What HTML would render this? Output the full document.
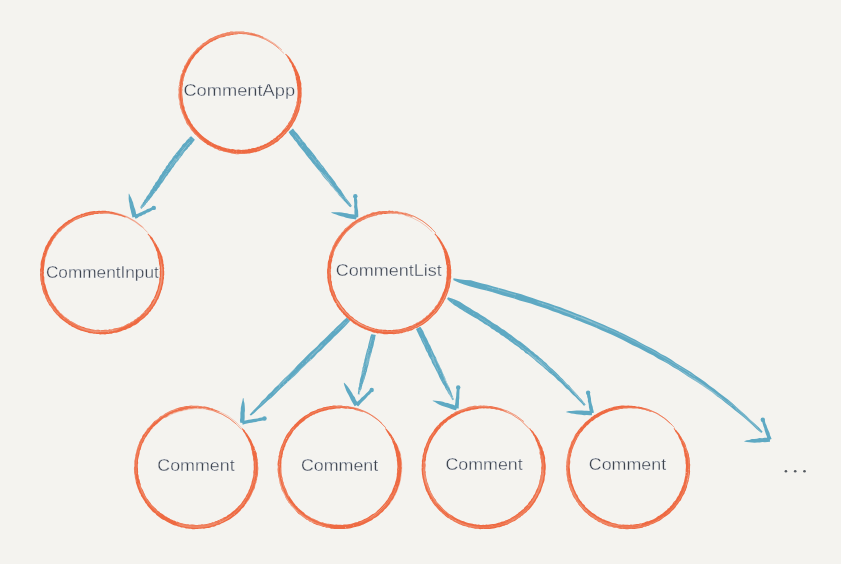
<!DOCTYPE html>
<html><head><meta charset="utf-8"><style>
html,body{margin:0;padding:0;background:#f4f3ef;}
svg{display:block}
text{font-family:"Liberation Sans",sans-serif;font-size:17px;fill:#3a3f46;stroke:#f4f3ef;stroke-width:0.3}
</style></head><body>
<svg width="841" height="564" viewBox="0 0 841 564">
<rect width="841" height="564" fill="#f4f3ef"/>
<path d="M191.18,136.25 L189.87,137.05 L188.89,138.18 L187.89,139.28 L186.73,140.23 L185.93,141.52 L184.96,142.63 L183.76,143.56 L182.68,144.59 L181.86,145.83 L181.10,147.13 L180.02,148.16 L179.23,149.42 L178.37,150.62 L177.30,151.66 L176.36,152.80 L175.47,153.98 L174.60,155.16 L173.50,156.18 L172.68,157.41 L172.02,158.76 L171.17,159.96 L170.12,161.01 L169.23,162.19 L168.34,163.36 L167.89,164.84 L166.68,165.78 L165.81,166.97 L165.36,168.44 L164.24,169.46 L163.71,170.87 L162.53,171.84 L162.07,173.30 L161.26,174.52 L160.17,175.55 L159.47,176.84 L158.82,178.17 L158.05,179.41 L157.26,180.65 L156.43,181.85 L155.32,182.86 L154.81,184.28 L154.06,185.54 L153.01,186.58 L152.54,188.03 L151.72,189.23 L150.70,190.30 L150.12,191.66 L149.43,192.95 L148.59,194.14 L147.75,195.33 L146.74,196.39 L146.12,197.73 L145.50,199.08 L144.43,200.09 L143.91,201.51 L142.93,202.59 L142.37,203.98 L141.31,205.00 L140.71,206.37 L140.08,207.72 L141.69,208.97 L142.35,207.63 L143.53,206.69 L144.64,205.70 L145.61,204.59 L146.26,203.25 L147.46,202.31 L148.14,200.99 L149.35,200.06 L150.12,198.81 L151.02,197.65 L151.99,196.54 L152.88,195.37 L153.57,194.06 L154.56,192.97 L155.41,191.78 L156.59,190.81 L157.32,189.53 L158.08,188.28 L159.15,187.23 L159.97,186.02 L160.60,184.69 L161.52,183.54 L162.46,182.41 L163.34,181.24 L164.07,179.97 L164.80,178.70 L165.59,177.47 L166.50,176.33 L167.56,175.29 L168.22,173.98 L169.03,172.77 L170.02,171.68 L170.77,170.43 L171.64,169.27 L172.38,168.01 L173.48,167.02 L174.14,165.71 L175.00,164.54 L175.72,163.27 L176.64,162.15 L177.70,161.13 L178.68,160.06 L179.26,158.69 L180.29,157.66 L181.16,156.51 L182.13,155.43 L182.87,154.19 L183.68,152.99 L184.52,151.81 L185.41,150.68 L186.56,149.76 L187.62,148.78 L188.21,147.38 L189.44,146.55 L190.20,145.30 L191.34,144.39 L192.20,143.23 L193.10,142.10 L193.93,140.91 L194.86,139.78Z" fill="#5ea9c3"/>
<path d="M179.71,155.38 L178.82,156.53 L177.94,157.69 L177.07,158.85 L176.20,160.02 L175.33,161.19 L174.47,162.36 L173.62,163.54 L172.76,164.72 L171.92,165.90 L171.07,167.09 L170.23,168.28" stroke="#f4f3ef" stroke-width="0.40" fill="none" opacity="0.50"/><path d="M148.21,199.24 L147.33,200.40 L146.44,201.56 L145.55,202.72 L144.65,203.87 L143.74,205.02 L142.83,206.16 L141.91,207.29 L140.98,208.42" stroke="#f4f3ef" stroke-width="0.40" fill="none" opacity="0.50"/><path d="M183.82,151.25 L182.91,152.37 L182.01,153.50 L181.12,154.64 L180.23,155.79 L179.34,156.93 L178.46,158.09" stroke="#f4f3ef" stroke-width="0.40" fill="none" opacity="0.50"/><path d="M166.79,172.99 L165.96,174.19 L165.13,175.39 L164.30,176.59 L163.47,177.80 L162.64,179.00 L161.81,180.20" stroke="#f4f3ef" stroke-width="0.40" fill="none" opacity="0.50"/><path d="M142.05,205.57 L141.21,206.75 L140.36,207.94" stroke="#f4f3ef" stroke-width="0.40" fill="none" opacity="0.50"/><path d="M189.33,142.58 L188.36,143.67 L187.40,144.77 L186.44,145.87 L185.50,146.98 L184.56,148.09 L183.63,149.21 L182.71,150.34 L181.79,151.47 L180.89,152.61" stroke="#f4f3ef" stroke-width="0.40" fill="none" opacity="0.50"/><path d="M180.54,156.03 L179.66,157.18 L178.78,158.33 L177.91,159.48 L177.04,160.65 L176.18,161.81" stroke="#f4f3ef" stroke-width="0.40" fill="none" opacity="0.50"/><path d="M175.97,158.03 L175.09,159.20 L174.23,160.37 L173.37,161.55 L172.51,162.74 L171.66,163.92 L170.81,165.11 L169.96,166.30 L169.12,167.50 L168.28,168.70 L167.45,169.90" stroke="#f4f3ef" stroke-width="0.40" fill="none" opacity="0.50"/><path d="M185.69,147.14 L184.75,148.25 L183.82,149.37 L182.90,150.50 L181.99,151.63 L181.08,152.77 L180.18,153.91" stroke="#f4f3ef" stroke-width="0.40" fill="none" opacity="0.50"/><path d="M142.46,204.05 L141.66,205.27 L140.86,206.48 L140.05,207.70" stroke="#f4f3ef" stroke-width="0.40" fill="none" opacity="0.50"/>
<circle cx="155.16" cy="186.28" r="0.38" fill="#f4f3ef" opacity="0.55"/><circle cx="141.22" cy="208.60" r="0.26" fill="#f4f3ef" opacity="0.55"/><circle cx="192.07" cy="139.14" r="0.34" fill="#f4f3ef" opacity="0.55"/><circle cx="173.22" cy="157.81" r="0.26" fill="#f4f3ef" opacity="0.55"/><circle cx="159.34" cy="185.59" r="0.27" fill="#f4f3ef" opacity="0.55"/><circle cx="176.00" cy="159.87" r="0.50" fill="#f4f3ef" opacity="0.55"/><circle cx="189.19" cy="142.45" r="0.34" fill="#f4f3ef" opacity="0.55"/><circle cx="189.48" cy="138.73" r="0.43" fill="#f4f3ef" opacity="0.55"/><circle cx="154.86" cy="191.40" r="0.49" fill="#f4f3ef" opacity="0.55"/><circle cx="174.13" cy="162.11" r="0.42" fill="#f4f3ef" opacity="0.55"/><circle cx="144.20" cy="205.36" r="0.46" fill="#f4f3ef" opacity="0.55"/><circle cx="140.28" cy="207.87" r="0.47" fill="#f4f3ef" opacity="0.55"/><circle cx="162.96" cy="180.98" r="0.42" fill="#f4f3ef" opacity="0.55"/><circle cx="170.57" cy="164.95" r="0.40" fill="#f4f3ef" opacity="0.55"/><circle cx="189.68" cy="144.84" r="0.28" fill="#f4f3ef" opacity="0.55"/><circle cx="176.22" cy="154.55" r="0.43" fill="#f4f3ef" opacity="0.55"/><circle cx="169.05" cy="163.86" r="0.42" fill="#f4f3ef" opacity="0.55"/><circle cx="167.00" cy="171.36" r="0.46" fill="#f4f3ef" opacity="0.55"/><circle cx="187.95" cy="143.31" r="0.38" fill="#f4f3ef" opacity="0.55"/><circle cx="174.78" cy="158.97" r="0.37" fill="#f4f3ef" opacity="0.55"/><circle cx="177.69" cy="151.96" r="0.28" fill="#f4f3ef" opacity="0.55"/><circle cx="149.86" cy="195.04" r="0.48" fill="#f4f3ef" opacity="0.55"/><circle cx="176.15" cy="154.50" r="0.34" fill="#f4f3ef" opacity="0.55"/><circle cx="183.48" cy="147.19" r="0.30" fill="#f4f3ef" opacity="0.55"/><circle cx="182.23" cy="148.06" r="0.34" fill="#f4f3ef" opacity="0.55"/>
<path d="M153.11,206.44 L151.32,207.62 L149.39,208.48 L147.34,209.09 L145.54,210.23 L143.60,211.09 L141.67,211.96 L139.71,212.76 L137.84,213.76 L135.71,214.20 L133.97,215.46 L135.51,218.70 L137.47,217.91 L139.20,216.61 L141.27,216.03 L142.99,214.73 L145.05,214.13 L146.79,212.86 L148.79,212.14 L150.65,211.13 L152.49,210.08 L154.40,209.16Z" fill="#5ea9c3"/>
<path d="M137.04,216.41 L136.18,214.15 L135.73,211.80 L135.20,209.46 L134.31,207.22 L133.61,204.93 L133.06,202.60 L132.09,200.37 L131.28,198.11 L130.17,195.92 L129.17,193.71 L128.67,193.83 L128.72,196.29 L128.64,198.78 L128.91,201.18 L129.45,203.51 L129.73,205.91 L130.13,208.28 L130.77,210.59 L131.29,212.93 L131.97,215.22 L132.41,217.58Z" fill="#5ea9c3"/>
<circle cx="153.80" cy="207.90" r="2.2" fill="#5ea9c3"/>
<path d="M288.62,132.01 L290.30,134.82 L292.52,137.19 L294.32,139.91 L296.54,142.28 L298.25,145.06 L300.30,147.58 L302.38,150.07 L304.50,152.53 L306.39,155.17 L308.41,157.70 L310.56,160.14 L312.36,162.85 L314.49,165.30 L316.52,167.83 L318.63,170.30 L320.73,172.77 L322.52,175.49 L324.50,178.06 L326.75,180.41 L328.90,182.85 L330.70,185.56 L333.04,187.84 L335.03,190.40 L337.17,192.84 L339.05,195.49 L341.27,197.87 L343.50,200.24 L345.74,202.61 L347.95,204.99 L350.18,207.36 L351.87,206.04 L350.09,203.31 L348.08,200.77 L346.09,198.21 L344.23,195.55 L342.45,192.82 L340.85,189.95 L338.60,187.60 L336.75,184.93 L335.09,182.10 L333.14,179.52 L331.24,176.88 L329.03,174.49 L327.14,171.86 L325.19,169.27 L323.35,166.59 L321.19,164.16 L319.38,161.45 L317.13,159.10 L315.39,156.35 L313.45,153.74 L311.43,151.20 L309.37,148.70 L307.08,146.38 L305.36,143.61 L303.16,141.21 L301.13,138.68 L299.20,136.08 L297.26,133.47 L294.97,131.15 L292.99,128.58Z" fill="#5ea9c3"/>
<path d="M318.15,162.42 L320.15,164.98 L322.14,167.54" stroke="#f4f3ef" stroke-width="0.40" fill="none" opacity="0.50"/><path d="M310.95,155.71 L312.96,158.26 L314.96,160.81 L316.96,163.36" stroke="#f4f3ef" stroke-width="0.40" fill="none" opacity="0.50"/><path d="M321.53,172.14 L323.56,174.67 L325.58,177.20 L327.62,179.73 L329.65,182.25 L331.69,184.77 L333.74,187.29" stroke="#f4f3ef" stroke-width="0.40" fill="none" opacity="0.50"/><path d="M333.39,187.56 L335.46,190.06 L337.55,192.55 L339.64,195.03 L341.74,197.50 L343.85,199.96" stroke="#f4f3ef" stroke-width="0.40" fill="none" opacity="0.50"/><path d="M319.08,169.94 L321.11,172.47 L323.14,175.00 L325.17,177.53 L327.21,180.05 L329.26,182.56 L331.32,185.07" stroke="#f4f3ef" stroke-width="0.40" fill="none" opacity="0.50"/><path d="M295.05,135.21 L297.06,137.76 L299.06,140.31 L301.06,142.86" stroke="#f4f3ef" stroke-width="0.40" fill="none" opacity="0.50"/><path d="M323.59,174.65 L325.62,177.18 L327.65,179.71 L329.68,182.23 L331.73,184.75" stroke="#f4f3ef" stroke-width="0.40" fill="none" opacity="0.50"/><path d="M324.77,173.72 L326.77,176.27 L328.78,178.82 L330.79,181.36" stroke="#f4f3ef" stroke-width="0.40" fill="none" opacity="0.50"/><path d="M343.51,196.11 L345.46,198.71 L347.39,201.31 L349.32,203.92 L351.24,206.53" stroke="#f4f3ef" stroke-width="0.40" fill="none" opacity="0.50"/><path d="M331.30,185.08 L333.36,187.59 L335.44,190.08 L337.52,192.57 L339.61,195.05 L341.72,197.52" stroke="#f4f3ef" stroke-width="0.40" fill="none" opacity="0.50"/>
<circle cx="343.89" cy="199.93" r="0.30" fill="#f4f3ef" opacity="0.55"/><circle cx="345.78" cy="198.45" r="0.39" fill="#f4f3ef" opacity="0.55"/><circle cx="306.51" cy="150.95" r="0.30" fill="#f4f3ef" opacity="0.55"/><circle cx="326.44" cy="172.41" r="0.25" fill="#f4f3ef" opacity="0.55"/><circle cx="316.88" cy="159.30" r="0.49" fill="#f4f3ef" opacity="0.55"/><circle cx="321.11" cy="172.47" r="0.39" fill="#f4f3ef" opacity="0.55"/><circle cx="328.38" cy="175.00" r="0.27" fill="#f4f3ef" opacity="0.55"/><circle cx="302.72" cy="141.55" r="0.38" fill="#f4f3ef" opacity="0.55"/><circle cx="315.04" cy="164.87" r="0.45" fill="#f4f3ef" opacity="0.55"/><circle cx="315.84" cy="160.12" r="0.37" fill="#f4f3ef" opacity="0.55"/><circle cx="299.52" cy="139.95" r="0.48" fill="#f4f3ef" opacity="0.55"/><circle cx="348.15" cy="204.84" r="0.37" fill="#f4f3ef" opacity="0.55"/><circle cx="312.54" cy="154.46" r="0.35" fill="#f4f3ef" opacity="0.55"/><circle cx="289.21" cy="131.55" r="0.28" fill="#f4f3ef" opacity="0.55"/><circle cx="337.35" cy="192.70" r="0.26" fill="#f4f3ef" opacity="0.55"/><circle cx="300.01" cy="139.56" r="0.42" fill="#f4f3ef" opacity="0.55"/><circle cx="309.86" cy="156.57" r="0.31" fill="#f4f3ef" opacity="0.55"/><circle cx="322.52" cy="167.24" r="0.43" fill="#f4f3ef" opacity="0.55"/><circle cx="295.27" cy="139.16" r="0.41" fill="#f4f3ef" opacity="0.55"/><circle cx="335.95" cy="185.55" r="0.38" fill="#f4f3ef" opacity="0.55"/><circle cx="318.89" cy="161.84" r="0.41" fill="#f4f3ef" opacity="0.55"/><circle cx="342.81" cy="196.66" r="0.29" fill="#f4f3ef" opacity="0.55"/><circle cx="301.22" cy="146.85" r="0.38" fill="#f4f3ef" opacity="0.55"/><circle cx="302.69" cy="145.70" r="0.46" fill="#f4f3ef" opacity="0.55"/><circle cx="328.52" cy="179.02" r="0.28" fill="#f4f3ef" opacity="0.55"/>
<path d="M353.70,196.29 L354.05,198.40 L353.99,200.53 L354.26,202.64 L354.34,204.76 L354.06,206.90 L354.53,209.00 L354.43,211.14 L354.44,213.26 L354.68,215.38 L354.45,217.52 L358.20,217.30 L358.29,215.17 L358.16,213.05 L358.11,210.93 L357.66,208.83 L357.36,206.72 L357.18,204.60 L357.35,202.46 L357.23,200.34 L356.71,198.25 L356.76,196.12Z" fill="#5ea9c3"/>
<path d="M356.93,215.21 L354.44,214.59 L351.92,214.17 L349.37,213.88 L346.90,213.19 L344.34,212.97 L341.82,212.49 L339.28,212.16 L336.64,212.35 L334.04,212.32 L331.43,212.36 L331.34,212.83 L333.78,213.66 L336.21,214.57 L338.62,215.57 L341.07,216.35 L343.61,216.71 L346.02,217.67 L348.51,218.31 L351.05,218.64 L353.58,219.00 L356.09,219.49Z" fill="#5ea9c3"/>
<circle cx="355.30" cy="196.20" r="2.2" fill="#5ea9c3"/>
<path d="M346.91,317.47 L343.40,320.44 L340.22,323.75 L336.83,326.83 L333.63,330.11 L330.20,333.17 L327.07,336.53 L323.74,339.67 L320.26,342.68 L317.27,346.18 L313.92,349.31 L310.46,352.33 L307.17,355.52 L304.02,358.86 L300.75,362.07 L297.43,365.23 L294.40,368.69 L291.13,371.91 L287.89,375.15 L284.51,378.25 L281.32,381.54 L278.17,384.88 L274.75,387.94 L271.79,391.47 L268.28,394.44 L265.42,398.08 L261.93,401.06 L259.03,404.65 L255.89,408.01 L252.65,411.24 L249.64,414.72 L250.73,415.85 L254.31,412.94 L257.59,409.74 L261.12,406.79 L264.48,403.67 L267.86,400.57 L271.45,397.69 L274.81,394.57 L277.96,391.23 L281.26,388.05 L284.60,384.90 L287.99,381.81 L291.30,378.64 L294.82,375.68 L298.06,372.44 L301.20,369.10 L304.52,365.94 L307.77,362.69 L311.32,359.77 L314.59,356.55 L317.60,353.07 L321.13,350.13 L324.35,346.86 L327.55,343.58 L330.84,340.39 L334.00,337.06 L337.39,333.97 L340.67,330.76 L343.96,327.57 L347.03,324.16 L350.14,320.77Z" fill="#5ea9c3"/>
<path d="M310.79,359.22 L307.50,362.42 L304.20,365.61 L300.91,368.79 L297.61,371.98 L294.31,375.16 L291.00,378.33" stroke="#f4f3ef" stroke-width="0.40" fill="none" opacity="0.50"/><path d="M285.58,379.34 L282.32,382.57 L279.06,385.79" stroke="#f4f3ef" stroke-width="0.40" fill="none" opacity="0.50"/><path d="M322.68,345.16 L319.40,348.36 L316.12,351.56 L312.84,354.76 L309.56,357.97 L306.28,361.17" stroke="#f4f3ef" stroke-width="0.40" fill="none" opacity="0.50"/><path d="M344.86,321.93 L341.55,325.11 L338.27,328.31 L334.99,331.52" stroke="#f4f3ef" stroke-width="0.40" fill="none" opacity="0.50"/><path d="M349.27,319.89 L346.07,323.18 L342.83,326.42" stroke="#f4f3ef" stroke-width="0.40" fill="none" opacity="0.50"/><path d="M322.20,344.66 L318.92,347.86 L315.64,351.07 L312.36,354.27 L309.08,357.47" stroke="#f4f3ef" stroke-width="0.40" fill="none" opacity="0.50"/><path d="M294.66,368.96 L291.40,372.19 L288.15,375.42 L284.90,378.65 L281.66,381.90 L278.42,385.14" stroke="#f4f3ef" stroke-width="0.40" fill="none" opacity="0.50"/><path d="M289.14,376.43 L285.87,379.65 L282.60,382.86" stroke="#f4f3ef" stroke-width="0.40" fill="none" opacity="0.50"/><path d="M266.49,399.17 L263.22,402.38 L259.95,405.60" stroke="#f4f3ef" stroke-width="0.40" fill="none" opacity="0.50"/><path d="M280.04,386.79 L276.74,389.98 L273.45,393.17" stroke="#f4f3ef" stroke-width="0.40" fill="none" opacity="0.50"/>
<circle cx="250.61" cy="415.72" r="0.37" fill="#f4f3ef" opacity="0.55"/><circle cx="330.95" cy="333.93" r="0.39" fill="#f4f3ef" opacity="0.55"/><circle cx="287.67" cy="381.49" r="0.49" fill="#f4f3ef" opacity="0.55"/><circle cx="306.70" cy="361.60" r="0.35" fill="#f4f3ef" opacity="0.55"/><circle cx="319.55" cy="348.51" r="0.32" fill="#f4f3ef" opacity="0.55"/><circle cx="283.71" cy="383.99" r="0.48" fill="#f4f3ef" opacity="0.55"/><circle cx="279.08" cy="385.81" r="0.32" fill="#f4f3ef" opacity="0.55"/><circle cx="347.78" cy="318.36" r="0.40" fill="#f4f3ef" opacity="0.55"/><circle cx="284.05" cy="384.35" r="0.44" fill="#f4f3ef" opacity="0.55"/><circle cx="310.79" cy="359.23" r="0.33" fill="#f4f3ef" opacity="0.55"/><circle cx="310.80" cy="359.24" r="0.50" fill="#f4f3ef" opacity="0.55"/><circle cx="250.42" cy="415.52" r="0.45" fill="#f4f3ef" opacity="0.55"/><circle cx="325.89" cy="341.88" r="0.37" fill="#f4f3ef" opacity="0.55"/><circle cx="270.54" cy="396.76" r="0.38" fill="#f4f3ef" opacity="0.55"/><circle cx="253.02" cy="411.62" r="0.48" fill="#f4f3ef" opacity="0.55"/><circle cx="333.79" cy="330.29" r="0.45" fill="#f4f3ef" opacity="0.55"/><circle cx="285.63" cy="379.40" r="0.26" fill="#f4f3ef" opacity="0.55"/><circle cx="306.11" cy="361.00" r="0.30" fill="#f4f3ef" opacity="0.55"/><circle cx="345.80" cy="322.89" r="0.29" fill="#f4f3ef" opacity="0.55"/><circle cx="312.72" cy="354.64" r="0.42" fill="#f4f3ef" opacity="0.55"/><circle cx="302.33" cy="363.69" r="0.41" fill="#f4f3ef" opacity="0.55"/><circle cx="279.96" cy="386.71" r="0.44" fill="#f4f3ef" opacity="0.55"/><circle cx="295.07" cy="369.37" r="0.28" fill="#f4f3ef" opacity="0.55"/><circle cx="318.26" cy="347.19" r="0.31" fill="#f4f3ef" opacity="0.55"/><circle cx="338.75" cy="328.80" r="0.33" fill="#f4f3ef" opacity="0.55"/>
<path d="M264.23,417.12 L262.03,417.62 L259.75,417.78 L257.57,418.42 L255.34,418.78 L253.09,419.03 L250.89,419.56 L248.62,419.73 L246.42,420.29 L244.21,420.78 L241.96,421.04 L242.69,424.79 L244.85,424.05 L247.04,423.47 L249.25,422.99 L251.52,422.84 L253.73,422.34 L255.97,422.01 L258.11,421.20 L260.36,420.93 L262.57,420.41 L264.80,420.04Z" fill="#5ea9c3"/>
<path d="M244.70,422.89 L244.46,420.43 L244.66,417.98 L244.66,415.53 L244.60,413.07 L244.93,410.63 L244.87,408.17 L244.70,405.72 L244.45,403.25 L243.79,400.77 L243.62,398.32 L242.90,398.29 L242.43,400.73 L241.77,403.15 L241.32,405.59 L240.80,408.03 L240.75,410.48 L240.36,412.92 L240.40,415.37 L240.36,417.82 L239.95,420.26 L240.27,422.73Z" fill="#5ea9c3"/>
<circle cx="264.50" cy="418.50" r="2.2" fill="#5ea9c3"/>
<path d="M371.64,333.90 L370.63,335.78 L370.09,337.77 L369.67,339.80 L369.13,341.80 L368.61,343.80 L368.16,345.81 L367.87,347.87 L366.93,349.76 L366.53,351.80 L366.00,353.79 L365.44,355.78 L365.06,357.82 L364.44,359.79 L364.18,361.86 L363.47,363.81 L363.30,365.90 L362.48,367.82 L362.39,369.93 L361.69,371.89 L361.55,373.98 L361.15,376.01 L360.45,377.97 L359.96,379.97 L359.72,382.05 L359.23,384.05 L359.10,386.15 L358.37,388.10 L358.34,390.22 L358.05,392.28 L357.81,394.35 L359.39,394.75 L359.83,392.73 L360.41,390.75 L361.45,388.88 L361.93,386.87 L362.43,384.86 L363.04,382.89 L363.76,380.93 L364.56,379.01 L365.09,377.01 L365.74,375.04 L366.15,373.01 L366.93,371.08 L367.23,369.02 L367.81,367.04 L368.42,365.06 L368.91,363.05 L369.30,361.02 L369.82,359.02 L370.29,357.01 L370.86,355.02 L371.45,353.04 L372.01,351.05 L372.38,349.01 L373.14,347.07 L373.64,345.07 L373.96,343.02 L374.42,341.00 L375.05,339.03 L375.24,336.95 L375.79,334.95Z" fill="#5ea9c3"/>
<path d="M366.69,360.36 L366.18,362.36 L365.68,364.37" stroke="#f4f3ef" stroke-width="0.40" fill="none" opacity="0.50"/><path d="M370.73,352.86 L370.22,354.86 L369.70,356.86 L369.19,358.86 L368.67,360.86 L368.15,362.86 L367.63,364.86" stroke="#f4f3ef" stroke-width="0.40" fill="none" opacity="0.50"/><path d="M371.62,338.16 L371.11,340.17 L370.61,342.17 L370.10,344.17 L369.60,346.18" stroke="#f4f3ef" stroke-width="0.40" fill="none" opacity="0.50"/><path d="M360.26,390.71 L359.62,392.68 L358.97,394.65" stroke="#f4f3ef" stroke-width="0.40" fill="none" opacity="0.50"/><path d="M364.90,374.83 L364.34,376.82 L363.78,378.81 L363.22,380.80" stroke="#f4f3ef" stroke-width="0.40" fill="none" opacity="0.50"/><path d="M361.08,386.65 L360.51,388.64 L359.93,390.62 L359.35,392.61 L358.75,394.59" stroke="#f4f3ef" stroke-width="0.40" fill="none" opacity="0.50"/><path d="M368.97,348.15 L368.47,350.15 L367.96,352.16 L367.46,354.16 L366.96,356.17 L366.46,358.17" stroke="#f4f3ef" stroke-width="0.40" fill="none" opacity="0.50"/><path d="M364.47,366.19 L363.98,368.20 L363.49,370.21 L363.01,372.22 L362.53,374.23" stroke="#f4f3ef" stroke-width="0.40" fill="none" opacity="0.50"/><path d="M368.17,358.60 L367.66,360.61 L367.15,362.61 L366.63,364.61 L366.12,366.61" stroke="#f4f3ef" stroke-width="0.40" fill="none" opacity="0.50"/><path d="M368.56,354.44 L368.05,356.44 L367.55,358.45 L367.04,360.45" stroke="#f4f3ef" stroke-width="0.40" fill="none" opacity="0.50"/>
<circle cx="363.74" cy="368.14" r="0.27" fill="#f4f3ef" opacity="0.55"/><circle cx="362.35" cy="372.05" r="0.35" fill="#f4f3ef" opacity="0.55"/><circle cx="359.09" cy="386.15" r="0.34" fill="#f4f3ef" opacity="0.55"/><circle cx="372.47" cy="334.11" r="0.46" fill="#f4f3ef" opacity="0.55"/><circle cx="359.49" cy="390.51" r="0.39" fill="#f4f3ef" opacity="0.55"/><circle cx="373.51" cy="334.38" r="0.43" fill="#f4f3ef" opacity="0.55"/><circle cx="362.10" cy="384.78" r="0.48" fill="#f4f3ef" opacity="0.55"/><circle cx="359.56" cy="392.66" r="0.44" fill="#f4f3ef" opacity="0.55"/><circle cx="363.94" cy="374.59" r="0.29" fill="#f4f3ef" opacity="0.55"/><circle cx="371.04" cy="346.54" r="0.38" fill="#f4f3ef" opacity="0.55"/><circle cx="367.50" cy="349.91" r="0.26" fill="#f4f3ef" opacity="0.55"/><circle cx="368.04" cy="352.18" r="0.33" fill="#f4f3ef" opacity="0.55"/><circle cx="370.37" cy="342.11" r="0.29" fill="#f4f3ef" opacity="0.55"/><circle cx="372.04" cy="336.14" r="0.25" fill="#f4f3ef" opacity="0.55"/><circle cx="364.28" cy="364.02" r="0.26" fill="#f4f3ef" opacity="0.55"/><circle cx="373.40" cy="340.74" r="0.34" fill="#f4f3ef" opacity="0.55"/><circle cx="365.54" cy="370.73" r="0.43" fill="#f4f3ef" opacity="0.55"/><circle cx="363.94" cy="372.45" r="0.36" fill="#f4f3ef" opacity="0.55"/><circle cx="359.89" cy="390.61" r="0.29" fill="#f4f3ef" opacity="0.55"/><circle cx="360.04" cy="382.13" r="0.41" fill="#f4f3ef" opacity="0.55"/><circle cx="357.93" cy="394.38" r="0.37" fill="#f4f3ef" opacity="0.55"/><circle cx="369.61" cy="350.44" r="0.35" fill="#f4f3ef" opacity="0.55"/><circle cx="358.63" cy="394.56" r="0.39" fill="#f4f3ef" opacity="0.55"/><circle cx="359.00" cy="394.65" r="0.47" fill="#f4f3ef" opacity="0.55"/><circle cx="369.46" cy="358.93" r="0.49" fill="#f4f3ef" opacity="0.55"/>
<path d="M370.60,388.90 L369.15,390.47 L367.70,392.04 L366.02,393.38 L364.70,395.08 L363.03,396.43 L361.36,397.78 L360.01,399.45 L358.41,400.87 L356.67,402.15 L355.21,403.71 L358.12,406.62 L359.42,404.90 L360.81,403.27 L362.25,401.69 L363.88,400.30 L365.42,398.82 L366.78,397.16 L368.17,395.53 L369.91,394.25 L371.22,392.54 L372.65,390.95Z" fill="#5ea9c3"/>
<path d="M358.40,404.06 L357.07,401.87 L355.72,399.69 L354.79,397.27 L353.14,395.26 L352.05,392.93 L350.53,390.85 L349.26,388.63 L347.65,386.60 L345.94,384.62 L344.20,382.67 L343.76,382.92 L344.38,385.52 L345.31,387.94 L346.18,390.40 L347.31,392.71 L348.62,394.91 L349.74,397.22 L350.74,399.60 L352.00,401.84 L353.30,404.05 L354.68,406.21Z" fill="#5ea9c3"/>
<circle cx="371.70" cy="390.00" r="2.2" fill="#5ea9c3"/>
<path d="M416.01,328.91 L417.05,331.37 L418.26,333.75 L419.36,336.18 L420.62,338.53 L421.61,341.01 L422.83,343.39 L424.10,345.73 L425.11,348.21 L426.11,350.69 L427.65,352.91 L428.51,355.45 L429.75,357.82 L431.18,360.09 L432.00,362.65 L433.28,365.00 L434.58,367.33 L435.81,369.70 L436.98,372.10 L438.25,374.44 L439.26,376.92 L440.40,379.33 L441.75,381.64 L442.96,384.02 L444.54,386.21 L445.58,388.67 L447.11,390.90 L448.13,393.37 L449.80,395.52 L451.12,397.84 L452.39,400.19 L453.86,399.48 L452.94,396.96 L452.01,394.45 L451.18,391.89 L450.09,389.45 L449.20,386.92 L447.88,384.60 L446.82,382.14 L445.86,379.65 L444.88,377.16 L443.69,374.77 L442.53,372.37 L441.63,369.84 L440.36,367.49 L439.32,365.03 L438.08,362.67 L436.90,360.28 L436.11,357.70 L434.72,355.41 L433.47,353.05 L432.38,350.61 L431.35,348.15 L430.33,345.68 L428.91,343.40 L427.88,340.94 L426.73,338.53 L425.39,336.22 L424.22,333.82 L423.30,331.31 L421.87,329.03 L420.31,326.83Z" fill="#5ea9c3"/>
<path d="M447.41,390.75 L448.68,393.10 L449.97,395.44 L451.27,397.77 L452.59,400.10" stroke="#f4f3ef" stroke-width="0.40" fill="none" opacity="0.50"/><path d="M421.82,337.95 L422.99,340.35 L424.15,342.75 L425.32,345.15" stroke="#f4f3ef" stroke-width="0.40" fill="none" opacity="0.50"/><path d="M448.59,390.18 L449.75,392.58 L450.91,394.98 L452.07,397.38 L453.22,399.79" stroke="#f4f3ef" stroke-width="0.40" fill="none" opacity="0.50"/><path d="M435.43,358.03 L436.58,360.43 L437.72,362.84 L438.86,365.26 L439.99,367.67 L441.12,370.09 L442.24,372.51" stroke="#f4f3ef" stroke-width="0.40" fill="none" opacity="0.50"/><path d="M431.43,357.00 L432.60,359.40 L433.76,361.80 L434.94,364.19 L436.11,366.59 L437.29,368.98 L438.46,371.38" stroke="#f4f3ef" stroke-width="0.40" fill="none" opacity="0.50"/><path d="M446.92,388.02 L448.12,390.41 L449.33,392.79 L450.53,395.16" stroke="#f4f3ef" stroke-width="0.40" fill="none" opacity="0.50"/><path d="M442.23,372.51 L443.34,374.94 L444.45,377.37 L445.55,379.80 L446.63,382.24 L447.71,384.68 L448.78,387.13" stroke="#f4f3ef" stroke-width="0.40" fill="none" opacity="0.50"/><path d="M430.60,351.48 L431.76,353.88 L432.92,356.28 L434.08,358.68" stroke="#f4f3ef" stroke-width="0.40" fill="none" opacity="0.50"/><path d="M443.02,375.10 L444.14,377.52 L445.25,379.94 L446.35,382.37 L447.44,384.81 L448.52,387.25" stroke="#f4f3ef" stroke-width="0.40" fill="none" opacity="0.50"/><path d="M432.22,356.62 L433.38,359.02 L434.55,361.42 L435.71,363.82" stroke="#f4f3ef" stroke-width="0.40" fill="none" opacity="0.50"/>
<circle cx="448.02" cy="387.49" r="0.28" fill="#f4f3ef" opacity="0.55"/><circle cx="445.15" cy="379.99" r="0.44" fill="#f4f3ef" opacity="0.55"/><circle cx="451.33" cy="394.78" r="0.31" fill="#f4f3ef" opacity="0.55"/><circle cx="440.40" cy="373.40" r="0.29" fill="#f4f3ef" opacity="0.55"/><circle cx="445.00" cy="380.06" r="0.48" fill="#f4f3ef" opacity="0.55"/><circle cx="443.13" cy="380.97" r="0.48" fill="#f4f3ef" opacity="0.55"/><circle cx="437.39" cy="371.90" r="0.41" fill="#f4f3ef" opacity="0.55"/><circle cx="424.03" cy="342.81" r="0.28" fill="#f4f3ef" opacity="0.55"/><circle cx="435.42" cy="363.96" r="0.42" fill="#f4f3ef" opacity="0.55"/><circle cx="431.77" cy="350.91" r="0.47" fill="#f4f3ef" opacity="0.55"/><circle cx="427.77" cy="346.92" r="0.28" fill="#f4f3ef" opacity="0.55"/><circle cx="446.34" cy="382.38" r="0.48" fill="#f4f3ef" opacity="0.55"/><circle cx="437.88" cy="368.69" r="0.27" fill="#f4f3ef" opacity="0.55"/><circle cx="452.49" cy="397.18" r="0.48" fill="#f4f3ef" opacity="0.55"/><circle cx="450.15" cy="395.35" r="0.40" fill="#f4f3ef" opacity="0.55"/><circle cx="419.82" cy="335.95" r="0.25" fill="#f4f3ef" opacity="0.55"/><circle cx="441.21" cy="378.94" r="0.31" fill="#f4f3ef" opacity="0.55"/><circle cx="439.81" cy="370.72" r="0.29" fill="#f4f3ef" opacity="0.55"/><circle cx="440.21" cy="373.49" r="0.27" fill="#f4f3ef" opacity="0.55"/><circle cx="419.88" cy="330.00" r="0.45" fill="#f4f3ef" opacity="0.55"/><circle cx="451.19" cy="397.81" r="0.41" fill="#f4f3ef" opacity="0.55"/><circle cx="427.61" cy="349.96" r="0.46" fill="#f4f3ef" opacity="0.55"/><circle cx="452.26" cy="397.29" r="0.40" fill="#f4f3ef" opacity="0.55"/><circle cx="446.57" cy="388.20" r="0.29" fill="#f4f3ef" opacity="0.55"/><circle cx="433.57" cy="358.93" r="0.29" fill="#f4f3ef" opacity="0.55"/>
<path d="M456.86,387.30 L456.77,389.40 L456.52,391.48 L456.29,393.57 L456.23,395.66 L455.98,397.74 L455.55,399.81 L455.45,401.91 L455.11,403.98 L454.88,406.07 L454.56,408.15 L458.76,408.45 L458.69,406.34 L458.92,404.26 L458.96,402.16 L458.98,400.06 L459.32,397.98 L459.28,395.88 L459.37,393.79 L459.43,391.69 L459.51,389.59 L459.63,387.50Z" fill="#5ea9c3"/>
<path d="M457.42,406.03 L454.97,405.48 L452.65,404.50 L450.19,403.94 L447.84,403.05 L445.30,402.78 L442.99,401.76 L440.48,401.37 L437.95,401.07 L435.38,400.85 L432.87,400.49 L432.72,400.94 L434.99,402.09 L437.17,403.51 L439.43,404.66 L441.76,405.64 L444.10,406.54 L446.52,407.20 L448.88,408.06 L451.25,408.88 L453.63,409.67 L456.05,410.35Z" fill="#5ea9c3"/>
<circle cx="458.20" cy="387.40" r="2.2" fill="#5ea9c3"/>
<path d="M447.06,299.02 L449.41,301.27 L451.93,303.17 L454.32,305.22 L457.06,306.65 L459.46,308.59 L462.08,310.11 L464.68,311.63 L467.25,313.16 L469.74,314.77 L472.29,316.27 L474.85,317.70 L477.46,319.02 L479.83,320.69 L482.33,322.13 L484.54,324.00 L487.06,325.35 L489.53,326.77 L491.65,328.68 L494.11,330.07 L496.31,331.83 L498.84,333.08 L500.93,334.95 L503.43,336.24 L505.66,337.89 L507.97,339.41 L509.98,341.35 L512.32,342.82 L514.47,344.55 L516.92,345.88 L519.06,347.61 L521.09,349.49 L523.51,350.87 L525.44,352.88 L527.88,354.24 L529.98,356.05 L532.18,357.74 L534.33,359.51 L536.30,361.49 L538.49,363.22 L540.66,365.00 L542.90,366.71 L544.93,368.69 L547.08,370.54 L549.11,372.55 L551.40,374.28 L553.71,376.03 L555.78,378.07 L557.75,380.23 L560.08,382.04 L562.26,384.05 L564.32,386.20 L566.36,388.40 L568.85,390.19 L570.77,392.57 L572.90,394.78 L575.38,396.71 L577.42,399.08 L579.64,401.32 L581.93,403.54 L584.06,405.95 L585.68,404.50 L583.55,402.08 L581.59,399.54 L579.37,397.27 L577.37,394.83 L575.28,392.52 L573.17,390.26 L571.13,387.97 L569.24,385.55 L566.88,383.63 L564.84,381.43 L562.92,379.13 L560.61,377.26 L558.58,375.12 L556.60,372.95 L554.48,370.95 L552.35,368.99 L550.13,367.15 L548.08,365.14 L546.18,362.97 L543.83,361.34 L541.91,359.22 L539.61,357.56 L537.56,355.62 L535.25,354.00 L533.26,352.00 L530.94,350.42 L528.84,348.58 L526.73,346.74 L524.54,345.01 L522.39,343.23 L520.12,341.61 L517.69,340.21 L515.49,338.49 L513.25,336.83 L511.18,334.92 L508.79,333.46 L506.60,331.69 L504.32,330.06 L501.83,328.71 L499.55,327.04 L497.33,325.27 L494.79,323.95 L492.33,322.49 L490.09,320.69 L487.62,319.21 L485.33,317.44 L482.72,316.12 L480.23,314.60 L477.93,312.74 L475.20,311.54 L472.67,310.00 L470.24,308.24 L467.58,306.83 L465.04,305.18 L462.49,303.51 L459.91,301.84 L457.07,300.55 L454.17,299.35 L451.21,298.19 L448.05,297.33Z" fill="#5ea9c3"/>
<path d="M526.96,350.96 L529.13,352.68 L531.30,354.42 L533.46,356.18 L535.62,357.96 L537.77,359.75 L539.91,361.56 L542.05,363.39" stroke="#f4f3ef" stroke-width="0.40" fill="none" opacity="0.50"/><path d="M562.34,379.72 L564.44,381.84 L566.53,383.98 L568.62,386.16 L570.72,388.37 L572.81,390.61 L574.90,392.89 L576.99,395.19" stroke="#f4f3ef" stroke-width="0.40" fill="none" opacity="0.50"/><path d="M513.52,341.19 L515.75,342.83 L517.97,344.48 L520.18,346.14 L522.38,347.82 L524.57,349.51 L526.75,351.22 L528.93,352.94 L531.09,354.68" stroke="#f4f3ef" stroke-width="0.40" fill="none" opacity="0.50"/><path d="M530.77,355.08 L532.93,356.83 L535.09,358.59 L537.24,360.37 L539.39,362.18 L541.53,364.00 L543.67,365.84 L545.80,367.70 L547.94,369.58 L550.07,371.49" stroke="#f4f3ef" stroke-width="0.40" fill="none" opacity="0.50"/><path d="M564.10,382.18 L566.20,384.32 L568.31,386.48 L570.41,388.67 L572.51,390.89 L574.62,393.15 L576.73,395.44 L578.84,397.76 L580.95,400.12" stroke="#f4f3ef" stroke-width="0.40" fill="none" opacity="0.50"/><path d="M528.42,353.57 L530.59,355.30 L532.75,357.05 L534.91,358.81 L537.06,360.59 L539.21,362.39 L541.35,364.20 L543.49,366.04 L545.63,367.90" stroke="#f4f3ef" stroke-width="0.40" fill="none" opacity="0.50"/><path d="M538.67,358.67 L540.81,360.50 L542.95,362.35 L545.08,364.23 L547.20,366.12 L549.32,368.04 L551.44,369.99 L553.56,371.95 L555.67,373.95 L557.78,375.97 L559.88,378.01 L561.99,380.09 L564.09,382.19" stroke="#f4f3ef" stroke-width="0.40" fill="none" opacity="0.50"/><path d="M478.63,317.15 L481.09,318.70 L483.53,320.25 L485.95,321.80 L488.36,323.36 L490.75,324.91" stroke="#f4f3ef" stroke-width="0.40" fill="none" opacity="0.50"/><path d="M574.50,393.27 L576.61,395.55 L578.73,397.86 L580.85,400.21 L582.98,402.59 L585.11,405.01" stroke="#f4f3ef" stroke-width="0.40" fill="none" opacity="0.50"/><path d="M537.73,359.80 L539.87,361.61 L542.01,363.44 L544.15,365.29 L546.28,367.16 L548.41,369.06" stroke="#f4f3ef" stroke-width="0.40" fill="none" opacity="0.50"/>
<circle cx="565.82" cy="384.70" r="0.36" fill="#f4f3ef" opacity="0.55"/><circle cx="487.57" cy="324.57" r="0.26" fill="#f4f3ef" opacity="0.55"/><circle cx="465.14" cy="310.86" r="0.39" fill="#f4f3ef" opacity="0.55"/><circle cx="529.16" cy="352.65" r="0.43" fill="#f4f3ef" opacity="0.55"/><circle cx="541.20" cy="360.05" r="0.33" fill="#f4f3ef" opacity="0.55"/><circle cx="452.62" cy="301.98" r="0.45" fill="#f4f3ef" opacity="0.55"/><circle cx="557.12" cy="376.66" r="0.32" fill="#f4f3ef" opacity="0.55"/><circle cx="535.88" cy="357.64" r="0.41" fill="#f4f3ef" opacity="0.55"/><circle cx="526.00" cy="347.68" r="0.31" fill="#f4f3ef" opacity="0.55"/><circle cx="473.84" cy="313.75" r="0.41" fill="#f4f3ef" opacity="0.55"/><circle cx="537.18" cy="360.44" r="0.27" fill="#f4f3ef" opacity="0.55"/><circle cx="511.82" cy="338.80" r="0.42" fill="#f4f3ef" opacity="0.55"/><circle cx="551.65" cy="374.02" r="0.26" fill="#f4f3ef" opacity="0.55"/><circle cx="522.09" cy="348.20" r="0.40" fill="#f4f3ef" opacity="0.55"/><circle cx="469.70" cy="309.13" r="0.36" fill="#f4f3ef" opacity="0.55"/><circle cx="555.89" cy="377.95" r="0.25" fill="#f4f3ef" opacity="0.55"/><circle cx="510.60" cy="340.49" r="0.29" fill="#f4f3ef" opacity="0.55"/><circle cx="509.31" cy="337.54" r="0.37" fill="#f4f3ef" opacity="0.55"/><circle cx="583.36" cy="402.25" r="0.26" fill="#f4f3ef" opacity="0.55"/><circle cx="552.22" cy="373.40" r="0.43" fill="#f4f3ef" opacity="0.55"/><circle cx="484.27" cy="319.09" r="0.28" fill="#f4f3ef" opacity="0.55"/><circle cx="572.59" cy="390.82" r="0.37" fill="#f4f3ef" opacity="0.55"/><circle cx="583.14" cy="402.45" r="0.33" fill="#f4f3ef" opacity="0.55"/><circle cx="584.29" cy="405.75" r="0.40" fill="#f4f3ef" opacity="0.55"/><circle cx="453.76" cy="300.05" r="0.40" fill="#f4f3ef" opacity="0.55"/>
<path d="M586.48,393.01 L587.03,395.03 L587.22,397.12 L587.91,399.11 L587.87,401.24 L588.49,403.25 L588.81,405.31 L588.97,407.40 L589.46,409.43 L589.75,411.50 L590.15,413.55 L593.86,412.85 L593.55,410.78 L592.94,408.77 L592.70,406.69 L591.99,404.71 L591.45,402.68 L591.09,400.63 L590.97,398.53 L590.56,396.48 L590.12,394.44 L589.59,392.42Z" fill="#5ea9c3"/>
<path d="M592.11,410.94 L589.54,410.88 L586.97,410.79 L584.39,410.75 L581.83,410.50 L579.26,410.40 L576.68,410.52 L574.09,410.79 L571.49,411.08 L568.92,411.04 L566.31,411.78 L566.28,412.32 L568.84,412.70 L571.37,413.58 L573.94,413.73 L576.48,414.37 L579.05,414.58 L581.61,414.81 L584.17,415.20 L586.76,414.90 L589.32,415.29 L591.90,415.24Z" fill="#5ea9c3"/>
<circle cx="588.10" cy="392.70" r="2.2" fill="#5ea9c3"/>
<path d="M453.14,280.09 L458.51,282.43 L463.96,284.45 L469.47,286.21 L475.01,287.83 L480.62,289.24 L486.26,290.51 L491.86,291.98 L497.41,293.66 L502.94,295.38 L508.53,296.92 L514.10,298.52 L519.59,300.41 L525.19,301.97 L530.78,303.54 L536.26,305.45 L541.77,307.29 L547.30,309.06 L552.69,311.27 L558.28,312.88 L563.61,315.22 L569.16,316.94 L574.49,319.25 L579.98,321.17 L585.31,323.45 L590.70,325.60 L596.08,327.79 L601.33,330.25 L606.68,332.49 L611.97,334.85 L617.24,337.26 L622.44,339.80 L627.62,342.39 L632.72,345.13 L637.98,347.55 L643.03,350.37 L648.12,353.09 L653.39,355.50 L658.25,358.64 L663.41,361.25 L668.43,364.12 L673.24,367.31 L678.40,369.95 L683.21,373.14 L687.97,376.42 L692.85,379.49 L697.74,382.57 L702.60,385.69 L707.29,389.07 L712.04,392.36 L716.54,396.00 L721.34,399.25 L725.82,402.92 L730.40,406.47 L734.82,410.22 L739.37,413.83 L743.97,417.40 L748.29,421.29 L752.67,425.13 L756.75,429.31 L761.36,432.95 L762.63,431.65 L758.66,427.32 L754.32,423.37 L750.00,419.41 L745.83,415.29 L741.45,411.41 L737.00,407.62 L732.74,403.62 L728.31,399.81 L723.62,396.33 L718.93,392.86 L714.45,389.11 L709.66,385.80 L705.14,382.11 L700.44,378.64 L695.51,375.53 L690.83,372.05 L685.81,369.09 L680.91,365.92 L675.91,362.93 L671.11,359.61 L666.14,356.57 L660.95,353.88 L656.04,350.72 L650.93,347.90 L645.66,345.38 L640.49,342.68 L635.42,339.76 L630.19,337.17 L624.94,334.61 L619.68,332.06 L614.42,329.51 L609.06,327.18 L603.76,324.70 L598.31,322.57 L592.99,320.14 L587.58,317.90 L582.15,315.71 L576.63,313.76 L571.26,311.42 L565.75,309.44 L560.28,307.37 L554.72,305.53 L549.26,303.42 L543.69,301.63 L538.06,300.02 L532.56,298.01 L526.98,296.26 L521.46,294.34 L515.81,292.86 L510.20,291.23 L504.62,289.51 L499.01,287.94 L493.35,286.52 L487.77,284.85 L482.14,283.38 L476.49,282.03 L470.92,280.35 L465.06,279.89 L459.28,279.18 L453.56,278.28Z" fill="#5ea9c3"/>
<path d="M735.75,409.11 L740.19,412.87 L744.59,416.69 L748.95,420.56 L753.26,424.50 L757.53,428.49 L761.75,432.55" stroke="#f4f3ef" stroke-width="0.40" fill="none" opacity="0.50"/><path d="M644.92,346.78 L650.05,349.53 L655.14,352.34 L660.21,355.20 L665.24,358.10 L670.25,361.06 L675.21,364.08 L680.15,367.15 L685.05,370.27 L689.92,373.44 L694.75,376.67" stroke="#f4f3ef" stroke-width="0.40" fill="none" opacity="0.50"/><path d="M487.24,286.85 L492.85,288.36 L498.45,289.91 L504.05,291.50 L509.65,293.12 L515.23,294.77" stroke="#f4f3ef" stroke-width="0.40" fill="none" opacity="0.50"/><path d="M693.78,378.11 L698.58,381.35 L703.34,384.64 L708.07,387.99 L712.76,391.40 L717.41,394.86 L722.02,398.38 L726.60,401.95 L731.13,405.58" stroke="#f4f3ef" stroke-width="0.40" fill="none" opacity="0.50"/><path d="M683.48,372.73 L688.35,375.84 L693.18,379.00 L697.99,382.21 L702.76,385.48 L707.49,388.80 L712.19,392.17 L716.85,395.60" stroke="#f4f3ef" stroke-width="0.40" fill="none" opacity="0.50"/><path d="M727.66,400.62 L732.15,404.33 L736.61,408.09 L741.01,411.92 L745.37,415.81 L749.68,419.76 L753.94,423.77 L758.15,427.85" stroke="#f4f3ef" stroke-width="0.40" fill="none" opacity="0.50"/><path d="M664.03,360.19 L669.03,363.11 L674.00,366.08 L678.93,369.10 L683.83,372.17 L688.70,375.29 L693.54,378.47 L698.34,381.70 L703.10,384.98 L707.83,388.32 L712.53,391.71 L717.18,395.16 L721.80,398.66" stroke="#f4f3ef" stroke-width="0.40" fill="none" opacity="0.50"/><path d="M553.87,307.93 L559.36,309.90 L564.83,311.91 L570.29,313.96 L575.74,316.06 L581.16,318.20 L586.57,320.38 L591.95,322.61 L597.32,324.88 L602.67,327.19 L607.99,329.55" stroke="#f4f3ef" stroke-width="0.40" fill="none" opacity="0.50"/><path d="M581.49,317.38 L586.90,319.56 L592.29,321.79 L597.67,324.07 L603.02,326.39 L608.35,328.76 L613.66,331.17 L618.94,333.63 L624.20,336.14 L629.44,338.70 L634.65,341.31 L639.83,343.96 L644.98,346.67" stroke="#f4f3ef" stroke-width="0.40" fill="none" opacity="0.50"/><path d="M537.46,301.84 L542.99,303.69 L548.51,305.58 L554.02,307.51 L559.51,309.48 L564.99,311.49 L570.45,313.54 L575.90,315.64 L581.33,317.78 L586.74,319.97 L592.13,322.20" stroke="#f4f3ef" stroke-width="0.40" fill="none" opacity="0.50"/>
<circle cx="514.31" cy="297.83" r="0.43" fill="#f4f3ef" opacity="0.55"/><circle cx="745.58" cy="415.57" r="0.27" fill="#f4f3ef" opacity="0.55"/><circle cx="486.46" cy="289.77" r="0.33" fill="#f4f3ef" opacity="0.55"/><circle cx="736.07" cy="408.73" r="0.44" fill="#f4f3ef" opacity="0.55"/><circle cx="619.41" cy="332.63" r="0.41" fill="#f4f3ef" opacity="0.55"/><circle cx="596.39" cy="327.06" r="0.26" fill="#f4f3ef" opacity="0.55"/><circle cx="542.89" cy="304.00" r="0.43" fill="#f4f3ef" opacity="0.55"/><circle cx="689.65" cy="373.86" r="0.43" fill="#f4f3ef" opacity="0.55"/><circle cx="542.94" cy="303.85" r="0.42" fill="#f4f3ef" opacity="0.55"/><circle cx="515.22" cy="294.81" r="0.44" fill="#f4f3ef" opacity="0.55"/><circle cx="731.37" cy="405.28" r="0.28" fill="#f4f3ef" opacity="0.55"/><circle cx="596.86" cy="325.95" r="0.28" fill="#f4f3ef" opacity="0.55"/><circle cx="703.00" cy="385.14" r="0.45" fill="#f4f3ef" opacity="0.55"/><circle cx="498.64" cy="289.26" r="0.41" fill="#f4f3ef" opacity="0.55"/><circle cx="554.21" cy="306.97" r="0.30" fill="#f4f3ef" opacity="0.55"/><circle cx="453.31" cy="279.36" r="0.42" fill="#f4f3ef" opacity="0.55"/><circle cx="716.77" cy="395.71" r="0.28" fill="#f4f3ef" opacity="0.55"/><circle cx="689.94" cy="373.41" r="0.31" fill="#f4f3ef" opacity="0.55"/><circle cx="679.87" cy="367.60" r="0.48" fill="#f4f3ef" opacity="0.55"/><circle cx="498.86" cy="288.47" r="0.43" fill="#f4f3ef" opacity="0.55"/><circle cx="492.07" cy="291.20" r="0.30" fill="#f4f3ef" opacity="0.55"/><circle cx="575.13" cy="317.61" r="0.50" fill="#f4f3ef" opacity="0.55"/><circle cx="492.74" cy="288.77" r="0.48" fill="#f4f3ef" opacity="0.55"/><circle cx="731.41" cy="405.23" r="0.37" fill="#f4f3ef" opacity="0.55"/><circle cx="581.86" cy="316.45" r="0.36" fill="#f4f3ef" opacity="0.55"/>
<path d="M761.31,420.23 L762.27,422.14 L762.85,424.19 L763.43,426.23 L764.27,428.19 L764.62,430.31 L765.30,432.32 L765.93,434.35 L766.82,436.29 L767.27,438.38 L768.08,440.35 L771.58,439.10 L770.83,437.12 L770.01,435.16 L769.60,433.05 L768.69,431.12 L767.88,429.16 L767.05,427.20 L766.47,425.15 L765.46,423.26 L764.98,421.18 L764.19,419.21Z" fill="#5ea9c3"/>
<path d="M769.77,437.55 L767.21,437.87 L764.62,437.81 L762.07,438.19 L759.48,438.09 L756.94,438.72 L754.37,438.97 L751.79,438.94 L749.27,439.91 L746.72,440.26 L744.19,441.19 L744.22,441.61 L746.82,442.02 L749.42,442.21 L752.01,442.41 L754.61,442.67 L757.17,442.44 L759.76,442.54 L762.31,442.10 L764.90,442.24 L767.46,441.91 L770.03,441.81Z" fill="#5ea9c3"/>
<circle cx="762.80" cy="419.70" r="2.2" fill="#5ea9c3"/>
<path d="M285.18,54.38 L286.31,55.48 L287.16,56.80 L287.87,58.21 L288.90,59.39 L289.30,60.98 L290.15,62.26 L291.15,63.48 L291.80,64.88 L292.07,66.48 L292.91,67.78 L293.52,69.20 L293.74,70.77 L294.51,72.11 L294.79,73.64 L295.15,75.13 L295.66,76.57 L295.74,78.12 L295.99,79.63 L296.54,81.06 L296.53,82.61 L296.98,84.07 L297.00,85.60 L297.31,87.10 L297.26,88.62 L297.53,90.13 L297.61,91.65 L297.62,93.17 L297.54,94.69 L297.48,96.21 L297.34,97.73 L297.07,99.23 L297.02,100.76 L296.40,102.19 L296.52,103.76 L296.18,105.25 L295.57,106.66 L295.22,108.14 L294.76,109.59 L294.10,110.96 L293.97,112.53 L293.03,113.79 L292.50,115.21 L292.23,116.75 L291.27,117.97 L290.84,119.46 L289.98,120.72 L289.05,121.94 L288.15,123.16 L287.67,124.65 L286.54,125.72 L285.75,127.02 L284.81,128.21 L283.83,129.37 L282.69,130.39 L281.84,131.66 L280.93,132.89 L279.75,133.86 L278.64,134.90 L277.40,135.79 L276.29,136.82 L275.23,137.93 L273.80,138.57 L272.75,139.71 L271.27,140.22 L270.20,141.36 L268.90,142.16 L267.54,142.84 L266.24,143.65 L264.78,144.11 L263.46,144.89 L262.02,145.39 L260.52,145.70 L259.24,146.63 L257.70,146.81 L256.35,147.59 L254.89,148.02 L253.31,147.95 L251.84,148.30 L250.42,148.97 L248.87,148.85 L247.41,149.42 L245.89,149.50 L244.39,149.83 L242.86,149.72 L241.35,149.96 L239.83,149.76 L238.32,149.53 L236.79,149.66 L235.27,149.65 L233.77,149.35 L232.29,149.05 L230.73,149.19 L229.28,148.66 L227.78,148.45 L226.26,148.26 L224.79,147.85 L223.33,147.45 L221.84,147.10 L220.50,146.30 L219.09,145.75 L217.55,145.50 L216.21,144.76 L214.81,144.16 L213.41,143.55 L212.16,142.66 L210.83,141.92 L209.43,141.29 L208.38,140.13 L207.03,139.40 L205.75,138.59 L204.51,137.70 L203.40,136.66 L202.13,135.80 L201.10,134.67 L200.00,133.63 L198.90,132.58 L197.76,131.56 L196.92,130.27 L195.70,129.31 L194.97,127.94 L193.73,126.98 L192.97,125.65 L192.24,124.30 L191.08,123.23 L190.57,121.76 L189.85,120.42 L189.06,119.12 L188.09,117.90 L187.63,116.43 L187.07,115.02 L186.28,113.69 L186.00,112.17 L185.22,110.83 L184.69,109.39 L184.68,107.81 L184.18,106.37 L183.69,104.92 L183.36,103.43 L183.09,101.93 L182.99,100.40 L182.87,98.89 L182.63,97.38 L182.45,95.87 L182.27,94.35 L182.21,92.83 L182.18,91.30 L182.46,89.78 L182.18,88.24 L182.52,86.73 L182.79,85.23 L183.10,83.74 L182.89,82.15 L183.46,80.71 L183.61,79.18 L183.94,77.68 L184.45,76.24 L184.94,74.79 L185.19,73.26 L186.08,71.96 L186.45,70.47 L187.07,69.07 L187.72,67.69 L188.43,66.33 L189.17,65.01 L189.90,63.66 L190.64,62.33 L191.26,60.92 L192.15,59.67 L193.23,58.56 L194.07,57.29 L194.86,55.97 L195.77,54.73 L196.94,53.72 L198.06,52.67 L199.15,51.61 L199.94,50.23 L201.33,49.48 L202.37,48.35 L203.53,47.36 L204.57,46.21 L205.89,45.41 L207.12,44.50 L208.39,43.63 L209.65,42.75 L211.00,42.03 L212.42,41.43 L213.63,40.43 L215.20,40.17 L216.50,39.33 L217.88,38.66 L219.25,37.96 L220.74,37.55 L222.28,37.34 L223.77,37.00 L225.22,36.54 L226.63,35.86 L228.18,35.78 L229.68,35.51 L231.16,35.09 L232.69,35.01 L234.17,34.51 L235.70,34.43 L237.23,34.20 L238.76,34.02 L240.30,33.90 L241.84,33.94 L243.37,34.31 L244.93,34.05 L246.49,34.01 L247.99,34.42 L249.53,34.57 L251.08,34.71 L252.62,34.92 L254.13,35.27 L255.63,35.68 L257.25,35.69 L258.75,36.12 L260.17,36.81 L261.70,37.17 L263.13,37.82 L263.46,37.01 L262.04,36.30 L260.57,35.70 L259.09,35.12 L257.58,34.60 L256.00,34.33 L254.57,33.49 L252.97,33.34 L251.47,32.70 L249.85,32.65 L248.31,32.15 L246.71,32.02 L245.11,31.93 L243.53,31.55 L241.92,31.52 L240.31,31.50 L238.71,31.52 L237.10,31.43 L235.49,31.54 L233.88,31.64 L232.24,31.50 L230.62,31.61 L229.07,32.13 L227.46,32.34 L225.90,32.78 L224.33,33.18 L222.75,33.53 L221.18,33.93 L219.72,34.66 L218.13,35.01 L216.64,35.64 L215.12,36.21 L213.69,36.98 L212.27,37.77 L210.76,38.36 L209.31,39.10 L208.03,40.11 L206.62,40.91 L205.39,41.98 L203.92,42.69 L202.57,43.60 L201.48,44.83 L200.22,45.84 L199.06,46.97 L197.57,47.74 L196.55,49.02 L195.55,50.30 L194.37,51.42 L193.26,52.60 L192.32,53.92 L191.13,55.04 L190.25,56.41 L189.34,57.75 L188.38,59.06 L187.62,60.50 L186.91,61.96 L186.07,63.34 L185.37,64.80 L184.28,66.07 L183.96,67.71 L183.34,69.20 L182.43,70.58 L182.19,72.22 L181.66,73.75 L180.79,75.18 L180.55,76.80 L180.27,78.40 L179.84,79.97 L179.67,81.58 L179.24,83.16 L179.25,84.79 L178.63,86.36 L178.77,88.00 L178.43,89.61 L178.64,91.24 L178.73,92.86 L178.40,94.49 L178.43,96.12 L178.58,97.74 L178.84,99.35 L179.39,100.92 L179.58,102.52 L179.51,104.19 L179.96,105.76 L180.16,107.38 L180.71,108.92 L181.45,110.39 L181.71,112.01 L182.30,113.53 L183.07,114.97 L183.66,116.48 L184.13,118.05 L184.96,119.45 L185.70,120.89 L186.15,122.49 L186.92,123.94 L187.93,125.23 L189.06,126.43 L189.89,127.83 L190.67,129.27 L191.61,130.60 L192.89,131.66 L193.84,132.98 L194.85,134.26 L196.18,135.24 L197.32,136.39 L198.41,137.60 L199.52,138.80 L200.83,139.78 L202.14,140.74 L203.43,141.72 L204.74,142.68 L206.12,143.54 L207.27,144.76 L208.86,145.28 L210.20,146.22 L211.70,146.85 L213.14,147.60 L214.51,148.51 L216.07,149.01 L217.59,149.59 L218.99,150.49 L220.64,150.71 L222.22,151.11 L223.70,151.86 L225.32,152.09 L226.92,152.36 L228.50,152.75 L230.10,153.06 L231.68,153.52 L233.29,153.82 L234.92,153.96 L236.54,154.17 L238.18,154.23 L239.81,153.93 L241.45,154.08 L243.07,153.95 L244.71,153.94 L246.33,153.77 L247.93,153.42 L249.60,153.52 L251.15,152.94 L252.80,152.86 L254.31,152.14 L255.99,152.14 L257.51,151.52 L259.13,151.21 L260.61,150.49 L262.10,149.83 L263.66,149.34 L265.07,148.48 L266.62,147.95 L268.08,147.23 L269.48,146.40 L270.92,145.63 L272.28,144.74 L273.84,144.15 L275.02,142.99 L276.56,142.34 L277.89,141.38 L279.05,140.21 L280.18,139.02 L281.42,137.97 L282.71,136.96 L283.71,135.65 L284.92,134.56 L286.11,133.44 L287.00,132.05 L288.16,130.90 L289.35,129.75 L290.16,128.32 L291.22,127.06 L292.19,125.75 L292.84,124.23 L293.68,122.83 L294.54,121.44 L295.42,120.05 L296.05,118.54 L296.63,117.01 L297.43,115.57 L297.79,113.96 L298.54,112.49 L299.04,110.94 L299.59,109.39 L299.72,107.73 L300.23,106.18 L300.37,104.54 L300.96,102.99 L301.32,101.39 L301.09,99.72 L301.25,98.10 L301.55,96.49 L301.63,94.86 L301.65,93.23 L301.52,91.61 L301.56,89.98 L301.67,88.34 L301.27,86.74 L301.29,85.10 L301.35,83.44 L300.85,81.87 L300.46,80.28 L299.97,78.73 L300.02,77.04 L299.22,75.56 L298.74,74.01 L298.11,72.51 L297.37,71.05 L296.71,69.58 L295.91,68.16 L295.43,66.62 L294.35,65.35 L293.73,63.86 L292.93,62.47 L291.93,61.20 L291.14,59.81 L290.32,58.43 L289.37,57.14 L288.30,55.94 L287.03,54.91 L285.91,53.78Z" fill="#ee6a42"/><path d="M252.75,34.32 L254.28,34.66 L255.81,35.04 L257.32,35.46 L258.82,35.91 L260.31,36.41 L261.79,36.94 L263.26,37.52" stroke="#f4f3ef" stroke-width="0.40" fill="none" opacity="0.45"/><path d="M179.79,100.86 L179.59,99.27 L179.43,97.67 L179.31,96.07 L179.24,94.46 L179.20,92.85 L179.21,91.25 L179.27,89.64 L179.36,88.04 L179.50,86.44 L179.68,84.84 L179.90,83.25 L180.16,81.67 L180.47,80.09 L180.81,78.53 L181.20,76.97 L181.63,75.42 L182.10,73.89 L182.61,72.37 L183.16,70.86 L183.75,69.36 L184.38,67.89 L185.04,66.43 L185.75,64.99 L186.49,63.57 L187.27,62.16 L188.09,60.78 L188.94,59.42 L189.83,58.09 L190.76,56.78 L191.71,55.49 L192.71,54.23 L193.73,53.00 L194.79,51.79 L195.87,50.61 L196.99,49.46 L198.14,48.34 L199.32,47.26 L200.52,46.20 L201.76,45.17 L203.02,44.18" stroke="#f4f3ef" stroke-width="0.40" fill="none" opacity="0.45"/><path d="M300.02,97.98 L299.85,99.57 L299.64,101.15 L299.38,102.72 L299.09,104.28 L298.75,105.84 L298.37,107.39 L297.96,108.92 L297.50,110.45 L297.00,111.96 L296.46,113.46 L295.88,114.94 L295.26,116.41 L294.61,117.86 L293.91,119.30 L293.18,120.71 L292.41,122.11 L291.61,123.48 L290.77,124.83 L289.89,126.16 L288.98,127.47 L288.03,128.75 L287.05,130.01 L286.04,131.24 L284.99,132.44 L283.92,133.61 L282.81,134.76 L281.67,135.87 L280.51,136.96 L279.31,138.01 L278.09,139.04" stroke="#f4f3ef" stroke-width="0.40" fill="none" opacity="0.45"/><path d="M188.94,59.43 L189.83,58.09 L190.76,56.78 L191.72,55.49 L192.71,54.23 L193.73,53.00 L194.79,51.79 L195.88,50.61 L196.99,49.46 L198.14,48.35 L199.32,47.26 L200.53,46.20 L201.76,45.18 L203.02,44.18 L204.30,43.23 L205.61,42.30 L206.95,41.41 L208.31,40.56 L209.68,39.74 L211.08,38.96 L212.50,38.22 L213.94,37.51 L215.40,36.85 L216.87,36.22 L218.36,35.63 L219.87,35.08 L221.39,34.57 L222.89,33.99 L224.44,33.57 L226.00,33.19 L227.57,32.86 L229.15,32.58 L230.73,32.33 L232.32,32.14 L233.92,31.98 L235.51,31.87" stroke="#f4f3ef" stroke-width="0.40" fill="none" opacity="0.45"/><path d="M284.71,132.18 L283.64,133.35 L282.54,134.49 L281.41,135.60 L280.25,136.68 L279.06,137.72 L277.85,138.74 L276.61,139.72 L275.35,140.67 L274.06,141.59 L272.74,142.47 L271.40,143.32 L270.05,144.13 L268.67,144.91 L267.27,145.65 L265.85,146.35 L264.41,147.01 L262.96,147.64 L261.49,148.22 L260.00,148.77 L258.50,149.28 L256.99,149.75" stroke="#f4f3ef" stroke-width="0.40" fill="none" opacity="0.45"/><path d="M182.89,105.10 L182.57,103.59 L182.29,102.07 L182.05,100.54 L181.85,99.00 L181.69,97.47 L181.57,95.92 L181.49,94.38 L181.45,92.83 L181.46,91.29 L181.50,89.74 L181.59,88.20 L181.71,86.65 L181.88,85.12 L182.09,83.58 L182.33,82.06 L182.62,80.54 L182.95,79.02 L183.32,77.52 L183.72,76.03 L184.17,74.55 L184.66,73.08 L185.18,71.62" stroke="#f4f3ef" stroke-width="0.40" fill="none" opacity="0.45"/><path d="M297.82,99.32 L297.61,100.84 L297.36,102.36 L297.08,103.87 L296.75,105.38 L296.39,106.87 L295.98,108.36 L295.54,109.83 L295.05,111.29 L294.53,112.74 L293.97,114.17 L293.37,115.59 L292.74,116.99 L292.07,118.37 L291.36,119.74 L290.62,121.09 L289.84,122.41 L289.03,123.72 L288.18,125.00 L287.30,126.27 L286.39,127.50 L285.44,128.72 L284.46,129.90" stroke="#f4f3ef" stroke-width="0.40" fill="none" opacity="0.45"/><path d="M192.05,130.26 L191.06,128.98 L190.12,127.67 L189.20,126.34 L188.32,124.98 L187.48,123.60 L186.68,122.20 L185.91,120.78 L185.18,119.34 L184.49,117.88 L183.84,116.40 L183.22,114.91 L182.65,113.40 L182.12,111.88 L181.62,110.34 L181.17,108.79 L180.76,107.23 L180.39,105.66 L180.06,104.08 L179.78,102.49 L179.53,100.90 L179.33,99.30 L179.17,97.69 L179.06,96.08 L178.98,94.47 L178.95,92.86 L178.96,91.24 L179.01,89.63 L179.11,88.02 L179.25,86.42 L179.43,84.81 L179.65,83.22" stroke="#f4f3ef" stroke-width="0.40" fill="none" opacity="0.45"/><path d="M203.94,141.03 L202.67,140.06 L201.42,139.05 L200.20,138.02 L199.01,136.95 L197.85,135.85 L196.71,134.72 L195.61,133.56 L194.54,132.37 L193.50,131.15 L192.49,129.91 L191.51,128.64 L190.57,127.34 L189.67,126.03 L188.79,124.68 L187.96,123.32 L187.16,121.93 L186.40,120.52 L185.67,119.10 L184.99,117.65 L184.34,116.19 L183.73,114.71 L183.16,113.21 L182.63,111.70 L182.14,110.18 L181.69,108.64 L181.28,107.10 L180.91,105.54 L180.59,103.98 L180.30,102.40 L180.06,100.82" stroke="#f4f3ef" stroke-width="0.40" fill="none" opacity="0.45"/><path d="M202.43,46.01 L203.67,45.03 L204.93,44.09 L206.22,43.18 L207.53,42.30 L208.86,41.46 L210.21,40.66 L211.59,39.89 L212.98,39.16 L214.39,38.46 L215.82,37.80 L217.27,37.18 L218.74,36.60 L220.22,36.06 L221.71,35.56 L223.21,35.09 L224.73,34.67 L226.26,34.29 L227.79,33.94 L229.34,33.64 L230.89,33.38 L232.45,33.16 L234.02,32.98 L235.59,32.85 L237.16,32.75 L238.73,32.70 L240.31,32.69 L241.88,32.72 L243.46,32.79 L245.03,32.90 L246.59,33.05 L248.16,33.25 L249.71,33.49 L251.26,33.76" stroke="#f4f3ef" stroke-width="0.40" fill="none" opacity="0.45"/><path d="M198.68,48.91 L199.84,47.83 L201.03,46.79 L202.25,45.78 L203.49,44.80 L204.76,43.85 L206.05,42.93 L207.37,42.06 L208.70,41.21 L210.06,40.40 L211.45,39.63 L212.85,38.90 L214.27,38.20 L215.71,37.54 L217.16,36.92 L218.63,36.33 L220.12,35.79 L221.62,35.28 L223.12,34.79 L224.65,34.36 L226.19,33.98 L227.73,33.64 L229.29,33.35 L230.85,33.09 L232.42,32.88 L233.99,32.71 L235.57,32.58 L237.15,32.49 L238.73,32.44 L240.31,32.44 L241.89,32.48 L243.47,32.56 L245.04,32.69 L246.62,32.85 L248.18,33.06 L249.74,33.31 L251.29,33.60 L252.84,33.93 L254.37,34.31 L255.89,34.72 L257.41,35.17 L258.90,35.67 L260.39,36.20 L261.86,36.77" stroke="#f4f3ef" stroke-width="0.40" fill="none" opacity="0.45"/><path d="M230.73,32.31 L232.32,32.11 L233.91,31.96 L235.51,31.85 L237.11,31.79 L238.71,31.77 L240.31,31.79 L241.91,31.86 L243.50,31.97 L245.09,32.12 L246.67,32.32 L248.25,32.56 L249.82,32.84 L251.38,33.17 L252.92,33.54 L254.46,33.95 L255.98,34.40 L257.49,34.89 L258.99,35.42 L260.46,35.99 L261.92,36.60 L263.36,37.25" stroke="#f4f3ef" stroke-width="0.40" fill="none" opacity="0.45"/><path d="M217.57,37.89 L219.01,37.32 L220.47,36.78 L221.94,36.28 L223.45,35.90 L224.94,35.48 L226.45,35.09 L227.96,34.74 L229.48,34.43 L231.01,34.15 L232.55,33.92 L234.09,33.72 L235.64,33.56 L237.19,33.45 L238.75,33.37 L240.30,33.33 L241.86,33.33 L243.42,33.38 L244.98,33.46 L246.53,33.58 L248.09,33.74 L249.64,33.95 L251.18,34.19 L252.72,34.47" stroke="#f4f3ef" stroke-width="0.40" fill="none" opacity="0.45"/><path d="M246.29,153.32 L244.67,153.46 L243.05,153.56 L241.44,153.62 L239.82,153.63 L238.20,153.60 L236.58,153.53 L234.96,153.42 L233.35,153.26 L231.74,153.06 L230.14,152.82 L228.54,152.53 L226.96,152.21 L225.38,151.84 L223.81,151.43 L222.26,150.98 L220.72,150.48 L219.19,149.95 L217.67,149.38 L216.17,148.76 L214.69,148.11 L213.23,147.42 L211.78,146.69 L210.36,145.92 L208.95,145.12" stroke="#f4f3ef" stroke-width="0.40" fill="none" opacity="0.45"/><path d="M248.10,33.66 L249.65,33.87 L251.19,34.12 L252.73,34.41 L254.26,34.74 L255.79,35.11 L257.30,35.52 L258.80,35.96 L260.30,36.45 L261.78,36.98 L263.24,37.54" stroke="#ee6a42" stroke-width="0.50" fill="none" opacity="0.60"/><path d="M224.68,148.25 L223.21,147.83 L221.75,147.37 L220.30,146.87 L218.86,146.33 L217.44,145.76 L216.04,145.15 L214.65,144.50 L213.28,143.81 L211.92,143.09 L210.59,142.34 L209.28,141.54 L207.99,140.72 L206.72,139.86 L205.47,138.97 L204.25,138.04 L203.05,137.08 L201.88,136.09 L200.73,135.07 L199.61,134.02 L198.52,132.95 L197.46,131.84 L196.43,130.70 L195.42,129.54 L194.45,128.35 L193.51,127.14 L192.61,125.90 L191.73,124.64 L190.89,123.36 L190.08,122.05 L189.31,120.72 L188.58,119.38 L187.87,118.01 L187.21,116.63 L186.58,115.23 L185.99,113.81 L185.44,112.37" stroke="#ee6a42" stroke-width="0.50" fill="none" opacity="0.60"/><path d="M197.63,50.10 L198.76,48.99 L199.92,47.92 L201.11,46.88 L202.32,45.87 L203.56,44.89 L204.82,43.94 L206.11,43.03 L207.43,42.15 L208.76,41.31 L210.12,40.50 L211.50,39.73 L212.90,39.00 L214.32,38.30 L215.75,37.64 L217.21,37.02 L218.67,36.44 L220.16,35.89 L221.65,35.39 L223.16,34.91 L224.68,34.48 L226.21,34.10 L227.76,33.76 L229.31,33.46 L230.87,33.20 L232.43,32.99 L234.00,32.81 L235.57,32.68 L237.15,32.59 L238.73,32.54 L240.31,32.54" stroke="#ee6a42" stroke-width="0.50" fill="none" opacity="0.60"/><circle cx="181.96" cy="85.13" r="0.34" fill="#f4f3ef" opacity="0.55"/><circle cx="179.53" cy="86.44" r="0.43" fill="#f4f3ef" opacity="0.55"/><circle cx="216.58" cy="147.80" r="0.42" fill="#f4f3ef" opacity="0.55"/><circle cx="278.52" cy="137.09" r="0.34" fill="#f4f3ef" opacity="0.55"/><circle cx="211.30" cy="144.22" r="0.31" fill="#f4f3ef" opacity="0.55"/><circle cx="296.43" cy="76.35" r="0.31" fill="#f4f3ef" opacity="0.55"/><circle cx="274.66" cy="139.74" r="0.36" fill="#f4f3ef" opacity="0.55"/><circle cx="182.39" cy="72.29" r="0.29" fill="#f4f3ef" opacity="0.55"/><circle cx="211.90" cy="143.14" r="0.36" fill="#f4f3ef" opacity="0.55"/><circle cx="188.49" cy="124.88" r="0.30" fill="#f4f3ef" opacity="0.55"/><circle cx="182.50" cy="72.33" r="0.33" fill="#f4f3ef" opacity="0.55"/><circle cx="257.49" cy="34.91" r="0.50" fill="#f4f3ef" opacity="0.55"/><circle cx="233.56" cy="151.29" r="0.39" fill="#f4f3ef" opacity="0.55"/><circle cx="241.40" cy="151.92" r="0.36" fill="#f4f3ef" opacity="0.55"/><circle cx="224.62" cy="34.24" r="0.33" fill="#f4f3ef" opacity="0.55"/><circle cx="273.25" cy="140.42" r="0.30" fill="#f4f3ef" opacity="0.55"/><circle cx="286.35" cy="127.47" r="0.43" fill="#f4f3ef" opacity="0.55"/><circle cx="236.59" cy="153.25" r="0.44" fill="#f4f3ef" opacity="0.55"/><circle cx="179.59" cy="86.45" r="0.50" fill="#f4f3ef" opacity="0.55"/><circle cx="227.47" cy="149.84" r="0.34" fill="#f4f3ef" opacity="0.55"/><circle cx="234.08" cy="33.62" r="0.32" fill="#f4f3ef" opacity="0.55"/><circle cx="261.75" cy="37.05" r="0.50" fill="#f4f3ef" opacity="0.55"/><circle cx="300.52" cy="94.82" r="0.26" fill="#f4f3ef" opacity="0.55"/><circle cx="183.13" cy="105.04" r="0.42" fill="#f4f3ef" opacity="0.55"/><circle cx="260.22" cy="149.38" r="0.28" fill="#f4f3ef" opacity="0.55"/><circle cx="188.36" cy="124.95" r="0.26" fill="#f4f3ef" opacity="0.55"/><circle cx="237.13" cy="32.18" r="0.38" fill="#f4f3ef" opacity="0.55"/><circle cx="219.33" cy="149.55" r="0.46" fill="#f4f3ef" opacity="0.55"/><circle cx="260.46" cy="35.99" r="0.27" fill="#f4f3ef" opacity="0.55"/><circle cx="238.75" cy="33.32" r="0.38" fill="#f4f3ef" opacity="0.55"/><circle cx="191.28" cy="59.08" r="0.40" fill="#f4f3ef" opacity="0.55"/><circle cx="186.09" cy="65.16" r="0.26" fill="#f4f3ef" opacity="0.55"/><circle cx="230.83" cy="32.99" r="0.45" fill="#f4f3ef" opacity="0.55"/><circle cx="278.91" cy="137.54" r="0.42" fill="#f4f3ef" opacity="0.55"/><circle cx="236.72" cy="150.94" r="0.49" fill="#f4f3ef" opacity="0.55"/><path d="M249.85,33.51 A59.61,59.61 0 0 1 281.81,49.81" stroke="#ee6a42" stroke-width="0.69" fill="none" opacity="0.68"/><path d="M243.98,33.77 A58.66,58.66 0 0 1 283.97,53.46" stroke="#ee6a42" stroke-width="0.63" fill="none" opacity="0.67"/><path d="M249.70,34.46 A58.64,58.64 0 0 1 278.90,48.42" stroke="#ee6a42" stroke-width="1.00" fill="none" opacity="0.49"/>
<path d="M147.47,234.04 L148.44,235.28 L149.56,236.39 L150.03,237.99 L150.89,239.29 L151.81,240.55 L152.56,241.92 L153.27,243.30 L153.96,244.70 L154.51,246.16 L155.22,247.54 L155.78,248.98 L156.09,250.53 L156.97,251.84 L157.33,253.36 L157.45,254.93 L157.82,256.42 L157.91,257.98 L158.68,259.37 L158.71,260.93 L158.98,262.43 L159.05,263.96 L159.45,265.45 L159.85,266.95 L159.55,268.51 L160.05,270.01 L159.68,271.55 L159.83,273.08 L159.67,274.60 L159.96,276.15 L159.44,277.64 L159.25,279.15 L159.29,280.70 L159.20,282.24 L158.80,283.72 L158.34,285.18 L157.91,286.65 L157.72,288.18 L157.30,289.66 L156.78,291.10 L156.01,292.44 L155.71,293.97 L155.11,295.37 L154.48,296.77 L153.84,298.16 L153.09,299.49 L152.16,300.73 L151.36,302.03 L150.86,303.51 L149.95,304.74 L149.00,305.95 L148.11,307.19 L146.96,308.23 L146.19,309.57 L145.04,310.59 L144.17,311.87 L143.10,312.96 L141.93,313.95 L140.86,315.04 L139.86,316.22 L138.57,317.07 L137.21,317.81 L136.20,319.01 L134.74,319.59 L133.65,320.69 L132.41,321.60 L130.89,322.04 L129.76,323.14 L128.23,323.53 L126.86,324.17 L125.59,325.08 L124.21,325.73 L122.82,326.39 L121.34,326.80 L119.90,327.31 L118.46,327.85 L116.93,328.07 L115.43,328.34 L113.92,328.58 L112.49,329.24 L110.98,329.46 L109.42,329.37 L107.95,329.93 L106.40,329.87 L104.87,329.85 L103.35,330.08 L101.83,329.90 L100.29,330.21 L98.78,329.75 L97.25,329.76 L95.70,329.97 L94.18,329.73 L92.67,329.49 L91.16,329.22 L89.68,328.78 L88.19,328.45 L86.65,328.29 L85.17,327.86 L83.80,327.12 L82.33,326.70 L80.86,326.23 L79.55,325.40 L78.06,325.00 L76.68,324.34 L75.41,323.45 L74.07,322.73 L72.73,322.00 L71.32,321.37 L69.97,320.64 L68.83,319.60 L67.54,318.77 L66.43,317.70 L64.97,317.08 L63.88,315.99 L62.78,314.92 L61.67,313.87 L60.39,312.97 L59.43,311.77 L58.53,310.51 L57.32,309.53 L56.50,308.22 L55.75,306.86 L54.64,305.78 L53.91,304.42 L53.08,303.13 L52.03,301.98 L51.37,300.59 L50.65,299.24 L49.92,297.89 L49.17,296.55 L48.63,295.10 L47.90,293.74 L47.64,292.20 L47.20,290.73 L46.58,289.33 L46.16,287.85 L45.80,286.36 L45.45,284.87 L44.85,283.43 L44.46,281.94 L44.37,280.39 L44.30,278.85 L44.30,277.31 L43.75,275.81 L43.69,274.27 L44.03,272.73 L43.69,271.19 L44.02,269.66 L44.03,268.13 L44.21,266.60 L44.44,265.09 L44.60,263.56 L44.74,262.03 L45.06,260.53 L45.26,259.00 L45.44,257.45 L46.22,256.07 L46.59,254.58 L47.09,253.13 L47.43,251.62 L47.93,250.16 L48.76,248.83 L49.23,247.36 L50.16,246.10 L50.88,244.75 L51.62,243.41 L52.13,241.92 L53.02,240.66 L53.66,239.24 L54.75,238.12 L55.75,236.94 L56.48,235.56 L57.47,234.38 L58.42,233.16 L59.57,232.11 L60.85,231.21 L61.76,229.94 L62.83,228.83 L64.22,228.08 L65.23,226.89 L66.54,226.06 L67.73,225.09 L69.06,224.30 L70.23,223.29 L71.53,222.46 L72.91,221.77 L74.11,220.75 L75.50,220.08 L76.98,219.60 L78.39,218.98 L79.79,218.34 L81.17,217.64 L82.63,217.13 L84.15,216.83 L85.55,216.15 L87.11,216.02 L88.53,215.35 L90.08,215.20 L91.57,214.79 L93.10,214.64 L94.58,214.07 L96.12,213.89 L97.67,213.88 L99.20,213.53 L100.75,213.63 L102.30,213.80 L103.85,213.54 L105.41,213.46 L106.97,213.42 L108.53,213.55 L110.06,213.82 L111.62,213.94 L113.18,214.07 L114.68,214.54 L116.26,214.65 L117.78,215.02 L119.29,215.46 L120.86,215.71 L122.34,216.23 L123.77,216.90 L125.35,217.19 L125.63,216.51 L124.11,216.03 L122.65,215.38 L121.21,214.64 L119.66,214.25 L118.13,213.77 L116.61,213.23 L115.07,212.79 L113.54,212.23 L111.97,211.83 L110.35,211.75 L108.78,211.26 L107.15,211.32 L105.56,210.80 L103.94,210.87 L102.32,210.65 L100.70,210.98 L99.07,210.84 L97.46,211.08 L95.84,211.15 L94.19,210.97 L92.57,211.21 L90.95,211.42 L89.34,211.66 L87.77,212.14 L86.18,212.51 L84.63,213.01 L83.16,213.76 L81.47,213.85 L80.09,214.80 L78.51,215.24 L76.97,215.79 L75.56,216.61 L74.01,217.15 L72.60,217.98 L71.30,218.99 L69.87,219.76 L68.28,220.28 L67.13,221.49 L65.59,222.15 L64.40,223.28 L63.08,224.24 L62.00,225.49 L60.66,226.43 L59.49,227.56 L58.24,228.61 L57.14,229.82 L56.21,231.17 L55.03,232.31 L53.89,233.48 L53.02,234.86 L51.95,236.10 L50.85,237.32 L50.10,238.78 L49.32,240.22 L48.28,241.49 L47.55,242.96 L46.94,244.48 L45.93,245.81 L45.24,247.29 L44.74,248.85 L44.31,250.44 L43.64,251.93 L42.99,253.44 L42.77,255.08 L42.37,256.65 L41.88,258.21 L41.46,259.79 L40.93,261.35 L40.69,262.97 L40.52,264.60 L40.68,266.26 L40.51,267.88 L39.98,269.49 L40.07,271.13 L40.25,272.76 L39.95,274.41 L40.18,276.04 L40.31,277.67 L40.34,279.31 L40.60,280.93 L40.98,282.53 L41.07,284.17 L41.71,285.71 L42.14,287.29 L42.25,288.95 L42.71,290.52 L43.16,292.10 L43.75,293.63 L44.61,295.06 L45.17,296.59 L45.60,298.19 L46.46,299.59 L46.99,301.16 L48.00,302.48 L48.61,304.02 L49.51,305.40 L50.63,306.62 L51.62,307.92 L52.50,309.30 L53.35,310.71 L54.43,311.94 L55.51,313.17 L56.56,314.43 L57.72,315.59 L58.92,316.71 L59.92,318.03 L61.26,319.00 L62.47,320.11 L63.87,320.98 L65.21,321.92 L66.51,322.91 L67.88,323.81 L69.03,325.04 L70.65,325.54 L71.90,326.66 L73.49,327.17 L74.92,327.95 L76.36,328.74 L77.85,329.42 L79.41,329.94 L80.90,330.65 L82.49,331.07 L84.07,331.51 L85.63,331.99 L87.23,332.35 L88.77,332.95 L90.37,333.35 L92.05,333.26 L93.62,333.86 L95.28,333.78 L96.90,334.05 L98.55,333.98 L100.17,334.51 L101.81,334.31 L103.46,334.36 L105.11,334.49 L106.72,334.05 L108.36,333.92 L110.00,333.82 L111.64,333.72 L113.20,333.11 L114.81,332.80 L116.46,332.66 L118.06,332.28 L119.63,331.81 L121.15,331.17 L122.68,330.58 L124.24,330.08 L125.90,329.82 L127.25,328.80 L128.81,328.26 L130.34,327.66 L131.79,326.87 L133.10,325.85 L134.65,325.24 L136.09,324.45 L137.46,323.53 L138.79,322.55 L139.89,321.27 L141.14,320.23 L142.54,319.34 L143.88,318.37 L145.06,317.22 L146.07,315.91 L147.40,314.90 L148.50,313.69 L149.34,312.24 L150.71,311.24 L151.47,309.75 L152.71,308.61 L153.33,307.04 L154.46,305.82 L155.24,304.37 L156.13,302.98 L156.77,301.46 L157.48,299.98 L158.48,298.64 L159.00,297.07 L159.70,295.58 L160.14,293.99 L160.76,292.47 L161.12,290.86 L161.94,289.39 L162.17,287.75 L162.50,286.14 L162.97,284.56 L163.36,282.96 L163.41,281.31 L163.66,279.69 L164.12,278.08 L163.80,276.41 L164.26,274.79 L164.19,273.14 L164.24,271.50 L163.87,269.87 L164.25,268.20 L163.70,266.60 L163.94,264.92 L163.30,263.35 L163.30,261.69 L163.03,260.07 L162.59,258.48 L162.42,256.83 L161.64,255.34 L161.14,253.79 L160.44,252.30 L159.64,250.85 L159.11,249.31 L158.42,247.84 L157.48,246.49 L156.86,244.99 L155.96,243.64 L155.19,242.22 L154.24,240.91 L153.28,239.62 L152.63,238.12 L151.59,236.88 L150.52,235.67 L149.26,234.63 L148.14,233.49Z" fill="#ee6a42"/><path d="M100.75,213.25 L102.30,213.19 L103.86,213.18 L105.42,213.21 L106.99,213.27 L108.55,213.38 L110.10,213.53 L111.66,213.71 L113.21,213.94 L114.76,214.20 L116.30,214.51 L117.83,214.85 L119.36,215.24 L120.87,215.66 L122.38,216.13 L123.88,216.63 L125.36,217.17" stroke="#f4f3ef" stroke-width="0.40" fill="none" opacity="0.45"/><path d="M55.80,235.01 L56.80,233.80 L57.83,232.62 L58.89,231.47 L59.98,230.34 L61.09,229.25 L62.24,228.18 L63.42,227.14 L64.62,226.14 L65.85,225.17 L67.10,224.23 L68.38,223.32 L69.68,222.45 L71.01,221.61 L72.36,220.81 L73.72,220.04 L75.11,219.31 L76.52,218.62 L77.94,217.96 L79.38,217.34 L80.84,216.76" stroke="#f4f3ef" stroke-width="0.40" fill="none" opacity="0.45"/><path d="M118.79,328.96 L117.28,329.38 L115.77,329.77 L114.24,330.11 L112.71,330.42 L111.17,330.68 L109.62,330.90 L108.07,331.08 L106.51,331.23 L104.95,331.33 L103.39,331.38 L101.82,331.40 L100.26,331.38 L98.70,331.31 L97.13,331.20 L95.58,331.06 L94.03,330.87 L92.48,330.64 L90.94,330.37 L89.40,330.06 L87.88,329.70 L86.37,329.31 L84.86,328.88 L83.37,328.41 L81.89,327.90 L80.43,327.35" stroke="#f4f3ef" stroke-width="0.40" fill="none" opacity="0.45"/><path d="M44.70,260.45 L45.02,258.94 L45.39,257.44 L45.79,255.95 L46.24,254.47 L46.72,253.00 L47.24,251.54 L47.80,250.10 L48.40,248.68 L49.04,247.27 L49.71,245.88 L50.42,244.50 L51.17,243.15 L51.95,241.81 L52.77,240.50 L53.62,239.21 L54.50,237.94 L55.42,236.69 L56.37,235.47 L57.36,234.28 L58.37,233.11 L59.42,231.97 L60.49,230.86 L61.60,229.77 L62.73,228.72 L63.89,227.69 L65.07,226.70 L66.29,225.74 L67.53,224.81 L68.79,223.91 L70.07,223.05 L71.38,222.22 L72.71,221.42 L74.06,220.66 L75.43,219.94 L76.82,219.25 L78.22,218.61 L79.65,217.99 L81.09,217.42" stroke="#f4f3ef" stroke-width="0.40" fill="none" opacity="0.45"/><path d="M58.46,314.87 L57.35,313.70 L56.27,312.51 L55.22,311.28 L54.21,310.03 L53.23,308.75 L52.28,307.45 L51.37,306.12 L50.49,304.77 L49.65,303.40 L48.85,302.01 L48.08,300.59 L47.35,299.16 L46.66,297.70 L46.01,296.23 L45.40,294.74 L44.82,293.24 L44.29,291.72 L43.80,290.19 L43.34,288.64 L42.93,287.09 L42.56,285.52 L42.23,283.95 L41.95,282.36 L41.70,280.77 L41.50,279.18 L41.34,277.58 L41.22,275.97 L41.15,274.36 L41.11,272.76 L41.12,271.15 L41.17,269.54" stroke="#f4f3ef" stroke-width="0.40" fill="none" opacity="0.45"/><path d="M117.40,329.81 L115.87,330.20 L114.33,330.55 L112.79,330.85 L111.24,331.12 L109.68,331.34 L108.11,331.52 L106.54,331.67 L104.97,331.77 L103.40,331.82 L101.82,331.84 L100.24,331.82 L98.67,331.75 L97.10,331.64 L95.53,331.49 L93.97,331.30 L92.41,331.07 L90.86,330.79 L89.31,330.48 L87.78,330.13 L86.25,329.73 L84.74,329.29 L83.24,328.82 L81.75,328.30 L80.27,327.75 L78.81,327.16" stroke="#f4f3ef" stroke-width="0.40" fill="none" opacity="0.45"/><path d="M161.08,263.67 L161.28,265.24 L161.44,266.80 L161.56,268.38 L161.64,269.95 L161.68,271.53 L161.68,273.10 L161.63,274.68 L161.55,276.25 L161.42,277.83 L161.25,279.39 L161.04,280.96 L160.79,282.51 L160.49,284.06 L160.16,285.60 L159.78,287.13 L159.37,288.66 L158.92,290.17 L158.42,291.66 L157.89,293.15 L157.31,294.61 L156.70,296.07 L156.05,297.50 L155.37,298.92 L154.64,300.32 L153.88,301.70 L153.08,303.06 L152.25,304.40 L151.38,305.72 L150.48,307.01 L149.54,308.28 L148.57,309.52 L147.57,310.74 L146.54,311.93 L145.47,313.09 L144.38,314.23" stroke="#f4f3ef" stroke-width="0.40" fill="none" opacity="0.45"/><path d="M73.49,219.61 L74.89,218.87 L76.30,218.17 L77.74,217.51 L79.19,216.89 L80.66,216.31 L82.15,215.76 L83.64,215.26 L85.16,214.81 L86.68,214.38 L88.21,214.00 L89.75,213.65 L91.30,213.34 L92.86,213.08 L94.43,212.85 L96.00,212.67 L97.57,212.53 L99.15,212.43 L100.73,212.37 L102.31,212.35 L103.89,212.37 L105.47,212.43 L107.05,212.54 L108.62,212.69 L110.19,212.88 L111.76,213.11 L113.32,213.38 L114.87,213.69 L116.41,214.04" stroke="#f4f3ef" stroke-width="0.40" fill="none" opacity="0.45"/><path d="M80.57,326.98 L79.13,326.39 L77.71,325.77 L76.30,325.11 L74.91,324.42 L73.54,323.69 L72.19,322.92 L70.86,322.12 L69.55,321.28 L68.26,320.41 L67.00,319.50 L65.76,318.56 L64.55,317.59 L63.36,316.59 L62.20,315.55 L61.06,314.49 L59.96,313.39 L58.88,312.27 L57.84,311.12" stroke="#f4f3ef" stroke-width="0.40" fill="none" opacity="0.45"/><path d="M98.64,332.37 L97.05,332.26 L95.46,332.10 L93.88,331.91 L92.31,331.67 L90.74,331.40 L89.18,331.08 L87.63,330.72 L86.09,330.32 L84.56,329.88 L83.04,329.40 L81.54,328.88 L80.05,328.32 L78.58,327.72 L77.12,327.08 L75.68,326.40 L74.25,325.68 L72.85,324.93 L71.47,324.14 L70.11,323.32 L68.77,322.46 L67.45,321.56 L66.16,320.63 L64.90,319.67 L63.65,318.67 L62.44,317.64 L61.26,316.58 L60.10,315.49 L58.97,314.37 L57.87,313.21 L56.80,312.03 L55.77,310.83 L54.76,309.59 L53.79,308.33 L52.86,307.04 L51.95,305.73 L51.09,304.40 L50.25,303.04 L49.46,301.66 L48.70,300.27 L47.98,298.85 L47.29,297.41 L46.64,295.96" stroke="#f4f3ef" stroke-width="0.40" fill="none" opacity="0.45"/><path d="M162.19,266.74 L162.31,268.33 L162.39,269.92 L162.43,271.52 L162.43,273.12 L162.38,274.71 L162.30,276.31 L162.17,277.90 L162.00,279.48 L161.78,281.07 L161.53,282.64 L161.23,284.21 L160.89,285.77 L160.52,287.32 L160.10,288.86 L159.64,290.39 L159.14,291.91 L158.59,293.41 L158.02,294.90 L157.40,296.37 L156.74,297.83 L156.04,299.26 L155.31,300.68 L154.54,302.08 L153.73,303.46 L152.89,304.81 L152.01,306.14 L151.09,307.45 L150.15,308.74 L149.16,310.00 L148.15,311.23 L147.10,312.44 L146.02,313.61 L144.91,314.76 L143.77,315.88 L142.61,316.97 L141.41,318.02 L140.18,319.05" stroke="#f4f3ef" stroke-width="0.40" fill="none" opacity="0.45"/><path d="M79.34,325.90 L77.93,325.29 L76.53,324.64 L75.16,323.95 L73.80,323.22 L72.46,322.46 L71.14,321.67 L69.84,320.84 L68.56,319.98 L67.31,319.08 L66.08,318.15 L64.88,317.19 L63.70,316.20 L62.55,315.17 L61.42,314.12 L60.33,313.03 L59.26,311.92 L58.22,310.78 L57.22,309.61 L56.24,308.42 L55.30,307.20 L54.39,305.96 L53.51,304.69 L52.66,303.40 L51.85,302.09 L51.08,300.76 L50.33,299.40 L49.63,298.03" stroke="#f4f3ef" stroke-width="0.40" fill="none" opacity="0.45"/><path d="M149.51,306.32 L148.59,307.56 L147.64,308.78 L146.66,309.97 L145.65,311.14 L144.60,312.28 L143.53,313.39 L142.43,314.47 L141.30,315.52 L140.14,316.55 L138.95,317.54 L137.74,318.50 L136.51,319.43 L135.25,320.32 L133.97,321.19 L132.66,322.01 L131.34,322.81 L129.99,323.57 L128.62,324.29 L127.24,324.97 L125.84,325.62 L124.42,326.24 L122.98,326.81 L121.53,327.35 L120.07,327.85 L118.59,328.30 L117.11,328.72 L115.61,329.11 L114.10,329.45 L112.59,329.75 L111.06,330.01 L109.53,330.23 L108.00,330.41 L106.46,330.55 L104.91,330.65 L103.37,330.71 L101.82,330.73 L100.28,330.70 L98.73,330.64 L97.19,330.54 L95.65,330.39 L94.12,330.21" stroke="#f4f3ef" stroke-width="0.40" fill="none" opacity="0.45"/><path d="M159.06,254.43 L159.50,255.95 L159.86,257.49 L160.23,259.02 L160.56,260.56 L160.84,262.11 L161.09,263.67 L161.29,265.23 L161.46,266.80 L161.58,268.38 L161.66,269.95 L161.70,271.53 L161.69,273.10 L161.65,274.68 L161.56,276.26 L161.43,277.83 L161.26,279.40 L161.05,280.96 L160.80,282.52 L160.51,284.06 L160.17,285.61 L159.80,287.14 L159.38,288.66 L158.93,290.17 L158.43,291.67 L157.90,293.15 L157.33,294.62 L156.72,296.07 L156.07,297.51 L155.38,298.93 L154.65,300.33 L153.89,301.71 L153.09,303.07 L152.26,304.41" stroke="#f4f3ef" stroke-width="0.40" fill="none" opacity="0.45"/><path d="M110.09,213.66 L111.64,213.84 L113.19,214.05 L114.73,214.31 L116.27,214.61 L117.81,214.94 L119.33,215.32 L120.85,215.73 L122.36,216.18 L123.86,216.67 L125.35,217.21" stroke="#ee6a42" stroke-width="0.50" fill="none" opacity="0.60"/><path d="M80.31,327.64 L78.86,327.05 L77.42,326.42 L75.99,325.75 L74.59,325.04 L73.20,324.30 L71.83,323.53 L70.49,322.71 L69.16,321.86 L67.86,320.98 L66.59,320.06 L65.33,319.11 L64.11,318.12 L62.91,317.11 L61.73,316.06 L60.59,314.98 L59.47,313.87 L58.38,312.74 L57.33,311.57 L56.30,310.38 L55.31,309.16" stroke="#ee6a42" stroke-width="0.50" fill="none" opacity="0.60"/><path d="M68.62,223.67 L69.91,222.80 L71.23,221.97 L72.57,221.17 L73.92,220.41 L75.30,219.68 L76.70,219.00 L78.11,218.34 L79.54,217.73 L80.98,217.15 L82.45,216.61 L83.92,216.12 L85.44,215.77 L86.93,215.34 L88.44,214.94 L89.95,214.59 L91.47,214.27 L93.00,213.99 L94.54,213.74 L96.08,213.54 L97.63,213.37 L99.19,213.24 L100.74,213.16 L102.30,213.11 L103.87,213.10 L105.43,213.13 L106.99,213.20 L108.55,213.31 L110.11,213.46 L111.67,213.65 L113.22,213.88 L114.77,214.15 L116.31,214.46 L117.84,214.81 L119.37,215.20 L120.88,215.63 L122.39,216.10 L123.88,216.61 L125.37,217.15" stroke="#ee6a42" stroke-width="0.50" fill="none" opacity="0.60"/><circle cx="80.46" cy="215.77" r="0.37" fill="#f4f3ef" opacity="0.55"/><circle cx="133.03" cy="322.61" r="0.39" fill="#f4f3ef" opacity="0.55"/><circle cx="41.70" cy="282.40" r="0.26" fill="#f4f3ef" opacity="0.55"/><circle cx="82.36" cy="216.38" r="0.33" fill="#f4f3ef" opacity="0.55"/><circle cx="73.42" cy="219.48" r="0.26" fill="#f4f3ef" opacity="0.55"/><circle cx="83.65" cy="215.28" r="0.38" fill="#f4f3ef" opacity="0.55"/><circle cx="49.14" cy="301.84" r="0.48" fill="#f4f3ef" opacity="0.55"/><circle cx="99.19" cy="213.32" r="0.42" fill="#f4f3ef" opacity="0.55"/><circle cx="120.05" cy="327.77" r="0.49" fill="#f4f3ef" opacity="0.55"/><circle cx="56.50" cy="231.44" r="0.40" fill="#f4f3ef" opacity="0.55"/><circle cx="57.95" cy="313.14" r="0.39" fill="#f4f3ef" opacity="0.55"/><circle cx="63.97" cy="318.28" r="0.49" fill="#f4f3ef" opacity="0.55"/><circle cx="95.46" cy="332.10" r="0.26" fill="#f4f3ef" opacity="0.55"/><circle cx="150.14" cy="235.96" r="0.42" fill="#f4f3ef" opacity="0.55"/><circle cx="60.34" cy="228.45" r="0.30" fill="#f4f3ef" opacity="0.55"/><circle cx="65.02" cy="224.09" r="0.34" fill="#f4f3ef" opacity="0.55"/><circle cx="43.50" cy="285.31" r="0.38" fill="#f4f3ef" opacity="0.55"/><circle cx="78.90" cy="326.94" r="0.29" fill="#f4f3ef" opacity="0.55"/><circle cx="112.77" cy="330.73" r="0.46" fill="#f4f3ef" opacity="0.55"/><circle cx="43.59" cy="255.31" r="0.29" fill="#f4f3ef" opacity="0.55"/><circle cx="160.14" cy="277.71" r="0.41" fill="#f4f3ef" opacity="0.55"/><circle cx="153.09" cy="241.60" r="0.32" fill="#f4f3ef" opacity="0.55"/><circle cx="49.12" cy="303.71" r="0.40" fill="#f4f3ef" opacity="0.55"/><circle cx="55.07" cy="236.42" r="0.46" fill="#f4f3ef" opacity="0.55"/><circle cx="146.41" cy="311.82" r="0.34" fill="#f4f3ef" opacity="0.55"/><circle cx="108.21" cy="332.51" r="0.47" fill="#f4f3ef" opacity="0.55"/><circle cx="144.71" cy="312.38" r="0.43" fill="#f4f3ef" opacity="0.55"/><circle cx="154.37" cy="242.68" r="0.45" fill="#f4f3ef" opacity="0.55"/><circle cx="41.28" cy="272.75" r="0.38" fill="#f4f3ef" opacity="0.55"/><circle cx="93.78" cy="332.69" r="0.31" fill="#f4f3ef" opacity="0.55"/><circle cx="44.78" cy="252.32" r="0.41" fill="#f4f3ef" opacity="0.55"/><circle cx="100.27" cy="331.08" r="0.47" fill="#f4f3ef" opacity="0.55"/><circle cx="154.50" cy="298.49" r="0.48" fill="#f4f3ef" opacity="0.55"/><circle cx="57.92" cy="232.70" r="0.37" fill="#f4f3ef" opacity="0.55"/><circle cx="44.21" cy="258.75" r="0.30" fill="#f4f3ef" opacity="0.55"/><path d="M107.22,211.51 A60.92,60.92 0 0 1 143.50,227.61" stroke="#ee6a42" stroke-width="0.75" fill="none" opacity="0.47"/><path d="M119.99,214.41 A60.52,60.52 0 0 1 147.71,232.53" stroke="#ee6a42" stroke-width="0.63" fill="none" opacity="0.65"/><path d="M111.66,212.88 A60.10,60.10 0 0 1 141.62,227.00" stroke="#ee6a42" stroke-width="0.62" fill="none" opacity="0.51"/>
<path d="M434.43,234.07 L435.36,235.34 L436.54,236.41 L437.14,237.91 L438.13,239.13 L438.74,240.59 L439.59,241.90 L440.26,243.31 L441.03,244.66 L441.70,246.07 L442.43,247.44 L442.73,249.00 L443.49,250.37 L443.81,251.90 L444.34,253.35 L444.54,254.91 L444.96,256.38 L445.09,257.94 L445.50,259.41 L445.77,260.92 L446.02,262.43 L446.07,263.96 L446.70,265.42 L446.85,266.95 L446.68,268.50 L446.96,270.01 L446.68,271.55 L446.74,273.08 L446.82,274.60 L446.68,276.13 L446.34,277.63 L446.25,279.15 L446.34,280.70 L445.94,282.19 L445.77,283.71 L445.35,285.19 L445.20,286.72 L444.82,288.21 L444.20,289.62 L443.85,291.12 L442.94,292.42 L442.47,293.87 L441.96,295.31 L441.38,296.72 L440.62,298.05 L440.02,299.46 L439.33,300.82 L438.43,302.07 L437.80,303.47 L436.96,304.75 L435.86,305.85 L434.88,307.02 L434.27,308.48 L433.24,309.61 L432.06,310.62 L431.28,311.97 L429.95,312.81 L429.07,314.10 L427.96,315.15 L426.55,315.87 L425.61,317.12 L424.43,318.10 L423.08,318.84 L422.00,319.96 L420.64,320.68 L419.38,321.55 L418.08,322.37 L416.56,322.78 L415.37,323.80 L413.91,324.30 L412.63,325.16 L411.20,325.72 L409.71,326.10 L408.28,326.64 L406.88,327.27 L405.41,327.67 L403.94,328.09 L402.45,328.45 L401.01,329.03 L399.48,329.17 L397.99,329.54 L396.42,329.38 L394.93,329.76 L393.40,329.77 L391.89,330.13 L390.35,329.95 L388.83,329.89 L387.29,330.21 L385.78,329.82 L384.25,329.77 L382.73,329.64 L381.22,329.41 L379.66,329.51 L378.14,329.31 L376.67,328.84 L375.14,328.66 L373.72,328.01 L372.17,327.86 L370.75,327.28 L369.27,326.87 L367.92,326.08 L366.41,325.73 L365.05,325.02 L363.70,324.29 L362.29,323.69 L360.85,323.12 L359.56,322.30 L358.19,321.58 L357.06,320.51 L355.77,319.68 L354.41,318.95 L353.36,317.80 L352.16,316.84 L350.78,316.11 L349.71,314.99 L348.76,313.77 L347.72,312.65 L346.47,311.73 L345.58,310.47 L344.66,309.24 L343.65,308.10 L342.61,306.97 L341.82,305.65 L340.95,304.40 L340.09,303.13 L339.33,301.80 L338.32,300.62 L337.46,299.33 L336.73,297.98 L336.16,296.55 L335.68,295.08 L335.02,293.70 L334.72,292.17 L333.91,290.83 L333.35,289.40 L332.91,287.92 L332.58,286.42 L332.05,284.96 L331.89,283.42 L331.93,281.86 L331.24,280.41 L331.12,278.87 L331.20,277.32 L331.18,275.79 L330.80,274.27 L330.75,272.73 L330.83,271.19 L330.72,269.65 L331.20,268.14 L331.15,266.60 L331.03,265.04 L331.30,263.52 L331.74,262.03 L332.22,260.56 L332.12,258.96 L332.66,257.51 L333.17,256.06 L333.69,254.61 L333.82,253.03 L334.30,251.56 L334.86,250.13 L335.47,248.71 L336.14,247.31 L337.12,246.08 L337.51,244.55 L338.52,243.35 L339.22,241.98 L340.16,240.75 L341.05,239.50 L341.85,238.19 L342.64,236.86 L343.59,235.64 L344.61,234.50 L345.59,233.30 L346.49,232.04 L347.76,231.12 L348.89,230.08 L349.90,228.91 L351.17,228.02 L352.38,227.08 L353.43,225.91 L354.65,224.97 L355.82,223.95 L357.11,223.10 L358.43,222.30 L359.83,221.63 L361.25,221.02 L362.51,220.09 L364.02,219.68 L365.24,218.63 L366.75,218.24 L368.12,217.50 L369.67,217.26 L371.12,216.73 L372.60,216.33 L374.03,215.71 L375.56,215.45 L377.10,215.30 L378.53,214.61 L380.09,214.53 L381.63,214.43 L383.11,213.85 L384.67,213.88 L386.22,213.96 L387.76,213.71 L389.30,213.79 L390.85,213.61 L392.40,213.67 L393.95,213.75 L395.51,213.69 L397.06,213.84 L398.58,214.17 L400.16,214.22 L401.74,214.27 L403.21,214.85 L404.79,215.00 L406.27,215.51 L407.88,215.63 L409.39,216.09 L410.84,216.73 L412.36,217.18 L412.53,216.75 L411.14,215.94 L409.71,215.22 L408.11,214.96 L406.67,214.22 L405.18,213.59 L403.60,213.28 L402.10,212.65 L400.49,212.46 L398.92,212.14 L397.39,211.49 L395.74,211.62 L394.14,211.45 L392.56,210.84 L390.93,211.00 L389.32,210.60 L387.70,211.00 L386.08,210.93 L384.45,210.94 L382.82,210.88 L381.22,211.22 L379.55,211.06 L377.95,211.42 L376.40,211.97 L374.80,212.28 L373.12,212.27 L371.58,212.85 L370.14,213.68 L368.62,214.27 L366.95,214.44 L365.57,215.39 L363.93,215.68 L362.59,216.66 L361.09,217.31 L359.63,218.03 L358.17,218.75 L356.88,219.77 L355.36,220.41 L354.08,221.43 L352.58,222.13 L351.42,223.31 L350.14,224.31 L348.92,225.39 L347.65,226.42 L346.53,227.60 L345.11,228.49 L344.11,229.79 L343.21,231.17 L341.96,232.25 L341.02,233.58 L340.11,234.93 L338.89,236.05 L338.09,237.48 L337.02,238.73 L336.19,240.14 L335.23,241.47 L334.53,242.95 L333.91,244.47 L333.08,245.87 L332.43,247.37 L331.96,248.94 L331.33,250.45 L330.58,251.91 L330.18,253.50 L329.62,255.03 L329.05,256.57 L329.04,258.25 L328.67,259.83 L328.06,261.37 L327.76,262.98 L327.69,264.62 L327.63,266.26 L327.47,267.88 L327.08,269.49 L327.08,271.13 L327.04,272.77 L327.24,274.40 L327.30,276.03 L327.20,277.68 L327.55,279.29 L327.64,280.92 L327.92,282.54 L328.39,284.11 L328.85,285.68 L329.22,287.26 L329.37,288.92 L329.69,290.53 L330.26,292.07 L331.00,293.54 L331.31,295.17 L332.23,296.56 L332.83,298.08 L333.40,299.63 L334.07,301.12 L334.94,302.51 L335.94,303.83 L336.57,305.36 L337.32,306.83 L338.42,308.06 L339.22,309.50 L340.46,310.62 L341.34,312.02 L342.64,313.06 L343.46,314.52 L344.83,315.48 L345.81,316.82 L346.98,317.97 L348.35,318.89 L349.40,320.19 L350.84,321.02 L352.14,322.01 L353.31,323.20 L354.81,323.90 L356.06,325.00 L357.60,325.62 L358.95,326.56 L360.43,327.27 L361.89,328.03 L363.44,328.56 L364.86,329.40 L366.45,329.85 L367.97,330.45 L369.52,330.98 L371.09,331.44 L372.55,332.29 L374.15,332.67 L375.84,332.67 L377.36,333.39 L379.05,333.27 L380.66,333.57 L382.29,333.72 L383.89,334.23 L385.53,334.28 L387.17,334.28 L388.81,334.09 L390.45,334.10 L392.09,334.10 L393.73,334.18 L395.37,334.01 L396.98,333.66 L398.63,333.64 L400.23,333.23 L401.90,333.24 L403.40,332.42 L405.03,332.19 L406.57,331.59 L408.23,331.42 L409.77,330.85 L411.38,330.45 L412.89,329.78 L414.28,328.85 L415.73,328.09 L417.39,327.74 L418.68,326.68 L420.18,325.98 L421.65,325.24 L423.07,324.40 L424.36,323.38 L425.81,322.58 L427.04,321.47 L428.39,320.52 L429.48,319.27 L430.76,318.25 L431.81,316.97 L433.02,315.86 L434.12,314.64 L435.50,313.68 L436.60,312.45 L437.57,311.13 L438.55,309.81 L439.44,308.42 L440.27,307.00 L441.42,305.79 L442.01,304.23 L443.08,302.96 L443.86,301.51 L444.47,299.98 L445.49,298.65 L445.84,297.00 L446.67,295.57 L447.19,294.01 L447.80,292.48 L448.36,290.94 L448.59,289.29 L449.43,287.82 L449.82,286.22 L450.10,284.59 L450.24,282.94 L450.72,281.35 L450.50,279.67 L451.09,278.08 L451.20,276.44 L451.05,274.78 L451.27,273.14 L451.24,271.50 L451.29,269.85 L450.91,268.23 L451.04,266.57 L450.62,264.96 L450.36,263.34 L450.38,261.68 L449.95,260.09 L449.60,258.48 L449.17,256.90 L448.53,255.37 L447.97,253.84 L447.53,252.27 L446.74,250.82 L446.24,249.26 L445.29,247.90 L444.58,246.44 L443.79,245.03 L442.99,243.63 L442.19,242.22 L441.29,240.89 L440.39,239.55 L439.58,238.16 L438.39,237.03 L437.30,235.84 L436.26,234.63 L435.35,233.32Z" fill="#ee6a42"/><path d="M440.39,299.65 L439.65,301.00 L438.87,302.33 L438.05,303.64 L437.21,304.92 L436.32,306.18 L435.41,307.42 L434.46,308.63 L433.49,309.82 L432.48,310.99 L431.44,312.12 L430.37,313.23 L429.27,314.31 L428.14,315.36 L426.99,316.38 L425.81,317.36 L424.61,318.32 L423.38,319.25 L422.12,320.14 L420.84,321.00 L419.54,321.82 L418.22,322.61 L416.88,323.37 L415.52,324.09 L414.14,324.77 L412.74,325.42" stroke="#f4f3ef" stroke-width="0.40" fill="none" opacity="0.45"/><path d="M329.86,256.78 L330.29,255.22 L330.76,253.68 L331.27,252.15 L331.83,250.63 L332.42,249.13 L333.05,247.65 L333.72,246.18 L334.43,244.73 L335.18,243.30 L335.96,241.89 L336.79,240.50 L337.64,239.13 L338.54,237.79 L339.47,236.47 L340.43,235.18 L341.43,233.91 L342.46,232.67 L343.52,231.45 L344.62,230.27 L345.74,229.11 L346.90,227.99 L348.08,226.89 L349.29,225.83 L350.53,224.80 L351.80,223.80" stroke="#f4f3ef" stroke-width="0.40" fill="none" opacity="0.45"/><path d="M351.37,225.82 L352.60,224.85 L353.87,223.90 L355.16,222.99 L356.47,222.11 L357.80,221.27 L359.16,220.46 L360.53,219.69 L361.93,218.96 L363.35,218.26 L364.78,217.60 L366.23,216.98 L367.70,216.40 L369.18,215.85 L370.67,215.35 L372.19,214.91 L373.71,214.48 L375.24,214.10 L376.77,213.75 L378.32,213.44 L379.88,213.17 L381.44,212.95 L383.01,212.76 L384.58,212.62 L386.15,212.51 L387.73,212.45 L389.31,212.43 L390.89,212.45 L392.47,212.51 L394.04,212.61 L395.62,212.75 L397.18,212.94 L398.75,213.16 L400.31,213.43 L401.86,213.74" stroke="#f4f3ef" stroke-width="0.40" fill="none" opacity="0.45"/><path d="M332.31,255.81 L332.76,254.32 L333.25,252.84 L333.78,251.37 L334.35,249.92 L334.95,248.48 L335.60,247.06 L336.28,245.66 L336.99,244.27 L337.75,242.91 L338.54,241.56 L339.36,240.24 L340.22,238.94 L341.11,237.66 L342.04,236.40 L343.00,235.17 L343.99,233.97 L345.02,232.79 L346.07,231.64 L347.16,230.52 L348.27,229.43 L349.41,228.37 L350.58,227.33 L351.78,226.33 L353.00,225.36 L354.25,224.43 L355.52,223.52 L356.82,222.65 L358.14,221.82 L359.48,221.02 L360.84,220.26 L362.22,219.53 L363.62,218.84 L365.04,218.19 L366.47,217.57 L367.92,216.99 L369.39,216.45 L370.87,215.95 L372.39,215.58 L373.88,215.16 L375.39,214.76 L376.91,214.41 L378.44,214.09" stroke="#f4f3ef" stroke-width="0.40" fill="none" opacity="0.45"/><path d="M386.20,213.44 L387.75,213.34 L389.30,213.29 L390.86,213.27 L392.42,213.29 L393.98,213.35 L395.54,213.46 L397.09,213.60 L398.65,213.78 L400.20,214.00 L401.74,214.26 L403.28,214.56 L404.82,214.90 L406.34,215.28 L407.86,215.70 L409.37,216.16 L410.87,216.65 L412.35,217.19" stroke="#f4f3ef" stroke-width="0.40" fill="none" opacity="0.45"/><path d="M361.61,325.01 L360.22,324.26 L358.86,323.49 L357.51,322.67 L356.19,321.83 L354.89,320.94 L353.61,320.03 L352.36,319.07 L351.13,318.09 L349.93,317.08 L348.76,316.03 L347.62,314.95 L346.50,313.84 L345.41,312.71 L344.36,311.54 L343.33,310.35 L342.34,309.13 L341.38,307.89 L340.45,306.62 L339.56,305.33 L338.70,304.01 L337.88,302.67 L337.09,301.31 L336.34,299.93 L335.62,298.53 L334.94,297.11" stroke="#f4f3ef" stroke-width="0.40" fill="none" opacity="0.45"/><path d="M374.93,329.51 L373.42,329.12 L371.92,328.69 L370.43,328.22 L368.96,327.71 L367.50,327.16 L366.06,326.58 L364.63,325.96 L363.21,325.29 L361.82,324.60 L360.44,323.86 L359.09,323.09 L357.75,322.29 L356.44,321.44 L355.15,320.57 L353.88,319.66 L352.64,318.72 L351.42,317.74 L350.23,316.74 L349.07,315.70 L347.93,314.63 L346.82,313.53 L345.74,312.40 L344.69,311.25 L343.68,310.07 L342.69,308.86 L341.74,307.62 L340.81,306.36 L339.93,305.08 L339.07,303.77 L338.25,302.45 L337.47,301.10" stroke="#f4f3ef" stroke-width="0.40" fill="none" opacity="0.45"/><path d="M449.46,279.54 L449.25,281.14 L448.99,282.72 L448.69,284.31 L448.35,285.88 L447.97,287.44 L447.55,288.99 L447.09,290.53 L446.58,292.06 L446.04,293.58 L445.45,295.08 L444.83,296.56 L444.17,298.03 L443.47,299.47 L442.73,300.90 L441.95,302.31 L441.14,303.70 L440.29,305.07 L439.40,306.41 L438.48,307.73 L437.52,309.03 L436.53,310.29 L435.51,311.54 L434.46,312.75 L433.37,313.94 L432.25,315.09 L431.10,316.22 L429.92,317.32 L428.72,318.38 L427.48,319.42 L426.22,320.42 L424.94,321.38 L423.62,322.31 L422.29,323.21 L420.93,324.07 L419.55,324.90 L418.14,325.68 L416.72,326.43 L415.28,327.15" stroke="#f4f3ef" stroke-width="0.40" fill="none" opacity="0.45"/><path d="M343.11,310.54 L342.11,309.31 L341.15,308.06 L340.22,306.79 L339.32,305.49 L338.46,304.16 L337.63,302.82 L336.84,301.45 L336.09,300.06 L335.37,298.65 L334.69,297.23 L334.04,295.78 L333.44,294.33 L332.87,292.85 L332.35,291.36 L331.86,289.86 L331.41,288.34 L331.01,286.82 L330.64,285.28 L330.32,283.73 L330.03,282.18 L329.79,280.62 L329.58,279.05 L329.42,277.48 L329.30,275.90 L329.23,274.33 L329.19,272.75 L329.20,271.17 L329.24,269.59 L329.33,268.01" stroke="#f4f3ef" stroke-width="0.40" fill="none" opacity="0.45"/><path d="M416.00,325.02 L414.59,325.71 L413.17,326.37 L411.73,326.99 L410.27,327.57 L408.80,328.11 L407.32,328.62 L405.82,329.08 L404.32,329.51 L402.80,329.89 L401.27,330.24 L399.73,330.54 L398.19,330.81 L396.64,331.03 L395.08,331.21 L393.52,331.35 L391.95,331.45 L390.39,331.51 L388.82,331.53 L387.25,331.50 L385.69,331.44 L384.12,331.33 L382.56,331.18 L381.01,330.99 L379.46,330.76 L377.91,330.49 L376.38,330.18 L374.85,329.83 L373.33,329.43 L371.83,329.00 L370.33,328.53 L368.85,328.02 L367.38,327.47 L365.93,326.88 L364.49,326.25 L363.07,325.59 L361.67,324.88 L360.29,324.14 L358.92,323.37 L357.58,322.56 L356.26,321.71 L354.97,320.83 L353.69,319.92 L352.44,318.97" stroke="#f4f3ef" stroke-width="0.40" fill="none" opacity="0.45"/><path d="M446.45,292.02 L445.91,293.53 L445.33,295.03 L444.71,296.51 L444.04,297.97 L443.34,299.41 L442.61,300.84 L441.83,302.25 L441.02,303.63 L440.17,304.99 L439.29,306.33 L438.37,307.65 L437.41,308.94 L436.43,310.21 L435.41,311.45 L434.35,312.66 L433.27,313.84 L432.15,315.00 L431.01,316.12 L429.83,317.22 L428.63,318.28 L427.40,319.31 L426.14,320.31 L424.86,321.27 L423.55,322.20 L422.21,323.10 L420.86,323.96 L419.48,324.78 L418.08,325.57 L416.66,326.31 L415.22,327.03 L413.76,327.70 L412.29,328.33 L410.80,328.93 L409.29,329.48 L407.77,330.00 L406.24,330.47 L404.69,330.91 L403.13,331.30 L401.57,331.65 L399.99,331.96 L398.41,332.23 L396.82,332.46 L395.23,332.64 L393.63,332.78" stroke="#f4f3ef" stroke-width="0.40" fill="none" opacity="0.45"/><path d="M344.44,230.10 L345.57,228.94 L346.73,227.81 L347.92,226.71 L349.14,225.65 L350.38,224.61 L351.66,223.61 L352.95,222.65 L354.28,221.71 L355.63,220.82 L357.00,219.95 L358.39,219.13 L359.80,218.34 L361.24,217.59 L362.69,216.88 L364.16,216.21 L365.65,215.57 L367.15,214.98 L368.67,214.42 L370.21,213.91 L371.72,213.31 L373.28,212.88 L374.86,212.51 L376.45,212.18 L378.04,211.89 L379.64,211.65 L381.25,211.45 L382.86,211.30 L384.47,211.20 L386.09,211.14 L387.70,211.12 L389.31,211.15 L390.93,211.22 L392.53,211.34 L394.14,211.50 L395.73,211.71 L397.32,211.96 L398.90,212.25 L400.47,212.58" stroke="#f4f3ef" stroke-width="0.40" fill="none" opacity="0.45"/><path d="M370.20,328.93 L368.71,328.41 L367.23,327.85 L365.77,327.26 L364.32,326.63 L362.89,325.96 L361.48,325.25 L360.09,324.50 L358.72,323.72 L357.37,322.91 L356.04,322.05 L354.73,321.16 L353.45,320.24 L352.19,319.29 L350.96,318.30 L349.76,317.28 L348.58,316.23 L347.43,315.14 L346.31,314.03 L345.22,312.89 L344.16,311.72 L343.13,310.52 L342.13,309.30 L341.17,308.05 L340.24,306.77 L339.34,305.47 L338.48,304.15 L337.65,302.80 L336.86,301.44" stroke="#f4f3ef" stroke-width="0.40" fill="none" opacity="0.45"/><path d="M387.75,213.22 L389.30,213.17 L390.86,213.16 L392.43,213.19 L393.99,213.26 L395.55,213.36 L397.11,213.51 L398.66,213.70 L400.21,213.93 L401.76,214.19 L403.30,214.50 L404.83,214.84 L406.36,215.23 L407.87,215.66 L409.38,216.12 L410.88,216.62 L412.36,217.17" stroke="#f4f3ef" stroke-width="0.40" fill="none" opacity="0.45"/><path d="M403.11,331.20 L401.55,331.55 L399.97,331.86 L398.39,332.12 L396.81,332.35 L395.22,332.54 L393.62,332.68 L392.02,332.78 L390.42,332.84 L388.82,332.85 L387.22,332.82 L385.61,332.75 L384.02,332.64 L382.42,332.49 L380.83,332.29 L379.25,332.06 L377.67,331.78 L376.10,331.45 L374.54,331.09 L372.99,330.69 L371.45,330.24 L369.92,329.76 L368.41,329.23 L366.91,328.67 L365.43,328.06 L363.96,327.42 L362.51,326.74 L361.08,326.02 L359.67,325.26 L358.28,324.47 L356.91,323.64 L355.56,322.77 L354.24,321.87 L352.94,320.93 L351.67,319.96 L350.42,318.96 L349.20,317.92" stroke="#ee6a42" stroke-width="0.50" fill="none" opacity="0.60"/><path d="M450.80,276.41 L450.67,278.04 L450.50,279.67 L450.28,281.29 L450.02,282.90 L449.72,284.51 L449.37,286.11 L448.99,287.70 L448.56,289.28 L448.08,290.85 L447.57,292.40 L447.02,293.95 L446.43,295.47 L445.79,296.98 L445.12,298.47 L444.41,299.94 L443.65,301.40 L442.86,302.83 L442.04,304.24 L441.17,305.63 L440.27,307.00 L439.33,308.34 L438.36,309.66 L437.35,310.95 L436.31,312.21 L435.24,313.45 L434.13,314.66 L433.00,315.83 L431.83,316.98 L430.63,318.10 L429.40,319.18 L428.15,320.23 L426.86,321.25 L425.55,322.23 L424.22,323.18 L422.86,324.09 L421.48,324.96 L420.07,325.80 L418.64,326.60 L417.20,327.36 L415.73,328.09" stroke="#ee6a42" stroke-width="0.50" fill="none" opacity="0.60"/><path d="M336.95,246.00 L337.66,244.63 L338.40,243.28 L339.18,241.95 L339.99,240.64 L340.84,239.36 L341.72,238.09 L342.63,236.85 L343.58,235.64 L344.56,234.45 L345.57,233.29 L346.61,232.15 L347.68,231.04 L348.77,229.96 L349.90,228.91 L351.06,227.89 L352.24,226.90 L353.44,225.94 L354.68,225.01 L355.93,224.12 L357.21,223.26 L358.51,222.43 L359.84,221.64 L361.18,220.89 L362.54,220.17 L363.93,219.48 L365.33,218.84 L366.74,218.23 L368.18,217.65 L369.62,217.12 L371.08,216.62 L372.61,216.33 L374.08,215.90 L375.57,215.51 L377.07,215.14" stroke="#ee6a42" stroke-width="0.50" fill="none" opacity="0.60"/><circle cx="448.25" cy="263.65" r="0.44" fill="#f4f3ef" opacity="0.55"/><circle cx="336.63" cy="303.41" r="0.47" fill="#f4f3ef" opacity="0.55"/><circle cx="382.57" cy="331.09" r="0.49" fill="#f4f3ef" opacity="0.55"/><circle cx="387.71" cy="211.68" r="0.36" fill="#f4f3ef" opacity="0.55"/><circle cx="412.28" cy="328.32" r="0.37" fill="#f4f3ef" opacity="0.55"/><circle cx="434.40" cy="310.59" r="0.45" fill="#f4f3ef" opacity="0.55"/><circle cx="393.57" cy="332.04" r="0.25" fill="#f4f3ef" opacity="0.55"/><circle cx="356.42" cy="324.42" r="0.45" fill="#f4f3ef" opacity="0.55"/><circle cx="330.73" cy="258.64" r="0.31" fill="#f4f3ef" opacity="0.55"/><circle cx="343.23" cy="310.44" r="0.33" fill="#f4f3ef" opacity="0.55"/><circle cx="442.00" cy="244.15" r="0.36" fill="#f4f3ef" opacity="0.55"/><circle cx="418.17" cy="322.51" r="0.34" fill="#f4f3ef" opacity="0.55"/><circle cx="370.92" cy="216.12" r="0.39" fill="#f4f3ef" opacity="0.55"/><circle cx="448.96" cy="281.09" r="0.41" fill="#f4f3ef" opacity="0.55"/><circle cx="441.72" cy="300.37" r="0.27" fill="#f4f3ef" opacity="0.55"/><circle cx="449.99" cy="266.66" r="0.40" fill="#f4f3ef" opacity="0.55"/><circle cx="404.00" cy="328.33" r="0.39" fill="#f4f3ef" opacity="0.55"/><circle cx="405.52" cy="328.04" r="0.44" fill="#f4f3ef" opacity="0.55"/><circle cx="335.64" cy="241.70" r="0.28" fill="#f4f3ef" opacity="0.55"/><circle cx="398.19" cy="330.83" r="0.29" fill="#f4f3ef" opacity="0.55"/><circle cx="332.45" cy="288.05" r="0.45" fill="#f4f3ef" opacity="0.55"/><circle cx="366.37" cy="217.31" r="0.42" fill="#f4f3ef" opacity="0.55"/><circle cx="330.07" cy="272.74" r="0.44" fill="#f4f3ef" opacity="0.55"/><circle cx="348.63" cy="318.57" r="0.29" fill="#f4f3ef" opacity="0.55"/><circle cx="443.79" cy="250.24" r="0.49" fill="#f4f3ef" opacity="0.55"/><circle cx="379.75" cy="212.34" r="0.36" fill="#f4f3ef" opacity="0.55"/><circle cx="342.05" cy="311.43" r="0.39" fill="#f4f3ef" opacity="0.55"/><circle cx="334.26" cy="249.88" r="0.33" fill="#f4f3ef" opacity="0.55"/><circle cx="406.54" cy="214.63" r="0.35" fill="#f4f3ef" opacity="0.55"/><circle cx="336.81" cy="301.46" r="0.27" fill="#f4f3ef" opacity="0.55"/><circle cx="435.03" cy="313.27" r="0.32" fill="#f4f3ef" opacity="0.55"/><circle cx="375.29" cy="214.33" r="0.44" fill="#f4f3ef" opacity="0.55"/><circle cx="441.45" cy="302.03" r="0.38" fill="#f4f3ef" opacity="0.55"/><circle cx="436.04" cy="309.90" r="0.26" fill="#f4f3ef" opacity="0.55"/><circle cx="445.77" cy="254.52" r="0.28" fill="#f4f3ef" opacity="0.55"/><path d="M404.34,215.09 A59.13,59.13 0 0 1 432.19,231.82" stroke="#ee6a42" stroke-width="0.83" fill="none" opacity="0.40"/><path d="M394.83,211.31 A61.17,61.17 0 0 1 432.21,228.90" stroke="#ee6a42" stroke-width="0.66" fill="none" opacity="0.65"/><path d="M405.16,213.23 A61.14,61.14 0 0 1 435.72,232.76" stroke="#ee6a42" stroke-width="0.93" fill="none" opacity="0.68"/>
<path d="M241.73,428.63 L242.63,429.93 L243.22,431.45 L244.23,432.65 L245.10,433.95 L245.76,435.38 L246.45,436.78 L247.30,438.09 L248.02,439.47 L248.52,440.95 L249.29,442.31 L249.94,443.71 L250.36,445.22 L251.02,446.62 L251.28,448.17 L251.50,449.72 L252.13,451.14 L252.18,452.71 L252.40,454.23 L252.82,455.71 L253.23,457.19 L253.14,458.75 L253.35,460.26 L253.83,461.75 L253.83,463.29 L253.69,464.82 L253.87,466.35 L253.85,467.88 L253.91,469.41 L253.50,470.92 L253.35,472.43 L253.58,473.99 L253.36,475.51 L253.15,477.03 L252.71,478.50 L252.27,479.97 L251.80,481.42 L251.58,482.94 L251.25,484.44 L250.70,485.87 L250.10,487.28 L249.79,488.80 L248.89,490.08 L248.49,491.57 L247.90,492.99 L246.98,494.24 L246.23,495.57 L245.70,497.03 L244.75,498.24 L243.89,499.51 L243.15,500.86 L242.14,502.02 L241.30,503.31 L240.33,504.49 L239.20,505.54 L238.11,506.61 L237.20,507.86 L235.94,508.77 L234.90,509.89 L233.70,510.84 L232.43,511.69 L231.27,512.68 L230.13,513.71 L228.85,514.54 L227.52,515.29 L226.43,516.44 L224.97,516.98 L223.57,517.60 L222.33,518.51 L220.86,518.97 L219.55,519.79 L218.12,520.31 L216.70,520.88 L215.25,521.34 L213.91,522.15 L212.35,522.29 L210.97,523.00 L209.43,523.16 L208.01,523.82 L206.46,523.89 L204.96,524.17 L203.47,524.58 L201.91,524.34 L200.41,524.73 L198.88,524.71 L197.36,524.94 L195.83,524.89 L194.30,524.81 L192.78,524.58 L191.26,524.53 L189.71,524.68 L188.21,524.30 L186.68,524.22 L185.16,523.97 L183.64,523.78 L182.22,523.13 L180.65,523.08 L179.20,522.56 L177.84,521.79 L176.26,521.67 L174.98,520.73 L173.47,520.39 L172.13,519.64 L170.64,519.22 L169.35,518.36 L168.00,517.66 L166.75,516.76 L165.25,516.29 L164.16,515.16 L162.86,514.35 L161.61,513.47 L160.16,512.85 L159.20,511.59 L157.78,510.91 L156.86,509.63 L155.80,508.53 L154.55,507.61 L153.57,506.43 L152.43,505.40 L151.31,504.34 L150.59,502.94 L149.55,501.81 L148.64,500.58 L147.80,499.29 L146.73,498.16 L146.03,496.78 L145.24,495.46 L144.71,494.00 L144.01,492.65 L143.43,491.23 L142.74,489.86 L141.97,488.51 L141.29,487.13 L140.76,485.68 L140.69,484.09 L140.11,482.67 L139.88,481.14 L139.53,479.65 L138.74,478.25 L138.76,476.69 L138.51,475.17 L138.00,473.69 L138.15,472.13 L138.01,470.60 L138.02,469.06 L137.83,467.53 L137.80,465.99 L137.80,464.45 L138.22,462.94 L137.98,461.38 L138.06,459.84 L138.41,458.33 L138.75,456.83 L139.14,455.34 L139.54,453.86 L139.69,452.32 L139.84,450.76 L140.71,449.42 L140.99,447.89 L141.41,446.41 L141.87,444.93 L142.57,443.55 L143.43,442.25 L144.02,440.83 L144.78,439.50 L145.26,438.00 L146.34,436.85 L147.12,435.53 L147.88,434.19 L148.78,432.94 L149.84,431.81 L150.51,430.38 L151.53,429.23 L152.64,428.16 L153.52,426.87 L154.73,425.89 L155.85,424.83 L157.08,423.91 L158.21,422.86 L159.35,421.84 L160.48,420.79 L161.57,419.67 L162.84,418.78 L164.23,418.09 L165.60,417.38 L166.94,416.63 L168.19,415.70 L169.45,414.77 L170.84,414.09 L172.42,413.85 L173.68,412.87 L175.22,412.57 L176.67,412.07 L178.08,411.40 L179.58,411.04 L181.14,410.91 L182.61,410.46 L184.04,409.81 L185.62,409.87 L187.13,409.58 L188.58,408.87 L190.11,408.65 L191.68,408.75 L193.21,408.45 L194.75,408.30 L196.30,408.14 L197.85,408.31 L199.39,408.58 L200.94,408.57 L202.53,408.30 L204.06,408.67 L205.65,408.56 L207.19,408.86 L208.67,409.40 L210.27,409.40 L211.72,410.07 L213.24,410.41 L214.90,410.39 L216.26,411.24 L217.87,411.43 L219.26,412.22 L219.53,411.56 L218.03,411.02 L216.58,410.37 L215.15,409.63 L213.68,408.98 L212.21,408.28 L210.58,408.17 L209.10,407.45 L207.53,407.08 L205.96,406.72 L204.38,406.32 L202.74,406.48 L201.16,406.01 L199.55,405.94 L197.93,405.78 L196.32,405.63 L194.70,405.76 L193.08,405.72 L191.43,405.41 L189.82,405.68 L188.22,406.04 L186.57,406.02 L184.95,406.17 L183.41,406.82 L181.78,406.97 L180.19,407.35 L178.63,407.81 L177.09,408.33 L175.53,408.83 L174.05,409.50 L172.46,409.92 L170.97,410.57 L169.52,411.32 L168.02,411.96 L166.63,412.83 L165.11,413.46 L163.91,414.61 L162.55,415.50 L160.99,416.10 L159.59,416.95 L158.55,418.27 L157.26,419.27 L155.96,420.24 L154.52,421.08 L153.32,422.18 L152.35,423.53 L151.22,424.70 L150.13,425.91 L149.13,427.19 L147.74,428.15 L146.91,429.58 L146.09,431.00 L144.95,432.19 L144.24,433.67 L143.02,434.83 L142.29,436.30 L141.80,437.89 L140.68,439.15 L140.03,440.65 L139.30,442.12 L138.87,443.71 L138.19,445.19 L137.63,446.73 L137.22,448.31 L136.74,449.86 L136.34,451.44 L135.96,453.03 L135.54,454.60 L135.18,456.20 L135.06,457.83 L134.74,459.43 L134.37,461.03 L134.38,462.67 L134.30,464.30 L134.41,465.93 L133.96,467.57 L133.94,469.21 L134.09,470.84 L134.14,472.48 L134.38,474.11 L134.81,475.70 L134.81,477.35 L135.22,478.94 L135.63,480.53 L135.83,482.16 L136.25,483.75 L136.77,485.30 L137.27,486.86 L137.82,488.41 L138.55,489.88 L139.04,491.44 L139.70,492.94 L140.67,494.29 L141.01,495.95 L142.00,497.28 L142.90,498.65 L143.68,500.09 L144.69,501.38 L145.37,502.89 L146.53,504.08 L147.28,505.56 L148.28,506.87 L149.44,508.03 L150.52,509.27 L151.65,510.45 L152.71,511.73 L154.07,512.67 L155.43,513.61 L156.42,514.97 L157.73,515.96 L159.08,516.89 L160.33,517.96 L161.67,518.93 L163.04,519.83 L164.63,520.37 L166.07,521.15 L167.47,522.01 L168.88,522.83 L170.37,523.53 L171.82,524.30 L173.35,524.91 L174.84,525.61 L176.51,525.82 L177.99,526.56 L179.64,526.76 L181.15,527.47 L182.82,527.53 L184.44,527.77 L185.97,528.54 L187.63,528.59 L189.26,528.72 L190.91,528.77 L192.52,529.22 L194.17,529.31 L195.81,529.09 L197.45,529.06 L199.08,528.86 L200.72,528.84 L202.35,528.62 L204.02,528.81 L205.61,528.31 L207.20,527.89 L208.90,528.01 L210.48,527.56 L211.99,526.84 L213.67,526.73 L215.23,526.23 L216.67,525.36 L218.26,524.93 L219.82,524.41 L221.26,523.61 L222.75,522.93 L224.26,522.30 L225.64,521.39 L227.20,520.83 L228.66,520.05 L230.07,519.22 L231.35,518.16 L232.69,517.21 L234.05,516.28 L235.41,515.35 L236.64,514.25 L237.86,513.15 L238.97,511.93 L240.25,510.89 L241.12,509.44 L242.38,508.37 L243.62,507.28 L244.51,505.88 L245.38,504.47 L246.42,503.21 L247.35,501.86 L248.35,500.55 L249.29,499.20 L249.96,497.69 L250.80,496.28 L251.56,494.82 L252.11,493.27 L252.91,491.83 L253.51,490.30 L254.37,488.88 L254.98,487.35 L255.19,485.68 L255.55,484.08 L256.37,482.60 L256.44,480.93 L257.09,479.39 L257.13,477.72 L257.64,476.14 L257.95,474.52 L258.10,472.88 L258.06,471.23 L258.26,469.59 L258.29,467.94 L258.07,466.30 L258.01,464.66 L258.15,463.01 L257.73,461.40 L257.86,459.73 L257.37,458.14 L257.00,456.54 L256.78,454.92 L256.76,453.25 L256.03,451.73 L255.38,450.22 L254.69,448.73 L254.55,447.06 L253.54,445.69 L253.02,444.15 L252.19,442.74 L251.70,441.19 L251.00,439.73 L250.08,438.38 L249.24,436.99 L248.35,435.65 L247.55,434.24 L246.40,433.07 L245.37,431.84 L244.66,430.37 L243.32,429.37 L242.16,428.27Z" fill="#ee6a42"/><path d="M257.00,458.20 L257.21,459.81 L257.38,461.43 L257.51,463.05 L257.59,464.68 L257.64,466.31 L257.63,467.93 L257.59,469.56 L257.50,471.19 L257.37,472.81 L257.20,474.43 L256.98,476.04 L256.72,477.65 L256.42,479.25 L256.08,480.84 L255.69,482.43 L255.26,484.00 L254.80,485.56 L254.29,487.11 L253.74,488.64 L253.14,490.16 L252.51,491.66 L251.84,493.14 L251.13,494.61 L250.39,496.06 L249.60,497.48 L248.78,498.89 L247.92,500.27 L247.02,501.63 L246.09,502.97" stroke="#f4f3ef" stroke-width="0.40" fill="none" opacity="0.45"/><path d="M160.55,514.91 L159.29,513.96 L158.06,512.98 L156.86,511.96 L155.69,510.91 L154.54,509.83 L153.42,508.72 L152.34,507.58 L151.28,506.42 L150.25,505.22 L149.26,504.00 L148.30,502.75 L147.37,501.48 L146.47,500.18 L145.61,498.87 L144.79,497.52 L144.00,496.16 L143.24,494.78 L142.53,493.37 L141.85,491.95 L141.21,490.51 L140.61,489.06 L140.04,487.59 L139.52,486.10 L139.03,484.61 L138.58,483.09" stroke="#f4f3ef" stroke-width="0.40" fill="none" opacity="0.45"/><path d="M145.46,432.54 L146.39,431.22 L147.36,429.92 L148.36,428.65 L149.39,427.41 L150.45,426.19 L151.55,425.00 L152.68,423.85 L153.83,422.72 L155.02,421.62 L156.23,420.56 L157.48,419.53 L158.74,418.53 L160.04,417.56 L161.36,416.63 L162.70,415.74 L164.07,414.88 L165.46,414.05 L166.87,413.27 L168.30,412.52 L169.75,411.81 L171.22,411.14 L172.70,410.51 L174.21,409.91 L175.72,409.36 L177.25,408.84" stroke="#f4f3ef" stroke-width="0.40" fill="none" opacity="0.45"/><path d="M136.45,482.01 L136.08,480.43 L135.75,478.84 L135.46,477.24 L135.22,475.64 L135.01,474.03 L134.85,472.42 L134.73,470.80 L134.66,469.18 L134.63,467.56 L134.64,465.94 L134.69,464.32 L134.79,462.70 L134.93,461.08 L135.11,459.47 L135.33,457.87 L135.60,456.27 L135.91,454.68 L136.26,453.10 L136.65,451.52 L137.08,449.96 L137.56,448.41 L138.07,446.88 L138.63,445.36 L139.22,443.85 L139.86,442.36 L140.53,440.89 L141.24,439.43" stroke="#f4f3ef" stroke-width="0.40" fill="none" opacity="0.45"/><path d="M157.29,511.47 L156.13,510.43 L154.99,509.37 L153.88,508.27 L152.81,507.14 L151.76,505.99 L150.74,504.81 L149.76,503.60 L148.80,502.37 L147.88,501.11 L147.00,499.83 L146.15,498.53 L145.33,497.20 L144.55,495.85 L143.80,494.49 L143.09,493.10 L142.41,491.69 L141.78,490.27 L141.18,488.83 L140.62,487.38 L140.10,485.91 L139.62,484.42" stroke="#f4f3ef" stroke-width="0.40" fill="none" opacity="0.45"/><path d="M224.15,518.65 L222.77,519.38 L221.38,520.07 L219.97,520.72 L218.54,521.34 L217.10,521.92 L215.64,522.46 L214.17,522.96 L212.69,523.42 L211.19,523.84 L209.69,524.22 L208.17,524.57 L206.64,524.87 L205.11,525.13 L203.57,525.35 L202.03,525.53 L200.48,525.67 L198.93,525.77 L197.38,525.83 L195.82,525.85 L194.27,525.83 L192.71,525.76 L191.16,525.66 L189.62,525.51 L188.07,525.32 L186.53,525.09 L185.00,524.83 L183.48,524.52 L181.96,524.17 L180.46,523.78 L178.96,523.35 L177.48,522.88 L176.01,522.38" stroke="#f4f3ef" stroke-width="0.40" fill="none" opacity="0.45"/><path d="M231.63,515.76 L230.33,516.68 L229.00,517.57 L227.66,518.43 L226.29,519.25 L224.90,520.03 L223.48,520.77 L222.05,521.48 L220.61,522.15 L219.14,522.78 L217.66,523.37 L216.16,523.92 L214.65,524.43 L213.13,524.91 L211.59,525.34 L210.05,525.73 L208.49,526.08 L206.92,526.39 L205.35,526.66 L203.77,526.88 L202.19,527.06 L200.60,527.21 L199.01,527.31 L197.41,527.36 L195.82,527.38 L194.22,527.35 L192.63,527.29 L191.04,527.17 L189.45,527.02 L187.87,526.83 L186.29,526.59 L184.72,526.31 L183.16,525.99 L181.60,525.63 L180.06,525.23 L178.53,524.79 L177.01,524.31" stroke="#f4f3ef" stroke-width="0.40" fill="none" opacity="0.45"/><path d="M191.46,405.89 L193.08,405.83 L194.70,405.82 L196.32,405.85 L197.93,405.93 L199.54,406.05 L201.14,406.22 L202.74,406.43 L204.33,406.68 L205.91,406.98 L207.48,407.32 L209.04,407.70 L210.59,408.13 L212.12,408.60 L213.64,409.10 L215.14,409.65 L216.63,410.24 L218.09,410.87 L219.54,411.54" stroke="#f4f3ef" stroke-width="0.40" fill="none" opacity="0.45"/><path d="M136.51,473.86 L136.35,472.29 L136.23,470.71 L136.15,469.13 L136.12,467.55 L136.12,465.96 L136.17,464.38 L136.26,462.80 L136.39,461.23 L136.56,459.65 L136.78,458.09 L137.03,456.53 L137.33,454.97 L137.67,453.43 L138.05,451.89 L138.47,450.36 L138.93,448.85 L139.42,447.35 L139.96,445.86 L140.54,444.39 L141.16,442.93 L141.81,441.49 L142.50,440.07 L143.23,438.66 L144.00,437.28 L144.80,435.92 L145.64,434.58 L146.52,433.26 L147.42,431.96 L148.37,430.69 L149.34,429.44" stroke="#f4f3ef" stroke-width="0.40" fill="none" opacity="0.45"/><path d="M162.71,418.60 L164.00,417.73 L165.31,416.90 L166.64,416.11 L168.00,415.34 L169.37,414.62 L170.76,413.93 L172.17,413.28 L173.60,412.67 L175.04,412.09 L176.50,411.56 L177.97,411.06 L179.49,410.73 L180.98,410.30 L182.47,409.90 L183.98,409.55 L185.50,409.22 L187.03,408.94 L188.56,408.69 L190.10,408.48 L191.64,408.31 L193.19,408.18 L194.75,408.09 L196.30,408.03 L197.86,408.02 L199.42,408.05 L200.98,408.11 L202.54,408.21 L204.10,408.36 L205.65,408.54 L207.20,408.77 L208.75,409.03 L210.29,409.33" stroke="#f4f3ef" stroke-width="0.40" fill="none" opacity="0.45"/><path d="M155.26,421.89 L156.47,420.83 L157.70,419.81 L158.96,418.81 L160.25,417.85 L161.56,416.93 L162.90,416.03 L164.26,415.18 L165.64,414.36 L167.04,413.58 L168.46,412.83 L169.90,412.13 L171.36,411.46 L172.84,410.83 L174.33,410.24 L175.84,409.69 L177.36,409.17 L178.87,408.63 L180.42,408.20 L181.98,407.82 L183.55,407.48 L185.13,407.19 L186.72,406.94 L188.31,406.74 L189.91,406.57 L191.51,406.46 L193.11,406.38 L194.71,406.35 L196.31,406.36 L197.91,406.42 L199.51,406.52 L201.11,406.66 L202.69,406.85 L204.28,407.07" stroke="#f4f3ef" stroke-width="0.40" fill="none" opacity="0.45"/><path d="M244.79,502.04 L243.85,503.31 L242.87,504.56 L241.86,505.79 L240.82,506.99 L239.75,508.16 L238.65,509.30 L237.52,510.41 L236.36,511.49 L235.17,512.54 L233.95,513.56 L232.71,514.55 L231.44,515.50 L230.14,516.42 L228.83,517.30 L227.49,518.15 L226.12,518.97 L224.74,519.74 L223.34,520.48 L221.92,521.19 L220.47,521.85 L219.02,522.48" stroke="#f4f3ef" stroke-width="0.40" fill="none" opacity="0.45"/><path d="M217.45,522.83 L215.97,523.37 L214.47,523.88 L212.96,524.35 L211.44,524.78 L209.91,525.17 L208.37,525.51 L206.82,525.82 L205.26,526.09 L203.70,526.31 L202.13,526.49 L200.56,526.64 L198.98,526.74 L197.40,526.79 L195.82,526.81 L194.24,526.78 L192.66,526.72 L191.08,526.61 L189.51,526.46 L187.94,526.27 L186.38,526.03 L184.82,525.76 L183.28,525.44 L181.74,525.09 L180.21,524.69 L178.69,524.25" stroke="#f4f3ef" stroke-width="0.40" fill="none" opacity="0.45"/><path d="M254.90,460.08 L255.06,461.64 L255.18,463.20 L255.26,464.77 L255.30,466.33 L255.29,467.90 L255.25,469.46 L255.16,471.03 L255.03,472.59 L254.86,474.15 L254.65,475.70 L254.40,477.25 L254.11,478.78 L253.78,480.32 L253.41,481.84 L252.99,483.35 L252.54,484.85 L252.05,486.33 L251.52,487.81 L250.95,489.27 L250.34,490.71 L249.70,492.14 L249.01,493.55 L248.29,494.94 L247.54,496.31 L246.75,497.66 L245.92,498.99 L245.06,500.30 L244.16,501.58 L243.23,502.84 L242.27,504.08 L241.27,505.29 L240.24,506.47 L239.19,507.62 L238.10,508.75" stroke="#f4f3ef" stroke-width="0.40" fill="none" opacity="0.45"/><path d="M165.67,518.60 L164.32,517.78 L162.99,516.93 L161.68,516.04 L160.40,515.11 L159.14,514.16 L157.91,513.17 L156.70,512.14 L155.52,511.09 L154.37,510.01 L153.25,508.89 L152.16,507.75 L151.10,506.58 L150.07,505.38 L149.07,504.15 L148.10,502.90 L147.17,501.62 L146.27,500.32 L145.41,498.99 L144.58,497.65" stroke="#ee6a42" stroke-width="0.50" fill="none" opacity="0.60"/><path d="M250.97,446.64 L251.44,448.12 L251.86,449.61 L252.24,451.10 L252.34,452.67 L252.69,454.17 L253.01,455.67 L253.29,457.18 L253.52,458.70 L253.72,460.22 L253.88,461.75 L253.99,463.28 L254.07,464.81 L254.10,466.35 L254.10,467.88 L254.05,469.41 L253.97,470.95 L253.84,472.48 L253.67,474.00 L253.47,475.52 L253.22,477.04 L252.93,478.55 L252.61,480.05 L252.24,481.54 L251.84,483.02 L251.39,484.49 L250.91,485.94 L250.39,487.39 L249.83,488.81 L249.24,490.23 L248.61,491.63 L247.94,493.01 L247.23,494.37 L246.49,495.71 L245.71,497.04 L244.90,498.34 L244.06,499.62 L243.18,500.88 L242.27,502.11" stroke="#ee6a42" stroke-width="0.50" fill="none" opacity="0.60"/><path d="M165.71,417.55 L167.02,416.77 L168.36,416.01 L169.71,415.30 L171.09,414.62 L172.48,413.97 L173.88,413.37 L175.31,412.80 L176.74,412.27 L178.20,411.77 L179.72,411.52 L181.19,411.09 L182.66,410.69 L184.15,410.33 L185.64,409.99 L187.14,409.70 L188.65,409.43 L190.17,409.21 L191.70,409.02 L193.23,408.86 L194.76,408.75 L196.30,408.67 L197.84,408.63 L199.39,408.62 L200.94,408.66 L202.48,408.73 L204.03,408.85 L205.58,409.00 L207.12,409.19 L208.67,409.41 L210.20,409.68" stroke="#ee6a42" stroke-width="0.50" fill="none" opacity="0.60"/><circle cx="234.72" cy="514.51" r="0.43" fill="#f4f3ef" opacity="0.55"/><circle cx="135.14" cy="470.78" r="0.25" fill="#f4f3ef" opacity="0.55"/><circle cx="255.46" cy="475.82" r="0.34" fill="#f4f3ef" opacity="0.55"/><circle cx="213.45" cy="409.72" r="0.37" fill="#f4f3ef" opacity="0.55"/><circle cx="254.09" cy="470.96" r="0.25" fill="#f4f3ef" opacity="0.55"/><circle cx="218.03" cy="524.34" r="0.40" fill="#f4f3ef" opacity="0.55"/><circle cx="144.26" cy="439.22" r="0.50" fill="#f4f3ef" opacity="0.55"/><circle cx="135.76" cy="456.30" r="0.33" fill="#f4f3ef" opacity="0.55"/><circle cx="254.47" cy="482.11" r="0.38" fill="#f4f3ef" opacity="0.55"/><circle cx="142.13" cy="443.36" r="0.42" fill="#f4f3ef" opacity="0.55"/><circle cx="197.88" cy="407.42" r="0.47" fill="#f4f3ef" opacity="0.55"/><circle cx="246.23" cy="497.35" r="0.46" fill="#f4f3ef" opacity="0.55"/><circle cx="197.87" cy="407.82" r="0.33" fill="#f4f3ef" opacity="0.55"/><circle cx="245.18" cy="504.32" r="0.44" fill="#f4f3ef" opacity="0.55"/><circle cx="147.81" cy="503.11" r="0.28" fill="#f4f3ef" opacity="0.55"/><circle cx="220.56" cy="522.04" r="0.47" fill="#f4f3ef" opacity="0.55"/><circle cx="214.22" cy="523.12" r="0.47" fill="#f4f3ef" opacity="0.55"/><circle cx="222.22" cy="521.82" r="0.39" fill="#f4f3ef" opacity="0.55"/><circle cx="152.20" cy="427.76" r="0.39" fill="#f4f3ef" opacity="0.55"/><circle cx="138.25" cy="446.94" r="0.39" fill="#f4f3ef" opacity="0.55"/><circle cx="254.15" cy="450.57" r="0.50" fill="#f4f3ef" opacity="0.55"/><circle cx="177.52" cy="409.66" r="0.45" fill="#f4f3ef" opacity="0.55"/><circle cx="171.17" cy="411.03" r="0.34" fill="#f4f3ef" opacity="0.55"/><circle cx="141.32" cy="492.20" r="0.26" fill="#f4f3ef" opacity="0.55"/><circle cx="191.48" cy="406.13" r="0.41" fill="#f4f3ef" opacity="0.55"/><circle cx="204.30" cy="406.89" r="0.36" fill="#f4f3ef" opacity="0.55"/><circle cx="254.85" cy="450.37" r="0.38" fill="#f4f3ef" opacity="0.55"/><circle cx="145.36" cy="434.39" r="0.28" fill="#f4f3ef" opacity="0.55"/><circle cx="205.90" cy="407.05" r="0.27" fill="#f4f3ef" opacity="0.55"/><circle cx="156.73" cy="512.11" r="0.29" fill="#f4f3ef" opacity="0.55"/><circle cx="219.79" cy="520.31" r="0.40" fill="#f4f3ef" opacity="0.55"/><circle cx="144.10" cy="437.34" r="0.39" fill="#f4f3ef" opacity="0.55"/><circle cx="247.08" cy="434.54" r="0.36" fill="#f4f3ef" opacity="0.55"/><circle cx="213.41" cy="409.87" r="0.28" fill="#f4f3ef" opacity="0.55"/><circle cx="255.04" cy="451.99" r="0.26" fill="#f4f3ef" opacity="0.55"/><path d="M208.36,408.14 A60.14,60.14 0 0 1 243.46,430.06" stroke="#ee6a42" stroke-width="0.68" fill="none" opacity="0.46"/><path d="M213.76,410.91 A58.84,58.84 0 0 1 241.40,429.57" stroke="#ee6a42" stroke-width="0.95" fill="none" opacity="0.45"/><path d="M205.56,408.95 A58.84,58.84 0 0 1 236.28,424.11" stroke="#ee6a42" stroke-width="0.85" fill="none" opacity="0.67"/>
<path d="M385.02,428.80 L385.96,430.06 L386.77,431.41 L387.57,432.76 L388.38,434.10 L389.13,435.46 L390.18,436.65 L390.87,438.05 L391.67,439.39 L392.22,440.86 L392.58,442.40 L393.16,443.83 L393.87,445.21 L394.14,446.76 L394.52,448.26 L394.96,449.73 L395.50,451.17 L395.65,452.72 L396.07,454.20 L396.08,455.76 L396.67,457.20 L396.83,458.72 L396.79,460.27 L397.11,461.77 L397.21,463.30 L397.28,464.82 L397.48,466.35 L397.37,467.88 L397.07,469.39 L397.17,470.93 L397.11,472.45 L396.77,473.95 L396.85,475.51 L396.61,477.02 L396.39,478.54 L396.01,480.02 L395.44,481.46 L395.10,482.95 L394.74,484.44 L394.08,485.83 L393.54,487.25 L392.87,488.63 L392.48,490.11 L391.96,491.56 L391.23,492.91 L390.40,494.20 L389.56,495.47 L388.99,496.90 L388.13,498.17 L387.51,499.59 L386.43,500.70 L385.51,501.92 L384.64,503.18 L383.61,504.30 L382.63,505.48 L381.59,506.60 L380.49,507.66 L379.49,508.81 L378.35,509.84 L377.20,510.84 L376.14,511.95 L374.93,512.90 L373.71,513.82 L372.23,514.37 L371.00,515.28 L369.69,516.04 L368.52,517.05 L367.18,517.80 L365.85,518.56 L364.37,519.01 L363.06,519.80 L361.65,520.40 L360.23,520.95 L358.74,521.31 L357.40,522.13 L355.86,522.30 L354.42,522.82 L352.98,523.37 L351.49,523.73 L349.97,523.94 L348.48,524.27 L346.95,524.39 L345.41,524.41 L343.89,524.46 L342.39,524.88 L340.85,524.75 L339.33,524.78 L337.80,524.68 L336.28,524.61 L334.74,524.74 L333.22,524.54 L331.71,524.34 L330.21,524.02 L328.73,523.64 L327.13,523.80 L325.66,523.35 L324.17,523.01 L322.79,522.27 L321.23,522.14 L319.76,521.69 L318.40,520.95 L317.01,520.31 L315.59,519.72 L314.22,519.04 L312.79,518.49 L311.37,517.89 L310.13,516.97 L308.82,516.18 L307.47,515.44 L306.15,514.66 L304.92,513.73 L303.85,512.60 L302.66,511.65 L301.51,510.64 L300.22,509.78 L299.15,508.69 L297.96,507.71 L297.06,506.44 L295.80,505.51 L294.99,504.18 L293.91,503.08 L293.05,501.82 L292.23,500.51 L291.34,499.27 L290.46,498.01 L289.78,496.63 L288.76,495.46 L287.95,494.14 L287.43,492.68 L286.79,491.29 L286.34,489.82 L285.69,488.43 L284.97,487.06 L284.47,485.61 L283.82,484.21 L283.76,482.63 L283.07,481.22 L282.72,479.72 L282.61,478.18 L282.18,476.70 L281.78,475.21 L281.63,473.67 L281.46,472.14 L281.43,470.60 L281.35,469.07 L281.37,467.53 L281.34,465.99 L281.29,464.45 L281.46,462.92 L281.42,461.38 L281.57,459.84 L281.78,458.31 L282.41,456.86 L282.42,455.30 L282.93,453.83 L282.96,452.26 L283.37,450.77 L284.15,449.40 L284.37,447.85 L285.16,446.50 L285.59,445.02 L285.97,443.51 L286.81,442.20 L287.45,440.80 L288.21,439.45 L288.88,438.07 L289.71,436.77 L290.71,435.59 L291.47,434.25 L292.26,432.92 L292.99,431.55 L294.00,430.37 L295.09,429.28 L296.06,428.08 L297.05,426.90 L298.33,425.99 L299.22,424.71 L300.39,423.70 L301.65,422.80 L302.85,421.83 L304.10,420.94 L305.17,419.81 L306.39,418.86 L307.70,418.04 L309.03,417.26 L310.23,416.25 L311.69,415.69 L312.97,414.82 L314.54,414.51 L315.79,413.55 L317.32,413.22 L318.65,412.38 L320.16,412.02 L321.64,411.60 L323.11,411.15 L324.57,410.67 L326.11,410.48 L327.59,410.05 L329.05,409.52 L330.59,409.39 L332.12,409.20 L333.66,409.09 L335.17,408.73 L336.70,408.39 L338.26,408.47 L339.80,408.60 L341.36,408.12 L342.91,408.34 L344.45,408.54 L345.99,408.67 L347.58,408.50 L349.12,408.77 L350.65,409.03 L352.23,409.12 L353.80,409.29 L355.25,409.96 L356.75,410.40 L358.30,410.68 L359.77,411.24 L361.27,411.69 L362.74,412.26 L363.09,411.41 L361.57,410.93 L360.13,410.24 L358.64,409.67 L357.19,408.95 L355.64,408.53 L354.12,407.99 L352.53,407.75 L350.98,407.34 L349.43,406.89 L347.85,406.52 L346.26,406.22 L344.66,405.96 L343.04,405.99 L341.44,405.49 L339.82,405.54 L338.19,405.54 L336.57,405.69 L334.93,405.45 L333.31,405.62 L331.70,405.91 L330.07,406.02 L328.51,406.51 L326.90,406.75 L325.29,407.01 L323.68,407.28 L322.16,407.90 L320.64,408.50 L318.99,408.71 L317.44,409.22 L316.09,410.22 L314.60,410.87 L312.96,411.20 L311.47,411.87 L310.01,412.60 L308.75,413.69 L307.33,414.48 L305.90,415.26 L304.46,416.05 L303.18,417.07 L301.93,418.12 L300.56,419.02 L299.29,420.05 L298.11,421.17 L296.97,422.34 L295.85,423.53 L294.58,424.56 L293.64,425.91 L292.43,427.02 L291.38,428.27 L290.35,429.54 L289.54,430.96 L288.42,432.17 L287.46,433.49 L286.57,434.86 L285.75,436.28 L285.04,437.75 L284.28,439.20 L283.58,440.68 L283.09,442.24 L282.45,443.74 L281.66,445.18 L281.14,446.73 L280.50,448.24 L280.27,449.87 L279.58,451.38 L279.23,452.98 L279.20,454.64 L278.42,456.15 L278.61,457.84 L278.29,459.43 L277.90,461.03 L277.70,462.66 L277.50,464.29 L277.79,465.93 L277.85,467.56 L277.55,469.20 L277.67,470.84 L277.83,472.46 L278.09,474.08 L278.13,475.72 L278.48,477.33 L279.02,478.89 L279.16,480.52 L279.47,482.13 L279.81,483.73 L280.28,485.30 L280.90,486.82 L281.27,488.43 L281.77,489.99 L282.62,491.41 L283.35,492.87 L284.09,494.33 L284.86,495.77 L285.35,497.37 L286.16,498.79 L287.05,500.17 L288.05,501.47 L288.75,502.98 L290.05,504.06 L290.80,505.55 L292.05,506.64 L293.15,507.85 L294.24,509.07 L295.37,510.25 L296.37,511.55 L297.40,512.86 L298.62,513.96 L300.00,514.87 L301.39,515.76 L302.60,516.86 L304.01,517.72 L305.26,518.78 L306.58,519.77 L308.14,520.36 L309.38,521.49 L310.93,522.07 L312.44,522.71 L313.79,523.71 L315.30,524.35 L316.80,525.02 L318.45,525.30 L320.05,525.70 L321.60,526.20 L323.11,526.88 L324.75,527.07 L326.26,527.83 L327.94,527.77 L329.55,528.09 L331.10,528.76 L332.76,528.77 L334.39,528.94 L336.03,528.99 L337.68,528.98 L339.31,529.00 L340.95,529.08 L342.59,528.93 L344.23,528.97 L345.85,528.68 L347.52,528.77 L349.13,528.45 L350.75,528.17 L352.35,527.77 L353.92,527.28 L355.55,527.04 L357.06,526.38 L358.70,526.14 L360.27,525.64 L361.76,524.94 L363.38,524.55 L364.82,523.76 L366.24,522.91 L367.78,522.33 L369.17,521.44 L370.71,520.85 L372.20,520.12 L373.34,518.86 L374.72,517.98 L376.19,517.21 L377.56,516.30 L378.90,515.35 L380.00,514.09 L381.16,512.93 L382.64,512.11 L383.72,510.86 L384.64,509.46 L385.96,508.45 L387.03,507.20 L388.12,505.96 L389.14,504.68 L390.10,503.33 L390.75,501.79 L391.80,500.52 L392.93,499.28 L393.76,497.86 L394.20,496.23 L395.20,494.89 L395.75,493.34 L396.61,491.92 L397.18,490.37 L397.76,488.84 L398.14,487.23 L398.77,485.71 L399.32,484.16 L399.75,482.57 L400.15,480.98 L400.44,479.36 L400.58,477.71 L400.88,476.10 L401.00,474.47 L401.22,472.84 L401.52,471.22 L401.50,469.58 L401.84,467.94 L401.46,466.30 L401.63,464.66 L401.61,463.01 L401.44,461.38 L401.24,459.75 L400.97,458.13 L400.51,456.54 L400.55,454.87 L400.17,453.27 L399.74,451.68 L398.85,450.22 L398.47,448.64 L397.89,447.11 L397.39,445.56 L396.78,444.05 L395.79,442.70 L395.01,441.28 L394.22,439.86 L393.65,438.34 L392.59,437.08 L391.94,435.59 L390.99,434.28 L389.94,433.04 L389.09,431.68 L387.90,430.57 L386.85,429.36 L385.73,428.22Z" fill="#ee6a42"/><path d="M391.67,494.87 L390.92,496.24 L390.13,497.59 L389.30,498.92 L388.44,500.22 L387.55,501.50 L386.62,502.76 L385.66,503.99 L384.66,505.20 L383.64,506.38 L382.58,507.53 L381.50,508.65 L380.38,509.75 L379.24,510.81 L378.07,511.85 L376.87,512.85 L375.65,513.82 L374.40,514.76 L373.13,515.67 L371.83,516.54 L370.51,517.38" stroke="#f4f3ef" stroke-width="0.40" fill="none" opacity="0.45"/><path d="M396.62,486.70 L396.08,488.20 L395.50,489.69 L394.88,491.16 L394.22,492.62 L393.52,494.05 L392.79,495.47 L392.02,496.87 L391.21,498.25 L390.37,499.60 L389.49,500.93 L388.58,502.24 L387.63,503.53 L386.65,504.78 L385.63,506.02 L384.59,507.22 L383.51,508.40 L382.40,509.55 L381.26,510.66 L380.09,511.75 L378.90,512.81 L377.67,513.83 L376.42,514.83 L375.14,515.78 L373.84,516.71 L372.52,517.60 L371.17,518.45 L369.80,519.27" stroke="#f4f3ef" stroke-width="0.40" fill="none" opacity="0.45"/><path d="M323.51,525.43 L321.97,524.99 L320.44,524.50 L318.93,523.98 L317.43,523.41 L315.95,522.81 L314.49,522.17 L313.04,521.49 L311.61,520.77 L310.20,520.01 L308.81,519.22 L307.44,518.39 L306.10,517.52 L304.77,516.62 L303.48,515.68 L302.20,514.71 L300.96,513.71 L299.74,512.68 L298.55,511.61 L297.38,510.51 L296.25,509.38 L295.15,508.22 L294.07,507.04 L293.03,505.82 L292.02,504.58 L291.05,503.31" stroke="#f4f3ef" stroke-width="0.40" fill="none" opacity="0.45"/><path d="M329.66,527.40 L328.07,527.12 L326.48,526.79 L324.91,526.43 L323.34,526.02 L321.79,525.57 L320.25,525.08 L318.72,524.55 L317.21,523.98 L315.72,523.37 L314.24,522.72 L312.77,522.03 L311.33,521.30 L309.91,520.53 L308.51,519.73 L307.13,518.89 L305.77,518.02 L304.43,517.11 L303.12,516.16 L301.84,515.18 L300.58,514.17 L299.35,513.12 L298.15,512.04 L296.97,510.93 L295.83,509.79 L294.72,508.62" stroke="#f4f3ef" stroke-width="0.40" fill="none" opacity="0.45"/><path d="M314.14,522.93 L312.67,522.24 L311.22,521.51 L309.80,520.74 L308.39,519.93 L307.00,519.09 L305.64,518.21 L304.30,517.29 L302.99,516.34 L301.70,515.36 L300.44,514.34 L299.20,513.29 L297.99,512.21 L296.82,511.09 L295.67,509.95 L294.55,508.77 L293.47,507.57 L292.42,506.34 L291.40,505.08 L290.41,503.79 L289.46,502.48 L288.54,501.14 L287.66,499.78 L286.81,498.40 L286.01,497.00 L285.24,495.57 L284.50,494.13 L283.81,492.66 L283.15,491.18 L282.54,489.68 L281.96,488.17 L281.43,486.64 L280.93,485.10 L280.48,483.54 L280.06,481.98 L279.69,480.40 L279.36,478.82 L279.08,477.22 L278.83,475.62 L278.63,474.02" stroke="#f4f3ef" stroke-width="0.40" fill="none" opacity="0.45"/><path d="M336.62,406.70 L338.22,406.66 L339.81,406.66 L341.40,406.71 L343.00,406.79 L344.58,406.92 L346.17,407.09 L347.74,407.30 L349.32,407.56 L350.88,407.86 L352.43,408.20 L353.98,408.58 L355.51,409.00 L357.03,409.46 L358.54,409.96 L360.03,410.50 L361.51,411.08 L362.97,411.70" stroke="#f4f3ef" stroke-width="0.40" fill="none" opacity="0.45"/><path d="M305.39,417.40 L306.71,416.51 L308.05,415.67 L309.42,414.85 L310.81,414.08 L312.22,413.34 L313.64,412.64 L315.09,411.97 L316.55,411.35 L318.03,410.76 L319.52,410.21 L321.03,409.71 L322.54,409.22 L324.08,408.79 L325.62,408.41 L327.17,408.07 L328.74,407.76 L330.30,407.51 L331.88,407.29 L333.46,407.11 L335.04,406.98 L336.63,406.89 L338.22,406.84 L339.81,406.83" stroke="#f4f3ef" stroke-width="0.40" fill="none" opacity="0.45"/><path d="M385.73,504.05 L384.74,505.26 L383.71,506.44 L382.65,507.60 L381.57,508.72 L380.45,509.82 L379.31,510.88 L378.13,511.92 L376.93,512.93 L375.71,513.90 L374.45,514.84 L373.18,515.75 L371.88,516.62 L370.56,517.46 L369.21,518.26 L367.85,519.03 L366.47,519.76 L365.06,520.45 L363.64,521.11 L362.21,521.73 L360.75,522.31 L359.28,522.85" stroke="#f4f3ef" stroke-width="0.40" fill="none" opacity="0.45"/><path d="M355.34,409.64 L356.86,410.02 L358.38,410.45 L359.88,410.91 L361.38,411.42 L362.86,411.96" stroke="#f4f3ef" stroke-width="0.40" fill="none" opacity="0.45"/><path d="M296.99,510.91 L295.85,509.77 L294.74,508.60 L293.66,507.40 L292.61,506.18 L291.59,504.92 L290.61,503.64 L289.66,502.34 L288.75,501.01 L287.87,499.65 L287.03,498.28 L286.22,496.88 L285.45,495.46 L284.72,494.02 L284.03,492.56 L283.38,491.09 L282.76,489.59 L282.19,488.09 L281.66,486.56 L281.16,485.03 L280.71,483.48 L280.30,481.92 L279.93,480.35 L279.60,478.77 L279.31,477.19 L279.07,475.59 L278.86,473.99 L278.70,472.39 L278.58,470.78 L278.51,469.17 L278.48,467.56 L278.48,465.94" stroke="#f4f3ef" stroke-width="0.40" fill="none" opacity="0.45"/><path d="M294.39,508.92 L293.30,507.71 L292.25,506.48 L291.22,505.21 L290.23,503.92 L289.28,502.61 L288.36,501.26 L287.48,499.90 L286.63,498.51 L285.82,497.10 L285.05,495.67 L284.31,494.22 L283.62,492.75 L282.96,491.27 L282.34,489.76 L281.76,488.24 L281.23,486.71 L280.73,485.16 L280.28,483.60 L279.86,482.03 L279.49,480.45" stroke="#f4f3ef" stroke-width="0.40" fill="none" opacity="0.45"/><path d="M279.19,467.55 L279.20,465.96 L279.25,464.36 L279.34,462.77 L279.47,461.19 L279.65,459.60 L279.87,458.02 L280.13,456.45 L280.43,454.89 L280.77,453.33 L281.15,451.79 L281.57,450.25 L282.04,448.73 L282.54,447.22 L283.08,445.72 L283.67,444.24 L284.29,442.77 L284.95,441.32 L285.65,439.89 L286.38,438.47 L287.15,437.08 L287.96,435.71 L288.81,434.36 L289.69,433.03 L290.60,431.73 L291.55,430.45 L292.54,429.20 L293.55,427.97 L294.60,426.77" stroke="#f4f3ef" stroke-width="0.40" fill="none" opacity="0.45"/><path d="M330.12,524.58 L328.60,524.32 L327.09,524.01 L325.59,523.67 L324.09,523.28 L322.61,522.86 L321.14,522.40 L319.68,521.90 L318.24,521.36 L316.81,520.78 L315.39,520.16 L314.00,519.51 L312.62,518.82 L311.26,518.10 L309.91,517.34 L308.59,516.54 L307.29,515.71 L306.02,514.85 L304.76,513.95" stroke="#f4f3ef" stroke-width="0.40" fill="none" opacity="0.45"/><path d="M288.79,497.22 L288.01,495.87 L287.26,494.51 L286.55,493.12 L285.88,491.71 L285.24,490.29 L284.64,488.85 L284.08,487.39 L283.56,485.92 L283.08,484.44 L282.63,482.94 L282.23,481.43 L281.87,479.92 L281.54,478.39 L281.26,476.86 L281.02,475.31 L280.81,473.77 L280.65,472.21 L280.53,470.66 L280.45,469.10 L280.42,467.54" stroke="#f4f3ef" stroke-width="0.40" fill="none" opacity="0.45"/><path d="M387.12,431.15 L388.00,432.45 L388.86,433.78 L389.68,435.12 L390.46,436.48 L391.21,437.86 L391.93,439.25 L392.60,440.67 L393.24,442.10 L393.84,443.54 L394.41,445.00 L394.93,446.47 L395.42,447.95 L395.87,449.45 L396.27,450.95 L396.48,452.51 L396.84,454.02 L397.16,455.54 L397.45,457.07 L397.69,458.60 L397.89,460.14 L398.04,461.69 L398.16,463.23 L398.24,464.79 L398.28,466.34 L398.27,467.89 L398.23,469.44 L398.14,470.99 L398.01,472.54 L397.85,474.08 L397.64,475.62 L397.39,477.16 L397.10,478.68 L396.77,480.20" stroke="#ee6a42" stroke-width="0.50" fill="none" opacity="0.60"/><path d="M397.32,445.59 L397.93,447.10 L398.50,448.63 L399.03,450.17 L399.83,451.66 L400.21,453.26 L400.56,454.86 L400.86,456.48 L401.12,458.11 L401.34,459.74 L401.51,461.37 L401.64,463.01 L401.73,464.65 L401.77,466.30 L401.77,467.94 L401.72,469.59 L401.64,471.23 L401.50,472.87 L401.33,474.51 L401.11,476.14 L400.85,477.76 L400.55,479.38 L400.20,480.99 L399.81,482.59 L399.38,484.18 L398.91,485.75 L398.39,487.31 L397.83,488.86 L397.24,490.40 L396.60,491.91 L395.92,493.41 L395.21,494.90 L394.45,496.36 L393.66,497.80 L392.82,499.22 L391.96,500.62 L391.05,501.99 L390.11,503.34 L389.13,504.66" stroke="#ee6a42" stroke-width="0.50" fill="none" opacity="0.60"/><path d="M290.87,429.93 L291.87,428.66 L292.90,427.42 L293.97,426.20 L295.06,425.02 L296.19,423.86 L297.34,422.73 L298.53,421.64 L299.74,420.57 L300.99,419.54 L302.26,418.54 L303.55,417.58 L304.87,416.65 L306.21,415.75 L307.58,414.89 L308.97,414.07 L310.38,413.28 L311.81,412.54 L313.26,411.83 L314.73,411.15 L316.21,410.52 L317.71,409.93 L319.23,409.37 L320.76,408.86 L322.27,408.28 L323.83,407.85 L325.40,407.47 L326.98,407.14 L328.57,406.85" stroke="#ee6a42" stroke-width="0.50" fill="none" opacity="0.60"/><circle cx="281.27" cy="448.48" r="0.39" fill="#f4f3ef" opacity="0.55"/><circle cx="318.05" cy="410.81" r="0.32" fill="#f4f3ef" opacity="0.55"/><circle cx="350.11" cy="524.67" r="0.33" fill="#f4f3ef" opacity="0.55"/><circle cx="345.75" cy="527.67" r="0.38" fill="#f4f3ef" opacity="0.55"/><circle cx="293.14" cy="429.68" r="0.48" fill="#f4f3ef" opacity="0.55"/><circle cx="347.75" cy="407.24" r="0.43" fill="#f4f3ef" opacity="0.55"/><circle cx="288.15" cy="495.79" r="0.43" fill="#f4f3ef" opacity="0.55"/><circle cx="357.12" cy="409.16" r="0.26" fill="#f4f3ef" opacity="0.55"/><circle cx="392.85" cy="495.50" r="0.31" fill="#f4f3ef" opacity="0.55"/><circle cx="307.33" cy="518.57" r="0.28" fill="#f4f3ef" opacity="0.55"/><circle cx="390.69" cy="436.34" r="0.44" fill="#f4f3ef" opacity="0.55"/><circle cx="395.05" cy="487.82" r="0.48" fill="#f4f3ef" opacity="0.55"/><circle cx="287.54" cy="499.86" r="0.29" fill="#f4f3ef" opacity="0.55"/><circle cx="286.93" cy="498.33" r="0.36" fill="#f4f3ef" opacity="0.55"/><circle cx="283.78" cy="489.19" r="0.38" fill="#f4f3ef" opacity="0.55"/><circle cx="325.00" cy="526.07" r="0.42" fill="#f4f3ef" opacity="0.55"/><circle cx="392.74" cy="438.82" r="0.46" fill="#f4f3ef" opacity="0.55"/><circle cx="398.89" cy="467.90" r="0.38" fill="#f4f3ef" opacity="0.55"/><circle cx="395.44" cy="486.30" r="0.36" fill="#f4f3ef" opacity="0.55"/><circle cx="356.84" cy="410.08" r="0.50" fill="#f4f3ef" opacity="0.55"/><circle cx="279.12" cy="477.22" r="0.32" fill="#f4f3ef" opacity="0.55"/><circle cx="397.26" cy="483.57" r="0.29" fill="#f4f3ef" opacity="0.55"/><circle cx="286.52" cy="438.55" r="0.50" fill="#f4f3ef" opacity="0.55"/><circle cx="279.81" cy="482.04" r="0.32" fill="#f4f3ef" opacity="0.55"/><circle cx="398.30" cy="469.45" r="0.35" fill="#f4f3ef" opacity="0.55"/><circle cx="345.73" cy="527.50" r="0.45" fill="#f4f3ef" opacity="0.55"/><circle cx="283.48" cy="485.95" r="0.33" fill="#f4f3ef" opacity="0.55"/><circle cx="292.09" cy="506.61" r="0.27" fill="#f4f3ef" opacity="0.55"/><circle cx="393.49" cy="440.23" r="0.45" fill="#f4f3ef" opacity="0.55"/><circle cx="353.42" cy="525.19" r="0.49" fill="#f4f3ef" opacity="0.55"/><circle cx="281.63" cy="478.37" r="0.47" fill="#f4f3ef" opacity="0.55"/><circle cx="279.35" cy="464.37" r="0.40" fill="#f4f3ef" opacity="0.55"/><circle cx="311.19" cy="521.58" r="0.48" fill="#f4f3ef" opacity="0.55"/><circle cx="298.16" cy="509.71" r="0.30" fill="#f4f3ef" opacity="0.55"/><circle cx="287.93" cy="497.74" r="0.31" fill="#f4f3ef" opacity="0.55"/><path d="M347.37,406.70 A60.81,60.81 0 0 1 385.83,427.62" stroke="#ee6a42" stroke-width="0.85" fill="none" opacity="0.69"/><path d="M346.38,406.26 A61.13,61.13 0 0 1 382.19,423.25" stroke="#ee6a42" stroke-width="0.81" fill="none" opacity="0.55"/><path d="M352.40,407.80 A60.59,60.59 0 0 1 385.79,427.90" stroke="#ee6a42" stroke-width="0.78" fill="none" opacity="0.61"/>
<path d="M529.24,428.61 L529.92,430.09 L531.04,431.21 L531.74,432.64 L532.73,433.86 L533.20,435.42 L534.27,436.60 L534.87,438.05 L535.46,439.50 L535.95,440.99 L536.76,442.32 L537.29,443.78 L537.64,445.31 L538.43,446.66 L538.75,448.18 L539.25,449.64 L539.75,451.10 L539.48,452.76 L539.73,454.27 L540.44,455.68 L540.30,457.26 L540.62,458.76 L541.07,460.24 L541.03,461.78 L541.39,463.28 L541.54,464.81 L541.51,466.35 L541.10,467.87 L541.26,469.40 L541.27,470.93 L540.99,472.44 L541.04,473.99 L540.53,475.46 L540.32,476.97 L540.19,478.50 L539.64,479.94 L539.33,481.43 L539.15,482.96 L538.68,484.42 L538.19,485.86 L537.76,487.34 L536.95,488.66 L536.38,490.07 L535.71,491.44 L535.22,492.90 L534.54,494.27 L533.55,495.47 L533.01,496.92 L532.21,498.21 L531.19,499.37 L530.55,500.78 L529.39,501.82 L528.45,503.02 L527.76,504.43 L526.57,505.42 L525.49,506.50 L524.41,507.57 L523.61,508.94 L522.20,509.67 L521.06,510.68 L519.92,511.69 L518.70,512.59 L517.62,513.70 L516.33,514.52 L515.12,515.46 L513.77,516.18 L512.49,517.01 L511.17,517.79 L509.92,518.68 L508.44,519.15 L507.11,519.93 L505.57,520.20 L504.30,521.14 L502.83,521.58 L501.30,521.81 L499.93,522.53 L498.42,522.83 L496.98,523.36 L495.52,523.85 L494.00,524.08 L492.43,523.95 L490.92,524.16 L489.43,524.55 L487.91,524.70 L486.37,524.55 L484.86,524.92 L483.33,524.84 L481.79,524.95 L480.26,524.94 L478.76,524.49 L477.20,524.77 L475.73,524.14 L474.16,524.34 L472.69,523.82 L471.18,523.60 L469.71,523.17 L468.19,522.93 L466.68,522.62 L465.23,522.11 L463.89,521.31 L462.41,520.91 L460.96,520.42 L459.60,519.71 L458.10,519.29 L456.81,518.45 L455.40,517.83 L454.06,517.09 L452.90,516.05 L451.65,515.17 L450.26,514.50 L448.89,513.77 L447.66,512.85 L446.58,511.75 L445.31,510.87 L444.23,509.77 L443.13,508.71 L442.10,507.56 L441.11,506.40 L440.13,505.22 L439.01,504.17 L437.97,503.04 L436.88,501.94 L436.13,500.58 L435.47,499.18 L434.31,498.11 L433.63,496.72 L432.76,495.45 L432.16,494.03 L431.29,492.75 L430.78,491.29 L430.04,489.94 L429.76,488.40 L429.07,487.03 L428.48,485.61 L428.21,484.09 L427.55,482.68 L427.05,481.23 L426.87,479.69 L426.37,478.23 L426.19,476.70 L425.91,475.19 L425.59,473.68 L425.76,472.12 L425.22,470.62 L425.30,469.07 L425.33,467.53 L425.60,466.00 L425.60,464.47 L425.28,462.91 L425.41,461.37 L425.91,459.88 L425.86,458.32 L426.19,456.82 L426.26,455.27 L426.63,453.77 L427.16,452.31 L427.57,450.83 L428.17,449.40 L428.48,447.89 L429.03,446.45 L429.37,444.93 L430.04,443.54 L430.80,442.19 L431.33,440.73 L432.18,439.44 L432.85,438.05 L433.65,436.73 L434.53,435.47 L435.49,434.26 L436.29,432.94 L437.23,431.72 L438.00,430.38 L439.06,429.25 L440.24,428.24 L440.95,426.80 L442.22,425.89 L443.32,424.81 L444.30,423.60 L445.69,422.85 L446.79,421.76 L447.82,420.58 L449.05,419.64 L450.45,418.94 L451.63,417.93 L453.03,417.26 L454.30,416.38 L455.69,415.71 L457.01,414.90 L458.39,414.20 L459.86,413.70 L461.17,412.84 L462.68,412.45 L464.19,412.11 L465.55,411.33 L467.13,411.23 L468.62,410.84 L470.09,410.38 L471.53,409.79 L473.08,409.64 L474.61,409.49 L476.13,409.27 L477.66,409.12 L479.16,408.56 L480.71,408.57 L482.25,408.23 L483.80,408.47 L485.36,408.13 L486.89,408.57 L488.45,408.45 L490.03,408.28 L491.56,408.67 L493.11,408.79 L494.69,408.84 L496.17,409.41 L497.79,409.35 L499.31,409.71 L500.73,410.44 L502.40,410.38 L503.81,411.12 L505.32,411.56 L506.88,411.92 L507.05,411.50 L505.55,410.99 L504.14,410.21 L502.73,409.40 L501.24,408.79 L499.61,408.62 L498.14,407.92 L496.61,407.40 L495.04,407.05 L493.45,406.72 L491.89,406.26 L490.28,406.08 L488.64,406.27 L487.05,405.81 L485.43,405.87 L483.82,405.44 L482.20,405.67 L480.57,405.54 L478.95,405.74 L477.34,405.96 L475.70,405.85 L474.05,405.85 L472.47,406.29 L470.82,406.38 L469.22,406.72 L467.67,407.26 L466.16,407.90 L464.66,408.54 L463.12,409.08 L461.57,409.55 L460.02,410.07 L458.53,410.71 L456.99,411.25 L455.46,411.85 L454.05,412.69 L452.75,413.69 L451.20,414.28 L450.00,415.43 L448.61,416.27 L447.23,417.13 L446.03,418.25 L444.77,419.28 L443.33,420.09 L442.25,421.32 L440.82,422.18 L439.69,423.36 L438.70,424.67 L437.36,425.66 L436.30,426.91 L435.29,428.19 L434.25,429.46 L433.54,430.96 L432.64,432.32 L431.62,433.60 L430.80,435.00 L429.71,436.26 L429.00,437.73 L428.21,439.16 L427.71,440.74 L427.01,442.21 L426.27,443.67 L425.83,445.24 L425.21,446.75 L424.42,448.21 L423.97,449.79 L423.94,451.47 L423.37,453.01 L422.94,454.58 L422.50,456.16 L422.61,457.84 L422.18,459.42 L421.81,461.03 L422.00,462.68 L421.80,464.30 L421.69,465.93 L421.81,467.56 L421.57,469.20 L421.71,470.83 L421.89,472.46 L421.91,474.10 L422.28,475.70 L422.45,477.33 L422.80,478.93 L423.28,480.50 L423.50,482.12 L424.02,483.67 L424.40,485.26 L424.96,486.80 L425.36,488.39 L425.84,489.96 L426.50,491.46 L427.42,492.84 L427.91,494.42 L428.91,495.74 L429.41,497.33 L430.10,498.82 L431.09,500.15 L431.97,501.53 L432.87,502.90 L433.85,504.21 L434.72,505.61 L436.07,506.63 L437.00,507.98 L438.13,509.17 L439.22,510.39 L440.31,511.62 L441.63,512.61 L442.71,513.86 L444.07,514.79 L445.28,515.90 L446.57,516.91 L447.86,517.92 L449.42,518.54 L450.65,519.66 L452.15,520.34 L453.46,521.34 L454.94,522.05 L456.48,522.63 L457.89,523.48 L459.33,524.29 L460.91,524.76 L462.41,525.43 L463.97,525.92 L465.59,526.22 L467.13,526.78 L468.66,527.43 L470.33,527.51 L471.88,528.12 L473.50,528.35 L475.10,528.78 L476.77,528.64 L478.40,528.80 L480.02,529.19 L481.67,529.12 L483.31,529.09 L484.95,529.02 L486.59,528.92 L488.23,528.89 L489.89,528.98 L491.51,528.75 L493.14,528.48 L494.78,528.35 L496.34,527.73 L497.93,527.36 L499.58,527.17 L501.15,526.66 L502.70,526.12 L504.33,525.82 L505.78,524.99 L507.41,524.64 L508.82,523.76 L510.34,523.11 L511.71,522.19 L513.23,521.56 L514.80,521.00 L516.12,519.99 L517.40,518.95 L518.80,518.09 L520.29,517.35 L521.35,516.03 L522.83,515.25 L523.92,514.01 L525.33,513.12 L526.63,512.10 L527.57,510.71 L528.96,509.77 L530.07,508.55 L531.16,507.31 L532.03,505.89 L533.10,504.64 L533.99,503.26 L535.06,502.00 L535.85,500.55 L536.56,499.06 L537.48,497.70 L538.20,496.22 L538.88,494.73 L539.79,493.35 L540.52,491.88 L541.16,490.36 L541.54,488.75 L542.08,487.21 L542.63,485.66 L543.13,484.10 L543.81,482.59 L544.31,481.01 L544.59,479.39 L544.68,477.73 L544.93,476.11 L545.34,474.51 L545.48,472.87 L545.33,471.21 L545.67,469.59 L545.76,467.94 L545.77,466.30 L545.70,464.66 L545.42,463.03 L545.17,461.40 L545.01,459.77 L545.23,458.09 L544.84,456.48 L544.46,454.88 L543.92,453.32 L543.79,451.67 L542.80,450.24 L542.60,448.60 L542.02,447.07 L541.21,445.63 L540.43,444.19 L539.72,442.73 L539.37,441.11 L538.50,439.73 L537.80,438.26 L536.93,436.89 L536.05,435.53 L534.87,434.36 L534.14,432.92 L533.17,431.62 L532.04,430.46 L530.79,429.40 L529.97,428.02Z" fill="#ee6a42"/><path d="M542.72,469.46 L542.64,471.03 L542.51,472.59 L542.34,474.14 L542.13,475.70 L541.88,477.24 L541.59,478.78 L541.26,480.31 L540.88,481.83 L540.47,483.34 L540.02,484.84 L539.53,486.33 L539.00,487.80 L538.43,489.26 L537.82,490.70 L537.18,492.13 L536.49,493.54 L535.77,494.93 L535.02,496.30 L534.23,497.65 L533.40,498.98 L532.54,500.29 L531.64,501.57 L530.71,502.83 L529.75,504.06 L528.75,505.27 L527.73,506.45 L526.67,507.61 L525.58,508.73 L524.46,509.83 L523.32,510.90 L522.14,511.94 L520.94,512.94 L519.72,513.91 L518.47,514.86 L517.19,515.76 L515.89,516.64 L514.57,517.47 L513.22,518.28 L511.86,519.05 L510.48,519.78 L509.07,520.47 L507.65,521.13" stroke="#f4f3ef" stroke-width="0.40" fill="none" opacity="0.45"/><path d="M543.58,472.69 L543.41,474.27 L543.20,475.85 L542.94,477.43 L542.65,478.99 L542.31,480.55 L541.93,482.10 L541.51,483.64 L541.05,485.17 L540.55,486.68 L540.01,488.18 L539.43,489.67 L538.82,491.14 L538.16,492.59 L537.47,494.02 L536.73,495.44 L535.96,496.84 L535.16,498.21 L534.31,499.57 L533.44,500.90 L532.52,502.20 L531.58,503.49 L530.60,504.74 L529.58,505.97 L528.54,507.18 L527.46,508.35 L526.35,509.50 L525.21,510.62 L524.05,511.70 L522.85,512.76 L521.63,513.78 L520.38,514.77 L519.11,515.73 L517.81,516.65 L516.48,517.54 L515.14,518.40 L513.77,519.21 L512.38,519.99" stroke="#f4f3ef" stroke-width="0.40" fill="none" opacity="0.45"/><path d="M542.25,455.32 L542.54,456.88 L542.79,458.44 L542.99,460.01 L543.16,461.59 L543.28,463.16 L543.36,464.74 L543.40,466.33 L543.39,467.91 L543.35,469.49 L543.26,471.07 L543.13,472.65 L542.96,474.22 L542.75,475.79 L542.50,477.35 L542.20,478.90 L541.87,480.45 L541.49,481.99 L541.08,483.52 L540.62,485.03 L540.13,486.53 L539.59,488.02 L539.01,489.50 L538.40,490.95 L537.75,492.40 L537.06,493.82 L536.33,495.23 L535.57,496.61 L534.77,497.98 L533.93,499.32 L533.06,500.64 L532.15,501.94 L531.21,503.21 L530.24,504.46 L529.24,505.68" stroke="#f4f3ef" stroke-width="0.40" fill="none" opacity="0.45"/><path d="M539.26,448.01 L539.70,449.50 L540.10,451.00 L540.26,452.56 L540.62,454.07 L540.94,455.58 L541.22,457.10 L541.46,458.63 L541.66,460.17 L541.82,461.71 L541.94,463.25 L542.02,464.79 L542.05,466.34 L542.05,467.89 L542.00,469.43 L541.92,470.98 L541.79,472.52 L541.62,474.06 L541.41,475.59 L541.17,477.12 L540.88,478.64 L540.55,480.15 L540.18,481.65 L539.77,483.14 L539.33,484.62 L538.84,486.09 L538.32,487.54 L537.75,488.98" stroke="#f4f3ef" stroke-width="0.40" fill="none" opacity="0.45"/><path d="M426.01,484.77 L425.56,483.24 L425.16,481.70 L424.79,480.16 L424.46,478.60 L424.18,477.04 L423.93,475.47 L423.73,473.89 L423.57,472.31 L423.45,470.73 L423.37,469.14 L423.34,467.55 L423.35,465.96 L423.39,464.37 L423.48,462.78 L423.62,461.20 L423.79,459.62 L424.01,458.05 L424.27,456.48 L424.57,454.92 L424.91,453.36 L425.29,451.82 L425.71,450.29 L426.17,448.77 L426.67,447.26 L427.21,445.77 L427.79,444.29 L428.41,442.82 L429.07,441.38 L429.77,439.95 L430.50,438.54 L431.27,437.15 L432.08,435.78 L432.92,434.43 L433.80,433.11 L434.71,431.81" stroke="#f4f3ef" stroke-width="0.40" fill="none" opacity="0.45"/><path d="M504.04,410.49 L505.52,411.07 L506.98,411.69" stroke="#f4f3ef" stroke-width="0.40" fill="none" opacity="0.45"/><path d="M478.48,527.83 L476.88,527.67 L475.28,527.47 L473.69,527.23 L472.10,526.95 L470.52,526.63 L468.95,526.26 L467.39,525.85 L465.84,525.41 L464.30,524.92 L462.78,524.39 L461.27,523.82 L459.78,523.21 L458.31,522.56 L456.85,521.88 L455.41,521.15 L453.99,520.39 L452.59,519.59 L451.21,518.75 L449.86,517.88 L448.53,516.97 L447.22,516.03 L445.94,515.05 L444.69,514.04 L443.46,513.00 L442.26,511.92 L441.09,510.81 L439.95,509.68 L438.84,508.51 L437.76,507.31 L436.71,506.09 L435.70,504.84 L434.72,503.56 L433.77,502.26 L432.86,500.93" stroke="#f4f3ef" stroke-width="0.40" fill="none" opacity="0.45"/><path d="M457.57,412.49 L459.02,411.82 L460.49,411.19 L461.97,410.61 L463.47,410.06 L464.98,409.55 L466.49,409.04 L468.03,408.62 L469.58,408.23 L471.14,407.89 L472.70,407.59 L474.28,407.34 L475.86,407.12 L477.44,406.95 L479.03,406.82 L480.62,406.74 L482.22,406.69 L483.81,406.69 L485.40,406.74 L486.99,406.82 L488.58,406.95 L490.16,407.12 L491.74,407.33 L493.31,407.58 L494.88,407.88 L496.43,408.21 L497.97,408.59 L499.51,409.01 L501.03,409.47 L502.54,409.97 L504.03,410.51 L505.51,411.09 L506.97,411.71" stroke="#f4f3ef" stroke-width="0.40" fill="none" opacity="0.45"/><path d="M529.11,507.69 L528.02,508.88 L526.90,510.04 L525.75,511.18 L524.57,512.28 L523.36,513.34 L522.12,514.38 L520.85,515.38 L519.56,516.35 L518.24,517.29 L516.90,518.19 L515.54,519.05 L514.15,519.88 L512.75,520.67 L511.32,521.42 L509.87,522.14 L508.40,522.81 L506.92,523.45 L505.42,524.05" stroke="#f4f3ef" stroke-width="0.40" fill="none" opacity="0.45"/><path d="M452.35,516.93 L451.04,516.09 L449.76,515.22 L448.49,514.31 L447.25,513.37 L446.04,512.40 L444.85,511.40 L443.69,510.36 L442.56,509.30 L441.45,508.20 L440.38,507.08 L439.33,505.93 L438.32,504.75 L437.33,503.55 L436.38,502.31 L435.46,501.06 L434.58,499.78 L433.72,498.48 L432.91,497.15 L432.13,495.81 L431.38,494.44 L430.67,493.06 L430.00,491.65 L429.36,490.23 L428.77,488.80 L428.21,487.34 L427.69,485.88 L427.20,484.40 L426.76,482.91 L426.36,481.40 L425.99,479.89 L425.67,478.36 L425.39,476.83 L425.14,475.30" stroke="#f4f3ef" stroke-width="0.40" fill="none" opacity="0.45"/><path d="M445.99,512.46 L444.80,511.45 L443.64,510.42 L442.50,509.35 L441.40,508.26 L440.32,507.13 L439.27,505.98 L438.26,504.80 L437.27,503.59 L436.32,502.36 L435.40,501.10 L434.51,499.82 L433.66,498.52 L432.84,497.19 L432.06,495.84 L431.32,494.48 L430.60,493.09 L429.93,491.69 L429.30,490.26 L428.70,488.82 L428.14,487.37 L427.62,485.90 L427.13,484.42 L426.69,482.92 L426.29,481.42 L425.92,479.90 L425.60,478.38 L425.32,476.85 L425.07,475.31 L424.87,473.76 L424.71,472.21 L424.59,470.65 L424.51,469.10 L424.47,467.54 L424.48,465.98 L424.52,464.42 L424.61,462.86 L424.74,461.31" stroke="#f4f3ef" stroke-width="0.40" fill="none" opacity="0.45"/><path d="M436.67,504.07 L435.70,502.82 L434.77,501.55 L433.88,500.25 L433.02,498.93 L432.19,497.58 L431.40,496.22 L430.65,494.83 L429.93,493.42 L429.25,492.00 L428.61,490.56 L428.00,489.10 L427.44,487.63 L426.91,486.14 L426.42,484.64 L425.98,483.12 L425.57,481.60 L425.20,480.06 L424.88,478.52 L424.59,476.97 L424.35,475.41 L424.15,473.84 L423.99,472.27 L423.87,470.70 L423.79,469.12" stroke="#f4f3ef" stroke-width="0.40" fill="none" opacity="0.45"/><path d="M515.12,518.38 L513.76,519.19 L512.37,519.98 L510.96,520.72 L509.53,521.43 L508.08,522.09 L506.62,522.72 L505.14,523.31 L503.64,523.87 L502.13,524.38 L500.61,524.85 L499.08,525.28 L497.53,525.67 L495.98,526.02 L494.41,526.33 L492.84,526.60 L491.26,526.82 L489.68,527.01 L488.09,527.15 L486.50,527.25 L484.91,527.31 L483.32,527.32 L481.72,527.30 L480.13,527.23 L478.54,527.12 L476.96,526.97 L475.38,526.77 L473.80,526.54 L472.23,526.26 L470.67,525.94 L469.12,525.58 L467.57,525.18 L466.04,524.74 L464.52,524.25 L463.02,523.73 L461.53,523.17 L460.05,522.57 L458.59,521.93 L457.15,521.25 L455.73,520.54 L454.32,519.79 L452.94,519.00 L451.58,518.17 L450.24,517.31 L448.92,516.41" stroke="#f4f3ef" stroke-width="0.40" fill="none" opacity="0.45"/><path d="M452.94,414.03 L454.35,413.24 L455.79,412.49 L457.24,411.78 L458.71,411.11 L460.19,410.47 L461.69,409.88 L463.21,409.33 L464.74,408.81 L466.25,408.22 L467.81,407.80 L469.39,407.42 L470.97,407.09 L472.56,406.80 L474.16,406.56 L475.76,406.36 L477.37,406.21 L478.98,406.10 L480.59,406.03 L482.20,406.02 L483.81,406.04 L485.42,406.11 L487.03,406.22 L488.63,406.38 L490.22,406.58 L491.81,406.83 L493.39,407.11" stroke="#f4f3ef" stroke-width="0.40" fill="none" opacity="0.45"/><path d="M439.76,509.86 L438.64,508.69 L437.56,507.49 L436.51,506.26 L435.49,505.00 L434.50,503.72 L433.55,502.41 L432.64,501.08 L431.76,499.72 L430.92,498.34 L430.11,496.94 L429.34,495.52 L428.61,494.08 L427.91,492.61 L427.26,491.14 L426.65,489.64 L426.07,488.13 L425.54,486.60 L425.04,485.07 L424.59,483.51 L424.18,481.95 L423.80,480.38 L423.48,478.80 L423.19,477.21 L422.94,475.61" stroke="#ee6a42" stroke-width="0.50" fill="none" opacity="0.60"/><path d="M502.30,524.90 L500.77,525.38 L499.22,525.81 L497.66,526.21 L496.09,526.56 L494.51,526.87 L492.93,527.14 L491.34,527.37 L489.74,527.55 L488.14,527.69 L486.53,527.79 L484.92,527.85 L483.32,527.87 L481.71,527.84 L480.10,527.77 L478.50,527.66 L476.90,527.50 L475.30,527.30 L473.71,527.07" stroke="#ee6a42" stroke-width="0.50" fill="none" opacity="0.60"/><path d="M531.90,501.75 L530.96,503.02 L529.99,504.26 L528.99,505.47 L527.96,506.66 L526.90,507.82 L525.80,508.96 L524.68,510.06 L523.53,511.13 L522.35,512.17 L521.14,513.18 L519.91,514.16 L518.65,515.11 L517.37,516.02 L516.06,516.90 L514.73,517.74 L513.38,518.55 L512.01,519.32 L510.62,520.05 L509.21,520.75 L507.78,521.41 L506.33,522.04 L504.87,522.62 L503.39,523.17 L501.90,523.67 L500.40,524.14 L498.89,524.57 L497.36,524.95 L495.82,525.30 L494.28,525.60" stroke="#ee6a42" stroke-width="0.50" fill="none" opacity="0.60"/><circle cx="538.56" cy="441.48" r="0.46" fill="#f4f3ef" opacity="0.55"/><circle cx="438.08" cy="426.31" r="0.46" fill="#f4f3ef" opacity="0.55"/><circle cx="441.90" cy="425.56" r="0.25" fill="#f4f3ef" opacity="0.55"/><circle cx="537.90" cy="440.02" r="0.33" fill="#f4f3ef" opacity="0.55"/><circle cx="427.98" cy="490.83" r="0.29" fill="#f4f3ef" opacity="0.55"/><circle cx="507.03" cy="411.56" r="0.26" fill="#f4f3ef" opacity="0.55"/><circle cx="483.32" cy="528.21" r="0.33" fill="#f4f3ef" opacity="0.55"/><circle cx="489.71" cy="527.26" r="0.28" fill="#f4f3ef" opacity="0.55"/><circle cx="422.54" cy="467.56" r="0.33" fill="#f4f3ef" opacity="0.55"/><circle cx="536.77" cy="493.68" r="0.33" fill="#f4f3ef" opacity="0.55"/><circle cx="499.05" cy="525.19" r="0.31" fill="#f4f3ef" opacity="0.55"/><circle cx="518.50" cy="517.66" r="0.28" fill="#f4f3ef" opacity="0.55"/><circle cx="491.11" cy="525.60" r="0.34" fill="#f4f3ef" opacity="0.55"/><circle cx="424.09" cy="462.83" r="0.31" fill="#f4f3ef" opacity="0.55"/><circle cx="539.43" cy="444.59" r="0.28" fill="#f4f3ef" opacity="0.55"/><circle cx="505.95" cy="521.12" r="0.50" fill="#f4f3ef" opacity="0.55"/><circle cx="490.13" cy="407.42" r="0.26" fill="#f4f3ef" opacity="0.55"/><circle cx="532.24" cy="432.29" r="0.26" fill="#f4f3ef" opacity="0.55"/><circle cx="528.84" cy="505.35" r="0.49" fill="#f4f3ef" opacity="0.55"/><circle cx="441.51" cy="425.18" r="0.42" fill="#f4f3ef" opacity="0.55"/><circle cx="533.41" cy="435.28" r="0.42" fill="#f4f3ef" opacity="0.55"/><circle cx="492.63" cy="525.24" r="0.38" fill="#f4f3ef" opacity="0.55"/><circle cx="431.56" cy="499.84" r="0.48" fill="#f4f3ef" opacity="0.55"/><circle cx="448.80" cy="419.29" r="0.35" fill="#f4f3ef" opacity="0.55"/><circle cx="504.07" cy="410.41" r="0.48" fill="#f4f3ef" opacity="0.55"/><circle cx="454.65" cy="413.78" r="0.26" fill="#f4f3ef" opacity="0.55"/><circle cx="458.93" cy="521.19" r="0.43" fill="#f4f3ef" opacity="0.55"/><circle cx="449.76" cy="515.21" r="0.37" fill="#f4f3ef" opacity="0.55"/><circle cx="539.40" cy="449.59" r="0.44" fill="#f4f3ef" opacity="0.55"/><circle cx="500.09" cy="523.07" r="0.35" fill="#f4f3ef" opacity="0.55"/><circle cx="424.05" cy="462.82" r="0.38" fill="#f4f3ef" opacity="0.55"/><circle cx="493.26" cy="407.90" r="0.44" fill="#f4f3ef" opacity="0.55"/><circle cx="455.77" cy="520.46" r="0.47" fill="#f4f3ef" opacity="0.55"/><circle cx="442.65" cy="424.10" r="0.27" fill="#f4f3ef" opacity="0.55"/><circle cx="512.13" cy="519.53" r="0.29" fill="#f4f3ef" opacity="0.55"/><path d="M488.53,406.45 A60.76,60.76 0 0 1 523.91,421.63" stroke="#ee6a42" stroke-width="0.95" fill="none" opacity="0.69"/><path d="M489.88,407.69 A59.65,59.65 0 0 1 528.77,428.15" stroke="#ee6a42" stroke-width="0.83" fill="none" opacity="0.52"/><path d="M489.48,407.75 A59.55,59.55 0 0 1 529.24,428.86" stroke="#ee6a42" stroke-width="0.98" fill="none" opacity="0.42"/>
<path d="M673.59,428.74 L674.61,429.94 L675.22,431.45 L676.14,432.72 L677.07,433.97 L678.00,435.23 L678.48,436.76 L679.09,438.21 L679.79,439.59 L680.65,440.89 L681.21,442.34 L681.55,443.88 L682.14,445.30 L682.69,446.75 L683.44,448.12 L683.67,449.67 L683.84,451.22 L684.21,452.70 L684.42,454.23 L684.54,455.76 L685.07,457.22 L685.49,458.70 L685.41,460.26 L685.62,461.77 L685.53,463.31 L685.94,464.82 L685.94,466.35 L685.87,467.88 L685.67,469.40 L685.68,470.93 L685.66,472.46 L685.49,473.98 L685.41,475.51 L684.94,476.99 L684.70,478.50 L684.34,479.98 L684.10,481.50 L683.53,482.93 L683.34,484.47 L682.61,485.84 L682.02,487.25 L681.42,488.65 L681.10,490.17 L680.15,491.42 L679.64,492.86 L679.07,494.28 L678.34,495.63 L677.43,496.87 L676.63,498.16 L676.05,499.61 L675.13,500.84 L673.89,501.83 L673.00,503.07 L672.20,504.38 L671.22,505.56 L670.08,506.58 L669.22,507.88 L667.80,508.61 L666.92,509.91 L665.67,510.81 L664.54,511.83 L663.37,512.82 L662.18,513.77 L660.82,514.50 L659.71,515.59 L658.19,516.04 L656.96,516.96 L655.74,517.91 L654.43,518.71 L653.05,519.39 L651.64,519.99 L650.17,520.44 L648.82,521.19 L647.24,521.31 L645.80,521.82 L644.45,522.61 L643.00,523.12 L641.44,523.19 L639.92,523.40 L638.48,523.99 L636.93,523.95 L635.42,524.15 L633.92,524.42 L632.41,524.74 L630.87,524.58 L629.36,525.10 L627.83,524.69 L626.30,524.86 L624.78,524.67 L623.25,524.59 L621.69,524.79 L620.20,524.40 L618.65,524.38 L617.16,523.98 L615.70,523.50 L614.21,523.17 L612.66,523.04 L611.22,522.48 L609.82,521.87 L608.39,521.31 L606.94,520.84 L605.48,520.37 L604.15,519.60 L602.61,519.27 L601.36,518.34 L599.89,517.85 L598.70,516.85 L597.23,516.32 L596.06,515.30 L594.88,514.33 L593.62,513.47 L592.18,512.83 L591.11,511.70 L589.91,510.76 L588.69,509.82 L587.60,508.74 L586.41,507.76 L585.33,506.65 L584.65,505.21 L583.51,504.17 L582.34,503.15 L581.56,501.80 L580.47,500.70 L579.67,499.38 L578.74,498.15 L578.08,496.75 L577.52,495.31 L576.51,494.11 L575.86,492.72 L575.33,491.27 L574.62,489.91 L574.02,488.49 L573.58,487.02 L572.98,485.61 L572.58,484.13 L571.88,482.73 L571.87,481.15 L571.48,479.67 L571.07,478.19 L570.81,476.68 L570.67,475.15 L570.32,473.65 L570.15,472.13 L570.00,470.60 L569.98,469.06 L569.70,467.53 L569.73,465.99 L569.89,464.46 L570.20,462.94 L570.27,461.41 L570.07,459.84 L570.26,458.31 L570.68,456.82 L571.22,455.36 L571.15,453.77 L571.76,452.34 L572.03,450.82 L572.48,449.34 L573.04,447.91 L573.52,446.45 L574.11,445.03 L574.79,443.65 L575.41,442.24 L575.98,440.81 L576.78,439.49 L577.37,438.06 L578.10,436.70 L579.03,435.47 L579.66,434.03 L580.66,432.85 L581.71,431.71 L582.77,430.59 L583.52,429.22 L584.60,428.12 L585.77,427.11 L586.54,425.70 L587.93,424.92 L589.02,423.84 L590.07,422.71 L591.14,421.58 L592.56,420.89 L593.83,420.02 L594.96,418.95 L596.20,418.04 L597.61,417.39 L598.95,416.63 L600.16,415.64 L601.54,414.95 L602.94,414.30 L604.42,413.85 L605.75,413.03 L607.22,412.57 L608.56,411.75 L610.06,411.34 L611.56,410.99 L613.06,410.60 L614.58,410.36 L616.09,410.03 L617.60,409.77 L619.08,409.31 L620.59,408.95 L622.16,409.08 L623.66,408.47 L625.20,408.41 L626.76,408.50 L628.30,408.21 L629.85,408.36 L631.40,408.36 L632.95,408.54 L634.50,408.60 L636.07,408.60 L637.65,408.59 L639.17,408.97 L640.73,409.11 L642.27,409.42 L643.78,409.83 L645.36,410.04 L646.80,410.67 L648.36,410.97 L649.76,411.72 L651.32,412.08 L651.51,411.61 L650.11,410.84 L648.59,410.34 L647.15,409.63 L645.63,409.12 L644.22,408.26 L642.62,408.01 L641.12,407.34 L639.53,407.08 L637.90,407.02 L636.36,406.44 L634.78,406.08 L633.17,405.91 L631.55,405.79 L629.94,405.70 L628.32,405.57 L626.70,405.66 L625.08,405.77 L623.43,405.43 L621.80,405.54 L620.18,405.75 L618.57,405.99 L616.98,406.35 L615.35,406.51 L613.72,406.73 L612.20,407.39 L610.63,407.80 L609.07,408.28 L607.55,408.86 L605.99,409.34 L604.52,410.07 L602.93,410.48 L601.50,411.27 L600.02,411.96 L598.56,412.69 L597.15,413.52 L595.88,414.56 L594.30,415.12 L593.03,416.15 L591.64,417.01 L590.40,418.08 L589.15,419.13 L587.95,420.23 L586.62,421.18 L585.33,422.20 L584.28,423.45 L583.25,424.72 L582.13,425.90 L580.87,426.97 L579.95,428.32 L578.88,429.56 L577.91,430.87 L577.02,432.23 L575.90,433.45 L575.07,434.87 L574.36,436.34 L573.73,437.86 L573.02,439.32 L572.07,440.67 L571.23,442.09 L570.82,443.69 L570.32,445.24 L569.86,446.80 L569.04,448.25 L568.65,449.84 L568.20,451.41 L567.97,453.03 L567.44,454.58 L567.15,456.19 L566.92,457.81 L566.71,459.43 L566.46,461.04 L566.18,462.66 L566.25,464.30 L565.94,465.93 L566.22,467.56 L566.05,469.20 L566.30,470.83 L566.54,472.45 L566.45,474.10 L566.74,475.71 L566.99,477.32 L567.34,478.92 L567.38,480.58 L568.04,482.11 L568.51,483.68 L569.00,485.23 L569.20,486.89 L569.94,488.36 L570.45,489.92 L571.13,491.41 L571.95,492.83 L572.33,494.46 L573.08,495.91 L573.81,497.39 L574.83,498.69 L575.84,499.99 L576.39,501.58 L577.59,502.74 L578.29,504.26 L579.27,505.57 L580.47,506.71 L581.56,507.93 L582.51,509.28 L583.58,510.53 L584.73,511.70 L585.95,512.81 L587.31,513.74 L588.40,515.00 L589.74,515.94 L590.97,517.04 L592.51,517.71 L593.88,518.61 L595.12,519.70 L596.65,520.35 L597.90,521.46 L599.35,522.22 L600.99,522.61 L602.30,523.68 L603.84,524.27 L605.33,524.95 L606.92,525.40 L608.39,526.16 L609.99,526.57 L611.64,526.78 L613.14,527.50 L614.76,527.82 L616.42,527.87 L618.03,528.21 L619.61,528.71 L621.24,528.96 L622.88,529.09 L624.54,528.88 L626.17,529.31 L627.81,529.23 L629.45,529.08 L631.10,529.09 L632.74,528.99 L634.38,528.91 L636.02,528.75 L637.65,528.59 L639.26,528.23 L640.89,527.97 L642.51,527.67 L644.00,526.87 L645.68,526.78 L647.14,525.94 L648.83,525.82 L650.23,524.85 L651.77,524.29 L653.30,523.70 L654.74,522.91 L656.30,522.36 L657.75,521.59 L659.24,520.89 L660.66,520.06 L661.98,519.07 L663.22,517.98 L664.60,517.09 L665.93,516.13 L667.32,515.24 L668.61,514.22 L669.94,513.24 L670.93,511.89 L672.10,510.74 L673.35,509.66 L674.49,508.47 L675.59,507.25 L676.40,505.79 L677.52,504.58 L678.45,503.23 L679.33,501.84 L680.52,500.66 L681.29,499.20 L681.93,497.67 L682.66,496.20 L683.65,494.87 L684.51,493.46 L684.93,491.84 L685.79,490.42 L686.26,488.84 L686.96,487.34 L687.09,485.65 L687.63,484.10 L688.05,482.52 L688.76,481.00 L688.70,479.31 L689.28,477.75 L689.40,476.11 L689.77,474.50 L690.00,472.87 L690.12,471.23 L689.90,469.57 L690.04,467.94 L690.06,466.30 L690.25,464.65 L689.80,463.03 L689.84,461.39 L689.71,459.75 L689.59,458.11 L689.07,456.53 L689.01,454.88 L688.52,453.30 L688.01,451.74 L687.38,450.22 L686.72,448.72 L686.30,447.14 L685.84,445.58 L685.30,444.04 L684.58,442.57 L683.78,441.15 L682.81,439.82 L681.96,438.44 L681.31,436.95 L680.36,435.64 L679.55,434.24 L678.64,432.91 L677.45,431.78 L676.61,430.41 L675.24,429.44 L674.39,428.08Z" fill="#ee6a42"/><path d="M641.78,524.61 L640.25,524.96 L638.72,525.26 L637.17,525.52 L635.63,525.75 L634.07,525.93 L632.51,526.07 L630.95,526.17 L629.39,526.23 L627.82,526.24 L626.26,526.22 L624.69,526.15 L623.13,526.05 L621.57,525.90 L620.02,525.71 L618.47,525.48 L616.93,525.21 L615.40,524.90 L613.87,524.55 L612.35,524.15 L610.85,523.72 L609.36,523.25" stroke="#f4f3ef" stroke-width="0.40" fill="none" opacity="0.45"/><path d="M566.63,465.94 L566.69,464.32 L566.78,462.70 L566.92,461.08 L567.10,459.47 L567.33,457.87 L567.59,456.27 L567.90,454.68 L568.25,453.10 L568.64,451.52 L569.08,449.96 L569.55,448.41 L570.07,446.88 L570.62,445.36 L571.22,443.85 L571.85,442.36 L572.53,440.89 L573.24,439.43 L573.99,438.00 L574.78,436.58 L575.60,435.19" stroke="#f4f3ef" stroke-width="0.40" fill="none" opacity="0.45"/><path d="M663.98,516.24 L662.66,517.17 L661.33,518.07 L659.97,518.93 L658.58,519.76 L657.18,520.55 L655.75,521.30 L654.31,522.01 L652.85,522.69 L651.37,523.32 L649.87,523.92 L648.36,524.47 L646.83,524.99 L645.29,525.47 L643.74,525.90 L642.18,526.30 L640.61,526.65 L639.03,526.96 L637.44,527.23 L635.85,527.46 L634.25,527.64 L632.64,527.79 L631.04,527.89 L629.43,527.94 L627.82,527.96 L626.21,527.93 L624.60,527.86 L622.99,527.75 L621.39,527.59" stroke="#f4f3ef" stroke-width="0.40" fill="none" opacity="0.45"/><path d="M640.85,408.59 L642.39,408.93 L643.92,409.32 L645.45,409.74 L646.96,410.21 L648.46,410.71 L649.94,411.25 L651.42,411.83" stroke="#f4f3ef" stroke-width="0.40" fill="none" opacity="0.45"/><path d="M612.90,410.00 L614.40,409.61 L615.92,409.25 L617.45,408.93 L618.98,408.65 L620.52,408.41 L622.07,408.21 L623.62,408.05 L625.18,407.92 L626.74,407.84 L628.31,407.80 L629.87,407.79 L631.44,407.83 L633.00,407.90 L634.56,408.02 L636.12,408.18 L637.68,408.37 L639.23,408.61 L640.78,408.88" stroke="#f4f3ef" stroke-width="0.40" fill="none" opacity="0.45"/><path d="M576.93,499.30 L576.09,497.94 L575.29,496.55 L574.53,495.15 L573.81,493.73 L573.12,492.29 L572.48,490.83 L571.87,489.35 L571.30,487.86 L570.77,486.36 L570.28,484.84 L569.83,483.31 L569.42,481.76 L569.05,480.21 L568.72,478.65 L568.44,477.08 L568.19,475.50 L567.99,473.92 L567.83,472.33 L567.71,470.74 L567.63,469.15 L567.60,467.55 L567.61,465.96 L567.66,464.36 L567.75,462.77 L567.88,461.18 L568.06,459.59 L568.28,458.01 L568.54,456.44 L568.84,454.87 L569.18,453.31" stroke="#f4f3ef" stroke-width="0.40" fill="none" opacity="0.45"/><path d="M682.22,440.11 L682.94,441.54 L683.61,442.99 L684.26,444.46 L684.86,445.94 L685.42,447.44 L685.94,448.96 L686.43,450.49 L686.98,452.00 L687.36,453.56 L687.69,455.14 L687.99,456.72 L688.24,458.30 L688.45,459.90 L688.62,461.50 L688.74,463.10 L688.82,464.71 L688.87,466.31 L688.86,467.92 L688.82,469.53 L688.73,471.14 L688.60,472.74 L688.43,474.34 L688.22,475.93 L687.96,477.52 L687.66,479.10 L687.32,480.67 L686.94,482.23 L686.52,483.78 L686.05,485.32" stroke="#f4f3ef" stroke-width="0.40" fill="none" opacity="0.45"/><path d="M618.37,526.12 L616.81,525.85 L615.26,525.53 L613.72,525.18 L612.18,524.78 L610.66,524.34 L609.15,523.86 L607.66,523.35 L606.18,522.79 L604.71,522.19 L603.26,521.56 L601.83,520.89 L600.41,520.18 L599.02,519.43 L597.64,518.65 L596.29,517.83 L594.96,516.97 L593.65,516.08 L592.37,515.16 L591.11,514.20 L589.87,513.21 L588.67,512.18 L587.49,511.13 L586.33,510.04 L585.21,508.93 L584.12,507.78 L583.06,506.61 L582.03,505.41 L581.03,504.18 L580.06,502.93 L579.13,501.65 L578.23,500.35 L577.37,499.02 L576.54,497.67 L575.74,496.30 L574.99,494.91 L574.27,493.50 L573.59,492.07 L572.94,490.63 L572.34,489.17 L571.77,487.69 L571.25,486.20" stroke="#f4f3ef" stroke-width="0.40" fill="none" opacity="0.45"/><path d="M610.44,525.09 L608.91,524.60 L607.40,524.08 L605.90,523.51 L604.41,522.91 L602.94,522.26 L601.49,521.58 L600.06,520.86 L598.65,520.10 L597.26,519.31 L595.89,518.47 L594.54,517.61 L593.21,516.70 L591.92,515.77 L590.64,514.79 L589.39,513.79 L588.17,512.75 L586.98,511.68 L585.81,510.58 L584.68,509.45 L583.57,508.29 L582.50,507.10 L581.46,505.89 L580.45,504.64 L579.47,503.37" stroke="#f4f3ef" stroke-width="0.40" fill="none" opacity="0.45"/><path d="M578.79,503.88 L577.84,502.56 L576.92,501.22 L576.04,499.86 L575.19,498.47 L574.38,497.07 L573.61,495.64 L572.88,494.19 L572.18,492.72 L571.52,491.24 L570.91,489.74 L570.33,488.22 L569.79,486.69 L569.30,485.14 L568.84,483.58 L568.43,482.01 L568.06,480.43 L567.73,478.84 L567.44,477.25 L567.20,475.64 L566.99,474.03 L566.83,472.42 L566.71,470.80 L566.64,469.18 L566.61,467.56 L566.62,465.94 L566.67,464.32 L566.77,462.70 L566.91,461.08 L567.09,459.47 L567.31,457.87 L567.58,456.27 L567.89,454.68 L568.24,453.09" stroke="#f4f3ef" stroke-width="0.40" fill="none" opacity="0.45"/><path d="M622.96,528.15 L621.35,527.99 L619.74,527.79 L618.13,527.55 L616.54,527.26 L614.95,526.94 L613.37,526.57 L611.81,526.16 L610.25,525.71 L608.71,525.22 L607.17,524.69 L605.66,524.11 L604.16,523.50 L602.68,522.85 L601.21,522.16 L599.76,521.43 L598.34,520.66 L596.93,519.86 L595.55,519.02 L594.19,518.14 L592.85,517.22 L591.54,516.28 L590.25,515.29 L588.99,514.28 L587.76,513.23 L586.55,512.15 L585.38,511.03 L584.23,509.89 L583.12,508.72 L582.03,507.51 L580.98,506.28 L579.96,505.03 L578.98,503.74 L578.03,502.43 L577.11,501.10" stroke="#f4f3ef" stroke-width="0.40" fill="none" opacity="0.45"/><path d="M568.75,465.98 L568.80,464.41 L568.88,462.85 L569.01,461.29 L569.18,459.73 L569.39,458.18 L569.64,456.63 L569.93,455.10 L570.27,453.57 L570.64,452.04 L571.05,450.53 L571.51,449.03 L572.00,447.55 L572.53,446.07 L573.10,444.62 L573.71,443.17 L574.36,441.75 L575.04,440.34 L575.76,438.95 L576.52,437.58 L577.31,436.22 L578.14,434.90 L579.00,433.59" stroke="#f4f3ef" stroke-width="0.40" fill="none" opacity="0.45"/><path d="M585.60,510.80 L584.46,509.67 L583.35,508.50 L582.27,507.31 L581.22,506.08 L580.21,504.83 L579.23,503.55 L578.28,502.25 L577.37,500.92 L576.49,499.57 L575.65,498.20 L574.85,496.81 L574.08,495.39 L573.35,493.95 L572.66,492.50 L572.01,491.03 L571.40,489.54 L570.82,488.04 L570.29,486.52 L569.80,484.99 L569.35,483.44 L568.93,481.89" stroke="#f4f3ef" stroke-width="0.40" fill="none" opacity="0.45"/><path d="M688.44,472.72 L688.27,474.32 L688.06,475.91 L687.80,477.49 L687.50,479.07 L687.16,480.63 L686.78,482.19 L686.36,483.74 L685.90,485.28 L685.40,486.80 L684.86,488.31 L684.27,489.80 L683.65,491.28 L682.99,492.74 L682.29,494.19 L681.55,495.61 L680.78,497.02 L679.97,498.40 L679.12,499.76 L678.24,501.10 L677.32,502.42 L676.37,503.71 L675.38,504.97 L674.36,506.21 L673.31,507.42 L672.23,508.60 L671.11,509.76 L669.97,510.88 L668.79,511.97 L667.59,513.04 L666.36,514.06" stroke="#f4f3ef" stroke-width="0.40" fill="none" opacity="0.45"/><path d="M596.74,520.18 L595.35,519.33 L593.98,518.45 L592.64,517.53 L591.32,516.57 L590.02,515.58 L588.76,514.56 L587.52,513.50 L586.31,512.41 L585.12,511.29 L583.97,510.14 L582.85,508.96 L581.76,507.75 L580.70,506.51 L579.68,505.25 L578.69,503.96 L577.73,502.64 L576.81,501.30 L575.93,499.93 L575.08,498.54 L574.27,497.13 L573.50,495.70 L572.76,494.25 L572.07,492.78 L571.41,491.29 L570.79,489.78 L570.21,488.26 L569.68,486.73 L569.18,485.18 L568.72,483.62 L568.31,482.04 L567.94,480.46" stroke="#ee6a42" stroke-width="0.50" fill="none" opacity="0.60"/><path d="M578.64,431.40 L579.60,430.11 L580.60,428.84 L581.62,427.61 L582.68,426.40 L583.77,425.21 L584.89,424.06 L586.04,422.94 L587.22,421.85 L588.43,420.79 L589.67,419.76 L590.93,418.77 L592.22,417.81 L593.53,416.88 L594.87,415.99 L596.23,415.13 L597.61,414.31 L599.01,413.53 L600.44,412.79 L601.88,412.08 L603.34,411.41 L604.82,410.78 L606.31,410.19 L607.82,409.64 L609.34,409.12 L610.85,408.57 L612.40,408.14 L613.97,407.76 L615.54,407.43 L617.12,407.14 L618.71,406.89 L620.30,406.68 L621.90,406.52 L623.50,406.41 L625.11,406.33 L626.71,406.30 L628.31,406.32" stroke="#ee6a42" stroke-width="0.50" fill="none" opacity="0.60"/><path d="M569.11,475.37 L568.91,473.81 L568.74,472.25 L568.63,470.68 L568.55,469.11 L568.51,467.54 L568.52,465.97 L568.56,464.40 L568.65,462.83 L568.78,461.26 L568.95,459.70 L569.16,458.14 L569.41,456.59 L569.71,455.05 L570.04,453.51 L570.42,451.99 L570.83,450.47 L571.29,448.97 L571.78,447.47 L572.32,445.99" stroke="#ee6a42" stroke-width="0.50" fill="none" opacity="0.60"/><circle cx="688.76" cy="477.66" r="0.30" fill="#f4f3ef" opacity="0.55"/><circle cx="569.43" cy="478.51" r="0.37" fill="#f4f3ef" opacity="0.55"/><circle cx="639.46" cy="407.45" r="0.36" fill="#f4f3ef" opacity="0.55"/><circle cx="579.72" cy="430.19" r="0.40" fill="#f4f3ef" opacity="0.55"/><circle cx="586.26" cy="510.13" r="0.47" fill="#f4f3ef" opacity="0.55"/><circle cx="686.09" cy="452.23" r="0.47" fill="#f4f3ef" opacity="0.55"/><circle cx="674.74" cy="502.47" r="0.37" fill="#f4f3ef" opacity="0.55"/><circle cx="650.03" cy="411.03" r="0.29" fill="#f4f3ef" opacity="0.55"/><circle cx="686.55" cy="475.68" r="0.38" fill="#f4f3ef" opacity="0.55"/><circle cx="688.49" cy="469.52" r="0.36" fill="#f4f3ef" opacity="0.55"/><circle cx="676.41" cy="432.52" r="0.31" fill="#f4f3ef" opacity="0.55"/><circle cx="617.30" cy="408.09" r="0.32" fill="#f4f3ef" opacity="0.55"/><circle cx="641.55" cy="523.67" r="0.48" fill="#f4f3ef" opacity="0.55"/><circle cx="595.01" cy="516.90" r="0.36" fill="#f4f3ef" opacity="0.55"/><circle cx="610.84" cy="408.52" r="0.44" fill="#f4f3ef" opacity="0.55"/><circle cx="631.05" cy="528.08" r="0.31" fill="#f4f3ef" opacity="0.55"/><circle cx="632.45" cy="525.27" r="0.32" fill="#f4f3ef" opacity="0.55"/><circle cx="686.71" cy="472.56" r="0.50" fill="#f4f3ef" opacity="0.55"/><circle cx="658.44" cy="519.51" r="0.35" fill="#f4f3ef" opacity="0.55"/><circle cx="607.61" cy="409.04" r="0.41" fill="#f4f3ef" opacity="0.55"/><circle cx="681.80" cy="440.32" r="0.36" fill="#f4f3ef" opacity="0.55"/><circle cx="687.25" cy="479.02" r="0.50" fill="#f4f3ef" opacity="0.55"/><circle cx="638.96" cy="526.57" r="0.40" fill="#f4f3ef" opacity="0.55"/><circle cx="685.52" cy="447.41" r="0.43" fill="#f4f3ef" opacity="0.55"/><circle cx="603.15" cy="410.99" r="0.40" fill="#f4f3ef" opacity="0.55"/><circle cx="622.96" cy="528.07" r="0.31" fill="#f4f3ef" opacity="0.55"/><circle cx="568.79" cy="465.98" r="0.32" fill="#f4f3ef" opacity="0.55"/><circle cx="577.05" cy="434.19" r="0.48" fill="#f4f3ef" opacity="0.55"/><circle cx="573.03" cy="442.88" r="0.43" fill="#f4f3ef" opacity="0.55"/><circle cx="582.65" cy="426.37" r="0.39" fill="#f4f3ef" opacity="0.55"/><circle cx="647.15" cy="409.63" r="0.33" fill="#f4f3ef" opacity="0.55"/><circle cx="640.21" cy="524.75" r="0.50" fill="#f4f3ef" opacity="0.55"/><circle cx="580.65" cy="430.90" r="0.28" fill="#f4f3ef" opacity="0.55"/><circle cx="590.54" cy="418.26" r="0.46" fill="#f4f3ef" opacity="0.55"/><circle cx="688.30" cy="480.90" r="0.40" fill="#f4f3ef" opacity="0.55"/><path d="M638.31,406.96 A60.91,60.91 0 0 1 672.24,425.13" stroke="#ee6a42" stroke-width="0.76" fill="none" opacity="0.57"/><path d="M637.58,406.77 A60.99,60.99 0 0 1 674.51,427.55" stroke="#ee6a42" stroke-width="0.79" fill="none" opacity="0.67"/><path d="M638.92,407.34 A60.65,60.65 0 0 1 670.07,423.32" stroke="#ee6a42" stroke-width="0.72" fill="none" opacity="0.69"/>
<defs><filter id="gs" x="-5%" y="-20%" width="110%" height="140%" color-interpolation-filters="sRGB"><feColorMatrix type="matrix" values="0.2126 0.7152 0.0722 0 0.0  0.2126 0.7152 0.0722 0 0.02  0.2126 0.7152 0.0722 0 0.055  0 0 0 1 0"/></filter></defs><g filter="url(#gs)">
<text x="183.4" y="95.7" textLength="111.7" lengthAdjust="spacingAndGlyphs">CommentApp</text>
<text x="45.9" y="278.2" textLength="112.9" lengthAdjust="spacingAndGlyphs">CommentInput</text>
<text x="335.7" y="275.8" textLength="106" lengthAdjust="spacingAndGlyphs">CommentList</text>
<text x="157.3" y="471.0" textLength="77.3" lengthAdjust="spacingAndGlyphs">Comment</text>
<text x="300.9" y="470.9" textLength="77.3" lengthAdjust="spacingAndGlyphs">Comment</text>
<text x="445.4" y="469.7" textLength="77.3" lengthAdjust="spacingAndGlyphs">Comment</text>
<text x="588.8" y="469.6" textLength="77.3" lengthAdjust="spacingAndGlyphs">Comment</text>
</g>
<circle cx="785.9" cy="471.3" r="1.3" fill="#555a60"/>
<circle cx="795.2" cy="471.3" r="1.3" fill="#555a60"/>
<circle cx="804.5" cy="471.3" r="1.3" fill="#555a60"/>
</svg></body></html>
